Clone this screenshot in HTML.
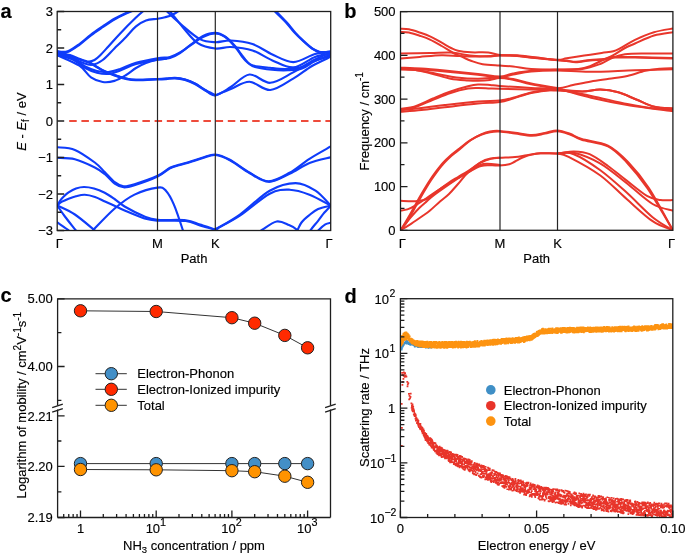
<!DOCTYPE html>
<html><head><meta charset="utf-8"><style>
html,body{margin:0;padding:0;background:#fff;width:685px;height:553px;overflow:hidden}
svg{display:block;font-family:"Liberation Sans",sans-serif;will-change:transform}
</style></head><body>
<svg width="685" height="553" viewBox="0 0 685 553" font-family="Liberation Sans, sans-serif" fill="#000"><style>text{stroke:#000;stroke-width:0.15px}</style><clipPath id="ca"><rect x="57.2" y="11.5" width="273.5" height="219.0"/></clipPath>
<line x1="64.8" y1="121" x2="330.7" y2="121" stroke="#ee4b3b" stroke-width="1.8" stroke-dasharray="7.5 4.7" stroke-dashoffset="7.8"/>
<g clip-path="url(#ca)" fill="none" stroke="#0f3cfa" stroke-width="2.15" stroke-linecap="round">
<path stroke-width="2.6" d="M91.00 63.40 C92.95 64.57 98.80 68.42 102.70 70.40 C106.60 72.38 110.50 73.90 114.40 75.30 C118.30 76.70 122.50 78.02 126.10 78.80 C129.70 79.58 130.75 79.92 136.00 80.00 C141.25 80.08 152.60 79.48 157.60 79.30 C162.60 79.12 163.10 79.08 166.00 78.90 C168.90 78.72 171.83 78.05 175.00 78.20 C178.17 78.35 181.67 78.87 185.00 79.80 C188.33 80.73 191.67 82.07 195.00 83.80 C198.33 85.53 201.62 88.28 205.00 90.20 C208.38 92.12 213.58 94.45 215.30 95.30"/>
<path d="M57.20 51.50 C58.95 51.47 64.00 52.55 67.70 51.30 C71.40 50.05 75.52 46.80 79.40 44.00 C83.28 41.20 87.12 37.43 91.00 34.50 C94.88 31.57 98.80 29.02 102.70 26.40 C106.60 23.78 110.50 21.05 114.40 18.80 C118.30 16.55 122.50 14.53 126.10 12.90 C129.70 11.27 132.68 10.15 136.00 9.00 C139.32 7.85 144.33 6.50 146.00 6.00"/>
<path d="M57.20 52.00 C58.95 52.00 64.00 53.20 67.70 52.00 C71.40 50.80 75.52 47.58 79.40 44.80 C83.28 42.02 87.12 38.23 91.00 35.30 C94.88 32.37 98.80 29.82 102.70 27.20 C106.60 24.58 110.50 21.87 114.40 19.60 C118.30 17.33 122.50 15.27 126.10 13.60 C129.70 11.93 132.68 10.77 136.00 9.60 C139.32 8.43 144.33 7.10 146.00 6.60"/>
<path d="M57.20 52.50 C59.33 52.92 66.20 53.92 70.00 55.00 C73.80 56.08 76.88 57.90 80.00 59.00 C83.12 60.10 86.28 61.43 88.70 61.60 C91.12 61.77 92.62 61.02 94.50 60.00 C96.38 58.98 97.65 57.80 100.00 55.50 C102.35 53.20 105.23 49.88 108.60 46.20 C111.97 42.52 115.63 38.17 120.20 33.40 C124.77 28.63 132.03 21.42 136.00 17.60 C139.97 13.78 141.33 12.77 144.00 10.50 C146.67 8.23 150.67 5.08 152.00 4.00"/>
<path d="M57.20 53.50 C59.67 54.25 67.87 56.50 72.00 58.00 C76.13 59.50 78.67 61.37 82.00 62.50 C85.33 63.63 88.55 65.22 92.00 64.80 C95.45 64.38 98.97 62.72 102.70 60.00 C106.43 57.28 110.50 52.35 114.40 48.50 C118.30 44.65 122.50 40.58 126.10 36.90 C129.70 33.22 132.68 29.13 136.00 26.40 C139.32 23.67 142.40 21.78 146.00 20.50 C149.60 19.22 154.43 19.25 157.60 18.70 C160.77 18.15 162.60 17.82 165.00 17.20 C167.40 16.58 169.50 16.20 172.00 15.00 C174.50 13.80 177.67 11.83 180.00 10.00 C182.33 8.17 185.00 5.00 186.00 4.00"/>
<path d="M57.20 51.10 C59.92 52.17 67.87 55.45 73.50 57.50 C79.13 59.55 86.13 61.25 91.00 63.40 C95.87 65.55 98.80 68.47 102.70 70.40 C106.60 72.33 110.50 73.65 114.40 75.00 C118.30 76.35 122.50 77.72 126.10 78.50 C129.70 79.28 130.75 79.62 136.00 79.70 C141.25 79.78 152.60 79.18 157.60 79.00 C162.60 78.82 163.10 78.78 166.00 78.60 C168.90 78.42 171.83 77.75 175.00 77.90 C178.17 78.05 181.67 78.57 185.00 79.50 C188.33 80.43 191.67 81.75 195.00 83.50 C198.33 85.25 201.62 88.05 205.00 90.00 C208.38 91.95 211.00 95.70 215.30 95.20 C219.60 94.70 225.10 90.45 230.80 87.00 C236.50 83.55 242.92 75.20 249.50 74.50 C256.08 73.80 263.02 83.15 270.30 82.80 C277.58 82.45 286.25 75.87 293.20 72.40 C300.15 68.93 305.75 64.77 312.00 62.00 C318.25 59.23 327.58 56.83 330.70 55.80"/>
<path d="M57.20 55.20 C59.92 55.98 68.83 57.77 73.50 59.90 C78.17 62.03 81.30 65.87 85.20 68.00 C89.10 70.13 93.00 71.72 96.90 72.70 C100.80 73.68 104.72 74.28 108.60 73.90 C112.48 73.52 115.63 72.05 120.20 70.40 C124.77 68.75 129.77 65.82 136.00 64.00 C142.23 62.18 151.93 60.50 157.60 59.50 C163.27 58.50 166.27 59.08 170.00 58.00 C173.73 56.92 176.40 55.33 180.00 53.00 C183.60 50.67 187.77 46.83 191.60 44.00 C195.43 41.17 199.05 37.85 203.00 36.00 C206.95 34.15 211.63 32.82 215.30 32.90 C218.97 32.98 221.72 34.32 225.00 36.50 C228.28 38.68 232.33 43.08 235.00 46.00 C237.67 48.92 239.00 51.42 241.00 54.00 C243.00 56.58 245.00 59.58 247.00 61.50 C249.00 63.42 249.17 64.45 253.00 65.50 C256.83 66.55 264.67 67.22 270.00 67.80 C275.33 68.38 280.00 69.05 285.00 69.00 C290.00 68.95 295.00 69.08 300.00 67.50 C305.00 65.92 309.88 61.98 315.00 59.50 C320.12 57.02 328.08 53.75 330.70 52.60"/>
<path d="M57.20 54.00 C59.92 54.83 68.83 56.92 73.50 59.00 C78.17 61.08 81.30 64.50 85.20 66.50 C89.10 68.50 93.00 70.08 96.90 71.00 C100.80 71.92 104.72 72.33 108.60 72.00 C112.48 71.67 115.63 70.53 120.20 69.00 C124.77 67.47 129.77 64.58 136.00 62.80 C142.23 61.02 151.93 59.27 157.60 58.30 C163.27 57.33 166.27 57.97 170.00 57.00 C173.73 56.03 176.40 54.58 180.00 52.50 C183.60 50.42 187.77 47.08 191.60 44.50 C195.43 41.92 199.05 38.83 203.00 37.00 C206.95 35.17 211.47 33.42 215.30 33.50 C219.13 33.58 222.55 35.08 226.00 37.50 C229.45 39.92 233.33 44.83 236.00 48.00 C238.67 51.17 240.00 54.00 242.00 56.50 C244.00 59.00 245.83 61.25 248.00 63.00 C250.17 64.75 251.00 65.87 255.00 67.00 C259.00 68.13 266.50 69.25 272.00 69.80 C277.50 70.35 283.00 70.52 288.00 70.30 C293.00 70.08 297.50 70.05 302.00 68.50 C306.50 66.95 310.22 63.33 315.00 61.00 C319.78 58.67 328.08 55.58 330.70 54.50"/>
<path d="M57.20 55.20 C60.90 56.95 73.77 62.00 79.40 65.70 C85.03 69.40 87.12 74.68 91.00 77.40 C94.88 80.12 98.80 81.42 102.70 82.00 C106.60 82.58 110.50 82.07 114.40 80.90 C118.30 79.73 122.50 77.15 126.10 75.00 C129.70 72.85 132.68 70.00 136.00 68.00 C139.32 66.00 142.40 64.37 146.00 63.00 C149.60 61.63 154.27 60.50 157.60 59.80 C160.93 59.10 164.60 58.97 166.00 58.80"/>
<path d="M158.00 1.00 C159.43 2.67 162.73 7.08 166.60 11.00 C170.47 14.92 175.65 19.82 181.20 24.50 C186.75 29.18 194.22 36.15 199.90 39.10 C205.58 42.05 210.15 41.97 215.30 42.20 C220.45 42.43 224.60 40.20 230.80 40.50 C237.00 40.80 245.57 41.67 252.50 44.00 C259.43 46.33 265.58 51.48 272.40 54.50 C279.22 57.52 286.30 62.18 293.40 62.10 C300.50 62.02 308.78 55.75 315.00 54.00 C321.22 52.25 328.08 52.00 330.70 51.60"/>
<path d="M161.00 1.00 C162.45 2.67 166.00 6.55 169.70 11.00 C173.40 15.45 178.52 22.33 183.20 27.70 C187.88 33.07 192.45 39.73 197.80 43.20 C203.15 46.67 209.80 47.87 215.30 48.50 C220.80 49.13 224.60 46.68 230.80 47.00 C237.00 47.32 245.57 48.17 252.50 50.40 C259.43 52.63 265.58 57.57 272.40 60.40 C279.22 63.23 286.30 67.98 293.40 67.40 C300.50 66.82 308.78 59.18 315.00 56.90 C321.22 54.62 328.08 54.23 330.70 53.70"/>
<path d="M215.30 95.30 C217.88 94.25 225.10 91.25 230.80 89.00 C236.50 86.75 242.92 81.63 249.50 81.80 C256.08 81.97 263.02 90.53 270.30 90.00 C277.58 89.47 286.25 82.60 293.20 78.60 C300.15 74.60 305.75 69.63 312.00 66.00 C318.25 62.37 327.58 58.33 330.70 56.80"/>
<path d="M265.00 1.00 C266.58 2.67 271.00 7.42 274.50 11.00 C278.00 14.58 282.75 19.00 286.00 22.50 C289.25 26.00 291.15 28.92 294.00 32.00 C296.85 35.08 300.08 38.25 303.10 41.00 C306.12 43.75 309.38 46.70 312.10 48.50 C314.82 50.30 317.25 51.22 319.40 51.80 C321.55 52.38 323.12 52.08 325.00 52.00 C326.88 51.92 329.75 51.42 330.70 51.30"/>
<path d="M266.50 1.00 C268.03 2.67 272.23 7.33 275.70 11.00 C279.17 14.67 284.03 19.40 287.30 23.00 C290.57 26.60 292.47 29.50 295.30 32.60 C298.13 35.70 301.32 38.83 304.30 41.60 C307.28 44.37 310.53 47.38 313.20 49.20 C315.87 51.02 318.25 51.90 320.30 52.50 C322.35 53.10 323.77 52.85 325.50 52.80 C327.23 52.75 329.83 52.30 330.70 52.20"/>
<path d="M57.20 147.30 C60.15 147.73 68.63 147.37 74.90 149.90 C81.17 152.43 89.83 158.82 94.80 162.50 C99.77 166.18 101.38 168.72 104.70 172.00 C108.02 175.28 111.55 179.82 114.70 182.20 C117.85 184.58 120.30 185.97 123.60 186.30 C126.90 186.63 128.83 185.95 134.50 184.20 C140.17 182.45 151.68 178.53 157.60 175.80 C163.52 173.07 166.27 169.68 170.00 167.80 C173.73 165.92 176.70 165.50 180.00 164.50 C183.30 163.50 185.97 162.97 189.80 161.80 C193.63 160.63 198.75 158.72 203.00 157.50 C207.25 156.28 210.82 154.12 215.30 154.50 C219.78 154.88 224.15 156.75 229.90 159.80 C235.65 162.85 243.33 169.22 249.80 172.80 C256.27 176.38 262.07 181.30 268.70 181.30 C275.33 181.30 282.80 176.55 289.60 172.80 C296.40 169.05 302.65 163.18 309.50 158.80 C316.35 154.42 327.17 148.55 330.70 146.50"/>
<path d="M57.20 157.80 C60.15 158.05 68.63 157.68 74.90 159.30 C81.17 160.92 89.83 165.05 94.80 167.50 C99.77 169.95 101.38 171.30 104.70 174.00 C108.02 176.70 111.55 181.48 114.70 183.70 C117.85 185.92 120.30 187.05 123.60 187.30 C126.90 187.55 128.83 187.00 134.50 185.20 C140.17 183.40 151.68 179.32 157.60 176.50 C163.52 173.68 166.27 170.22 170.00 168.30 C173.73 166.38 176.70 166.00 180.00 165.00 C183.30 164.00 185.97 163.47 189.80 162.30 C193.63 161.13 198.75 159.22 203.00 158.00 C207.25 156.78 210.82 154.62 215.30 155.00 C219.78 155.38 224.15 157.25 229.90 160.30 C235.65 163.35 243.33 169.72 249.80 173.30 C256.27 176.88 262.07 181.72 268.70 181.80 C275.33 181.88 282.80 176.93 289.60 173.80 C296.40 170.67 302.65 165.77 309.50 163.00 C316.35 160.23 327.17 158.17 330.70 157.20"/>
<path d="M57.20 205.50 C57.67 204.72 58.87 202.33 60.00 200.80 C61.13 199.27 62.57 197.70 64.00 196.30 C65.43 194.90 66.60 193.70 68.60 192.40 C70.60 191.10 73.43 189.40 76.00 188.50 C78.57 187.60 81.00 187.00 84.00 187.00 C87.00 187.00 90.55 187.53 94.00 188.50 C97.45 189.47 101.28 191.05 104.70 192.80 C108.12 194.55 111.18 196.72 114.50 199.00 C117.82 201.28 119.60 203.58 124.60 206.50 C129.60 209.42 139.00 214.28 144.50 216.50 C150.00 218.72 150.72 219.18 157.60 219.80 C164.48 220.42 178.73 219.42 185.80 220.20 C192.87 220.98 195.08 222.95 200.00 224.50 C204.92 226.05 211.63 228.08 215.30 229.50 C218.97 230.92 220.88 232.42 222.00 233.00"/>
<path d="M57.20 205.50 C58.00 204.87 60.10 202.83 62.00 201.70 C63.90 200.57 66.27 199.62 68.60 198.70 C70.93 197.78 73.30 196.85 76.00 196.20 C78.70 195.55 81.63 194.67 84.80 194.80 C87.97 194.93 91.63 195.88 95.00 197.00 C98.37 198.12 101.75 200.03 105.00 201.50 C108.25 202.97 111.23 204.30 114.50 205.80 C117.77 207.30 119.60 208.38 124.60 210.50 C129.60 212.62 139.00 216.82 144.50 218.50 C150.00 220.18 150.72 220.18 157.60 220.60 C164.48 221.02 178.73 220.18 185.80 221.00 C192.87 221.82 195.08 224.00 200.00 225.50 C204.92 227.00 211.63 228.58 215.30 230.00 C218.97 231.42 220.88 233.33 222.00 234.00"/>
<path d="M57.20 205.50 C58.48 207.33 61.78 212.33 64.90 216.50 C68.02 220.67 73.38 227.25 75.90 230.50 C78.42 233.75 79.32 235.08 80.00 236.00"/>
<path d="M57.20 205.50 C60.15 207.00 68.63 210.33 74.90 214.50 C81.17 218.67 90.62 227.08 94.80 230.50 C98.98 233.92 99.13 234.25 100.00 235.00"/>
<path d="M88.00 236.00 C88.80 235.08 88.35 235.08 92.80 230.50 C97.25 225.92 107.75 214.48 114.70 208.50 C121.65 202.52 127.35 198.08 134.50 194.60 C141.65 191.12 152.37 188.25 157.60 187.60 C162.83 186.95 163.18 187.87 165.90 190.70 C168.62 193.53 171.08 198.05 173.90 204.60 C176.72 211.15 181.12 224.77 182.80 230.00 C184.48 235.23 183.80 235.00 184.00 236.00"/>
<path d="M57.20 222.40 C59.15 223.75 66.43 228.57 68.90 230.50 C71.37 232.43 71.48 233.42 72.00 234.00"/>
<path d="M205.00 236.00 C206.72 234.92 209.48 233.07 215.30 229.50 C221.12 225.93 230.83 221.07 239.90 214.60 C248.97 208.13 260.42 195.95 269.70 190.70 C278.98 185.45 287.97 183.10 295.60 183.10 C303.23 183.10 309.65 186.95 315.50 190.70 C321.35 194.45 328.17 203.12 330.70 205.60"/>
<path d="M205.00 236.00 C206.72 234.92 209.48 232.90 215.30 229.50 C221.12 226.10 230.83 221.57 239.90 215.60 C248.97 209.63 261.42 198.02 269.70 193.70 C277.98 189.38 282.97 189.53 289.60 189.70 C296.23 189.87 302.65 192.05 309.50 194.70 C316.35 197.35 327.17 203.78 330.70 205.60"/>
<path d="M255.00 236.00 C256.28 234.92 259.08 231.92 262.70 229.50 C266.32 227.08 272.32 222.25 276.70 221.50 C281.08 220.75 285.68 223.67 289.00 225.00 C292.32 226.33 294.77 227.67 296.60 229.50 C298.43 231.33 299.43 234.92 300.00 236.00"/>
<path d="M330.70 205.60 C328.60 206.17 321.72 207.37 318.10 209.00 C314.48 210.63 311.77 213.15 309.00 215.40 C306.23 217.65 303.40 220.07 301.50 222.50 C299.60 224.93 298.68 227.75 297.60 230.00 C296.52 232.25 295.43 235.00 295.00 236.00"/>
<path d="M330.70 206.00 C329.50 207.27 325.60 211.13 323.50 213.60 C321.40 216.07 320.22 218.10 318.10 220.80 C315.98 223.50 312.65 227.27 310.80 229.80 C308.95 232.33 307.63 234.97 307.00 236.00"/>
<path d="M330.70 222.80 C329.80 223.07 327.25 223.23 325.30 224.40 C323.35 225.57 320.88 227.87 319.00 229.80 C317.12 231.73 314.83 234.97 314.00 236.00"/>
</g>
<path d="M157.50 11.5V230.5M215.30 11.5V230.5" stroke="#262626" stroke-width="1.2"/>
<rect x="57.2" y="11.5" width="273.5" height="219.0" fill="none" stroke="#1e1e1e" stroke-width="1.3"/>
<path d="M57.2 230.50 h7 M57.2 194.00 h7 M57.2 157.50 h7 M57.2 121.00 h7 M57.2 84.50 h7 M57.2 48.00 h7 M57.2 11.50 h7 M57.2 212.25 h4 M57.2 175.75 h4 M57.2 139.25 h4 M57.2 102.75 h4 M57.2 66.25 h4 M57.2 29.75 h4 " stroke="#1e1e1e" stroke-width="1.3"/>
<text x="53.00" y="16.10" font-size="13" text-anchor="end" font-weight="normal" >3</text>
<text x="53.00" y="52.60" font-size="13" text-anchor="end" font-weight="normal" >2</text>
<text x="53.00" y="89.10" font-size="13" text-anchor="end" font-weight="normal" >1</text>
<text x="53.00" y="125.60" font-size="13" text-anchor="end" font-weight="normal" >0</text>
<text x="53.00" y="162.10" font-size="13" text-anchor="end" font-weight="normal" >−1</text>
<text x="53.00" y="198.60" font-size="13" text-anchor="end" font-weight="normal" >−2</text>
<text x="53.00" y="235.10" font-size="13" text-anchor="end" font-weight="normal" >−3</text>
<text x="59.40" y="247.90" font-size="13" text-anchor="middle" font-weight="normal" >Γ</text>
<text x="157.50" y="247.90" font-size="13" text-anchor="middle" font-weight="normal" >M</text>
<text x="215.30" y="247.90" font-size="13" text-anchor="middle" font-weight="normal" >K</text>
<text x="329.10" y="247.90" font-size="13" text-anchor="middle" font-weight="normal" >Γ</text>
<text x="194.00" y="263.20" font-size="13" text-anchor="middle" font-weight="normal" >Path</text>
<text transform="translate(26.1 121.6) rotate(-90)" font-size="13" text-anchor="middle"><tspan font-style="italic">E</tspan> - <tspan font-style="italic">E</tspan><tspan font-size="10" dy="2.5">f</tspan><tspan dy="-2.5"> / eV</tspan></text>
<text x="0.60" y="17.80" font-size="20" text-anchor="start" font-weight="bold" >a</text>
<clipPath id="cb"><rect x="400.5" y="11.6" width="272.4" height="218.7"/></clipPath>
<g clip-path="url(#cb)" fill="none" stroke="#e8362b" stroke-width="2.0" stroke-linecap="round">
<path d="M400.50 28.70 C401.90 28.80 405.70 28.67 408.90 29.30 C412.10 29.93 416.18 31.33 419.70 32.50 C423.22 33.67 426.33 34.60 430.00 36.30 C433.67 38.00 438.20 40.75 441.70 42.70 C445.20 44.65 448.28 46.65 451.00 48.00 C453.72 49.35 454.68 50.08 458.00 50.80 C461.32 51.52 465.83 52.02 470.90 52.30 C475.97 52.58 483.62 52.05 488.40 52.50 C493.18 52.95 494.82 54.53 499.60 55.00 C504.38 55.47 511.20 54.92 517.10 55.30 C523.00 55.68 528.27 56.55 535.00 57.30 C541.73 58.05 552.22 59.63 557.50 59.80 C562.78 59.97 562.25 59.00 566.70 58.30 C571.15 57.60 578.37 56.48 584.20 55.60 C590.03 54.72 596.83 53.72 601.70 53.00 C606.57 52.28 610.28 52.10 613.40 51.30 C616.52 50.50 616.80 50.12 620.40 48.20 C624.00 46.28 629.40 42.47 635.00 39.80 C640.60 37.13 647.68 34.08 654.00 32.20 C660.32 30.32 669.75 29.12 672.90 28.50"/>
<path d="M400.50 31.90 C401.90 31.98 405.70 31.77 408.90 32.40 C412.10 33.03 416.18 34.50 419.70 35.70 C423.22 36.90 426.33 37.88 430.00 39.60 C433.67 41.32 437.80 43.77 441.70 46.00 C445.60 48.23 449.90 51.13 453.40 53.00 C456.90 54.87 459.78 55.92 462.70 57.20 C465.62 58.48 467.58 59.53 470.90 60.70 C474.22 61.87 477.82 63.38 482.60 64.20 C487.38 65.02 494.52 65.23 499.60 65.60 C504.68 65.97 507.83 65.83 513.10 66.40 C518.37 66.97 523.80 68.43 531.20 69.00 C538.60 69.57 549.63 69.80 557.50 69.80 C565.37 69.80 572.98 69.60 578.40 69.00 C583.82 68.40 586.12 67.62 590.00 66.20 C593.88 64.78 597.80 62.33 601.70 60.50 C605.60 58.67 609.52 57.28 613.40 55.20 C617.28 53.12 621.40 49.95 625.00 48.00 C628.60 46.05 630.17 45.58 635.00 43.50 C639.83 41.42 647.68 37.38 654.00 35.50 C660.32 33.62 669.75 32.75 672.90 32.20"/>
<path d="M400.50 53.60 C405.42 53.52 421.58 53.28 430.00 53.10 C438.42 52.92 444.33 52.10 451.00 52.50 C457.67 52.90 463.83 54.83 470.00 55.50 C476.17 56.17 483.07 56.53 488.00 56.50 C492.93 56.47 494.75 55.42 499.60 55.30 C504.45 55.18 511.20 55.38 517.10 55.80 C523.00 56.22 528.27 57.10 535.00 57.80 C541.73 58.50 552.22 59.53 557.50 60.00 C562.78 60.47 563.62 60.30 566.70 60.60 C569.78 60.90 572.12 61.90 576.00 61.80 C579.88 61.70 585.33 60.48 590.00 60.00 C594.67 59.52 600.10 59.38 604.00 58.90 C607.90 58.42 608.23 57.40 613.40 57.10 C618.57 56.80 625.08 56.95 635.00 57.10 C644.92 57.25 666.58 57.85 672.90 58.00"/>
<path d="M400.50 58.50 C403.70 58.23 412.88 57.43 419.70 56.90 C426.52 56.37 434.68 55.45 441.40 55.30 C448.12 55.15 453.57 55.80 460.00 56.00 C466.43 56.20 473.40 56.58 480.00 56.50 C486.60 56.42 493.42 55.58 499.60 55.50 C505.78 55.42 511.20 55.58 517.10 56.00 C523.00 56.42 528.27 57.28 535.00 58.00 C541.73 58.72 552.22 59.80 557.50 60.30 C562.78 60.80 563.62 60.67 566.70 61.00 C569.78 61.33 572.12 62.38 576.00 62.30 C579.88 62.22 585.33 60.98 590.00 60.50 C594.67 60.02 600.10 59.88 604.00 59.40 C607.90 58.92 608.23 57.90 613.40 57.60 C618.57 57.30 625.08 57.45 635.00 57.60 C644.92 57.75 666.58 58.35 672.90 58.50"/>
<path d="M400.50 67.70 C403.98 67.85 414.03 68.12 421.40 68.60 C428.77 69.08 435.27 69.70 444.70 70.60 C454.13 71.50 468.85 73.02 478.00 74.00 C487.15 74.98 493.75 76.60 499.60 76.50 C505.45 76.40 507.83 74.37 513.10 73.40 C518.37 72.43 523.80 71.35 531.20 70.70 C538.60 70.05 549.02 69.78 557.50 69.50 C565.98 69.22 574.98 69.92 582.10 69.00 C589.22 68.08 595.22 65.83 600.20 64.00 C605.18 62.17 607.87 59.63 612.00 58.00 C616.13 56.37 619.50 54.97 625.00 54.20 C630.50 53.43 637.02 53.50 645.00 53.40 C652.98 53.30 668.25 53.57 672.90 53.60"/>
<path d="M400.50 68.40 C403.98 68.57 414.03 68.90 421.40 69.40 C428.77 69.90 435.27 70.50 444.70 71.40 C454.13 72.30 468.85 73.83 478.00 74.80 C487.15 75.77 493.75 77.25 499.60 77.20 C505.45 77.15 507.83 75.45 513.10 74.50 C518.37 73.55 523.80 72.17 531.20 71.50 C538.60 70.83 547.70 70.45 557.50 70.50 C567.30 70.55 577.08 71.85 590.00 71.80 C602.92 71.75 621.18 70.62 635.00 70.20 C648.82 69.78 666.58 69.45 672.90 69.30"/>
<path d="M400.50 69.40 C403.00 69.48 410.08 69.13 415.50 69.90 C420.92 70.67 427.15 72.53 433.00 74.00 C438.85 75.47 444.77 77.63 450.60 78.70 C456.43 79.77 463.43 80.05 468.00 80.40 C472.57 80.75 474.33 80.87 478.00 80.80 C481.67 80.73 486.40 80.45 490.00 80.00 C493.60 79.55 495.75 78.15 499.60 78.10 C503.45 78.05 507.83 78.67 513.10 79.70 C518.37 80.73 523.80 82.88 531.20 84.30 C538.60 85.72 550.53 88.08 557.50 88.20 C564.47 88.32 567.40 86.13 573.00 85.00 C578.60 83.87 585.10 82.43 591.10 81.40 C597.10 80.37 602.97 79.70 609.00 78.80 C615.03 77.90 621.23 77.33 627.30 76.00 C633.37 74.67 639.95 72.00 645.40 70.80 C650.85 69.60 655.42 69.22 660.00 68.80 C664.58 68.38 670.75 68.38 672.90 68.30"/>
<path d="M400.50 69.00 C403.75 69.25 413.42 69.58 420.00 70.50 C426.58 71.42 433.93 73.33 440.00 74.50 C446.07 75.67 450.07 76.80 456.40 77.50 C462.73 78.20 470.80 78.70 478.00 78.70 C485.20 78.70 493.75 77.45 499.60 77.50 C505.45 77.55 507.83 78.00 513.10 79.00 C518.37 80.00 523.80 82.00 531.20 83.50 C538.60 85.00 553.12 87.25 557.50 88.00"/>
<path d="M400.50 109.00 C403.00 108.52 410.08 107.85 415.50 106.10 C420.92 104.35 427.15 100.93 433.00 98.50 C438.85 96.07 444.77 93.53 450.60 91.50 C456.43 89.47 463.43 87.47 468.00 86.30 C472.57 85.13 474.33 84.72 478.00 84.50 C481.67 84.28 486.40 84.75 490.00 85.00 C493.60 85.25 492.73 85.52 499.60 86.00 C506.47 86.48 521.55 87.32 531.20 87.90 C540.85 88.48 547.52 88.17 557.50 89.50 C567.48 90.83 579.47 93.48 591.10 95.90 C602.73 98.32 616.75 101.88 627.30 104.00 C637.85 106.12 646.80 107.68 654.40 108.60 C662.00 109.52 669.82 109.35 672.90 109.50"/>
<path d="M400.50 109.80 C403.00 109.33 410.08 108.67 415.50 107.00 C420.92 105.33 427.15 102.13 433.00 99.80 C438.85 97.47 444.77 94.87 450.60 93.00 C456.43 91.13 463.43 89.43 468.00 88.60 C472.57 87.77 474.33 88.02 478.00 88.00 C481.67 87.98 486.40 88.37 490.00 88.50 C493.60 88.63 492.73 88.63 499.60 88.80 C506.47 88.97 521.55 89.22 531.20 89.50 C540.85 89.78 549.02 90.18 557.50 90.50 C565.98 90.82 574.98 91.55 582.10 91.40 C589.22 91.25 594.17 89.45 600.20 89.60 C606.23 89.75 612.28 90.65 618.30 92.30 C624.32 93.95 630.28 97.08 636.30 99.50 C642.32 101.92 648.30 105.32 654.40 106.80 C660.50 108.28 669.82 108.13 672.90 108.40"/>
<path d="M400.50 110.20 C403.98 109.82 414.03 108.77 421.40 107.90 C428.77 107.03 435.27 106.07 444.70 105.00 C454.13 103.93 468.85 102.25 478.00 101.50 C487.15 100.75 493.75 101.12 499.60 100.50 C505.45 99.88 507.83 99.15 513.10 97.80 C518.37 96.45 525.17 93.75 531.20 92.40 C537.23 91.05 544.92 90.30 549.30 89.70 C553.68 89.10 550.53 87.47 557.50 88.80 C564.47 90.13 579.47 95.02 591.10 97.70 C602.73 100.38 613.67 102.63 627.30 104.90 C640.93 107.17 665.30 110.23 672.90 111.30"/>
<path d="M400.50 111.80 C403.98 111.50 414.03 110.75 421.40 110.00 C428.77 109.25 435.27 108.37 444.70 107.30 C454.13 106.23 468.85 104.48 478.00 103.60 C487.15 102.72 493.75 102.85 499.60 102.00 C505.45 101.15 507.83 100.00 513.10 98.50 C518.37 97.00 525.17 94.37 531.20 93.00 C537.23 91.63 544.92 90.88 549.30 90.30 C553.68 89.72 552.03 89.32 557.50 89.50 C562.97 89.68 574.98 91.38 582.10 91.40 C589.22 91.42 594.17 89.45 600.20 89.60 C606.23 89.75 612.28 90.65 618.30 92.30 C624.32 93.95 630.28 97.08 636.30 99.50 C642.32 101.92 648.30 105.32 654.40 106.80 C660.50 108.28 669.82 108.13 672.90 108.40"/>
<path d="M400.50 230.30 C401.25 229.08 403.42 225.63 405.00 223.00 C406.58 220.37 408.33 217.42 410.00 214.50 C411.67 211.58 413.33 208.50 415.00 205.50 C416.67 202.50 418.33 199.42 420.00 196.50 C421.67 193.58 423.33 190.75 425.00 188.00 C426.67 185.25 428.33 182.53 430.00 180.00 C431.67 177.47 433.33 175.08 435.00 172.80 C436.67 170.52 438.33 168.30 440.00 166.30 C441.67 164.30 443.33 162.52 445.00 160.80 C446.67 159.08 447.50 158.13 450.00 156.00 C452.50 153.87 456.67 150.62 460.00 148.00 C463.33 145.38 466.48 142.50 470.00 140.30 C473.52 138.10 477.77 136.15 481.10 134.80 C484.43 133.45 486.92 132.73 490.00 132.20 C493.08 131.67 495.43 131.38 499.60 131.60 C503.77 131.82 509.63 132.80 515.00 133.50 C520.37 134.20 526.80 135.78 531.80 135.80 C536.80 135.82 540.72 134.37 545.00 133.60 C549.28 132.83 553.33 131.05 557.50 131.20 C561.67 131.35 565.97 133.08 570.00 134.50 C574.03 135.92 575.37 137.73 581.70 139.70 C588.03 141.67 600.55 142.58 608.00 146.30 C615.45 150.02 619.83 155.00 626.40 162.00 C632.97 169.00 639.65 176.92 647.40 188.30 C655.15 199.68 668.65 223.30 672.90 230.30"/>
<path d="M400.50 230.30 C401.45 229.08 404.42 225.63 406.20 223.00 C407.98 220.37 409.53 217.42 411.20 214.50 C412.87 211.58 414.53 208.50 416.20 205.50 C417.87 202.50 419.53 199.42 421.20 196.50 C422.87 193.58 424.53 190.75 426.20 188.00 C427.87 185.25 429.53 182.53 431.20 180.00 C432.87 177.47 434.53 175.08 436.20 172.80 C437.87 170.52 439.53 168.30 441.20 166.30 C442.87 164.30 444.53 162.52 446.20 160.80 C447.87 159.08 448.70 158.13 451.20 156.00 C453.70 153.87 457.90 150.67 461.20 148.00 C464.50 145.33 467.60 142.32 471.00 140.00 C474.40 137.68 478.43 135.53 481.60 134.10 C484.77 132.67 487.00 131.93 490.00 131.40 C493.00 130.87 495.43 130.68 499.60 130.90 C503.77 131.12 509.63 132.02 515.00 132.70 C520.37 133.38 526.80 134.97 531.80 135.00 C536.80 135.03 540.72 133.65 545.00 132.90 C549.28 132.15 553.33 130.35 557.50 130.50 C561.67 130.65 565.97 132.38 570.00 133.80 C574.03 135.22 575.37 137.03 581.70 139.00 C588.03 140.97 600.28 141.77 608.00 145.60 C615.72 149.43 621.17 154.88 628.00 162.00 C634.83 169.12 641.52 176.92 649.00 188.30 C656.48 199.68 668.92 223.30 672.90 230.30"/>
<path d="M400.50 200.80 C403.02 200.87 411.02 201.58 415.60 201.20 C420.18 200.82 424.27 200.28 428.00 198.50 C431.73 196.72 434.50 193.17 438.00 190.50 C441.50 187.83 445.67 184.75 449.00 182.50 C452.33 180.25 454.83 178.92 458.00 177.00 C461.17 175.08 464.17 173.42 468.00 171.00 C471.83 168.58 477.08 164.57 481.00 162.50 C484.92 160.43 488.40 159.38 491.50 158.60 C494.60 157.82 495.68 158.05 499.60 157.80 C503.52 157.55 510.48 157.52 515.00 157.10 C519.52 156.68 522.42 155.95 526.70 155.30 C530.98 154.65 535.57 153.52 540.70 153.20 C545.83 152.88 551.98 153.68 557.50 153.40 C563.02 153.12 568.45 151.37 573.80 151.50 C579.15 151.63 583.90 151.78 589.60 154.20 C595.30 156.62 601.87 161.63 608.00 166.00 C614.13 170.37 619.83 175.37 626.40 180.40 C632.97 185.43 641.72 192.93 647.40 196.20 C653.08 199.47 656.25 199.35 660.50 200.00 C664.75 200.65 670.83 200.08 672.90 200.10"/>
<path d="M400.50 210.60 C401.65 210.40 404.88 210.28 407.40 209.40 C409.92 208.52 412.27 207.28 415.60 205.30 C418.93 203.32 423.47 200.13 427.40 197.50 C431.33 194.87 435.60 191.83 439.20 189.50 C442.80 187.17 445.87 185.42 449.00 183.50 C452.13 181.58 454.83 179.87 458.00 178.00 C461.17 176.13 464.17 174.30 468.00 172.30 C471.83 170.30 477.08 167.17 481.00 166.00 C484.92 164.83 488.40 165.38 491.50 165.30 C494.60 165.22 496.65 165.67 499.60 165.50 C502.55 165.33 506.63 164.97 509.20 164.30 C511.77 163.63 512.67 162.67 515.00 161.50 C517.33 160.33 520.27 158.48 523.20 157.30 C526.13 156.12 529.68 155.07 532.60 154.40 C535.52 153.73 536.55 153.47 540.70 153.30 C544.85 153.13 551.98 153.48 557.50 153.40 C563.02 153.32 566.72 151.13 573.80 152.80 C580.88 154.47 591.23 158.37 600.00 163.40 C608.77 168.43 617.63 176.23 626.40 183.00 C635.17 189.77 644.85 199.40 652.60 204.00 C660.35 208.60 669.52 209.50 672.90 210.60"/>
<path d="M400.50 230.30 C401.25 229.33 403.18 226.78 405.00 224.50 C406.82 222.22 409.07 219.32 411.40 216.60 C413.73 213.88 416.47 210.73 419.00 208.20 C421.53 205.67 424.07 203.60 426.60 201.40 C429.13 199.20 430.47 197.82 434.20 195.00 C437.93 192.18 445.03 187.25 449.00 184.50 C452.97 181.75 454.83 180.58 458.00 178.50 C461.17 176.42 464.17 174.75 468.00 172.00 C471.83 169.25 477.08 164.27 481.00 162.00 C484.92 159.73 488.40 159.10 491.50 158.40 C494.60 157.70 498.25 157.90 499.60 157.80"/>
<path d="M400.50 230.30 C402.32 229.18 407.68 226.02 411.40 223.60 C415.12 221.18 419.70 217.98 422.80 215.80 C425.90 213.62 427.13 212.88 430.00 210.50 C432.87 208.12 436.83 204.25 440.00 201.50 C443.17 198.75 446.00 196.92 449.00 194.00 C452.00 191.08 454.83 187.53 458.00 184.00 C461.17 180.47 463.80 176.13 468.00 172.80 C472.20 169.47 477.93 165.30 483.20 164.00 C488.47 162.70 496.87 164.83 499.60 165.00"/>
<path d="M557.50 153.40 C560.22 153.53 566.72 151.43 573.80 154.20 C580.88 156.97 591.23 163.65 600.00 170.00 C608.77 176.35 617.63 184.43 626.40 192.30 C635.17 200.17 644.85 210.87 652.60 217.20 C660.35 223.53 669.52 228.12 672.90 230.30"/>
<path d="M557.50 153.40 C559.35 153.97 561.52 153.17 568.60 156.80 C575.68 160.43 590.37 168.20 600.00 175.20 C609.63 182.20 617.63 191.13 626.40 198.80 C635.17 206.47 644.85 215.95 652.60 221.20 C660.35 226.45 669.52 228.78 672.90 230.30"/>
</g>
<path d="M500.00 11.6V230.3M557.50 11.6V230.3" stroke="#262626" stroke-width="1.2"/>
<rect x="400.5" y="11.6" width="272.4" height="218.7" fill="none" stroke="#1e1e1e" stroke-width="1.3"/>
<path d="M400.5 230.30 h7 M400.5 186.56 h7 M400.5 142.82 h7 M400.5 99.08 h7 M400.5 55.34 h7 M400.5 11.60 h7 M400.5 208.43 h4 M400.5 164.69 h4 M400.5 120.95 h4 M400.5 77.21 h4 M400.5 33.47 h4 " stroke="#1e1e1e" stroke-width="1.3"/>
<text x="395.60" y="234.90" font-size="13" text-anchor="end" font-weight="normal" >0</text>
<text x="395.60" y="191.16" font-size="13" text-anchor="end" font-weight="normal" >100</text>
<text x="395.60" y="147.42" font-size="13" text-anchor="end" font-weight="normal" >200</text>
<text x="395.60" y="103.68" font-size="13" text-anchor="end" font-weight="normal" >300</text>
<text x="395.60" y="59.94" font-size="13" text-anchor="end" font-weight="normal" >400</text>
<text x="395.60" y="16.20" font-size="13" text-anchor="end" font-weight="normal" >500</text>
<text x="402.30" y="247.80" font-size="13" text-anchor="middle" font-weight="normal" >Γ</text>
<text x="500.00" y="247.80" font-size="13" text-anchor="middle" font-weight="normal" >M</text>
<text x="557.50" y="247.80" font-size="13" text-anchor="middle" font-weight="normal" >K</text>
<text x="671.50" y="247.80" font-size="13" text-anchor="middle" font-weight="normal" >Γ</text>
<text x="536.70" y="263.20" font-size="13" text-anchor="middle" font-weight="normal" >Path</text>
<text transform="translate(368.8 121.3) rotate(-90)" font-size="13" text-anchor="middle">Frequency / cm<tspan font-size="10" dy="-5.5">-1</tspan></text>
<text x="344.30" y="17.80" font-size="20" text-anchor="start" font-weight="bold" >b</text>
<path d="M57.6 405.6 V298.8 H330.5 V405.6 M57.6 409.6 V517.5 M330.5 409.6 V517.5" fill="none" stroke="#1e1e1e" stroke-width="1.3"/>
<path d="M57.6 517.5 H330.5" stroke="#1e1e1e" stroke-width="1.3"/>
<path d="M52.20 407.70 L62.80 404.20 M52.20 412.20 L62.80 408.70" stroke="#1e1e1e" stroke-width="1.3"/>
<path d="M325.10 407.70 L335.70 404.20 M325.10 412.20 L335.70 408.70" stroke="#1e1e1e" stroke-width="1.3"/>
<path d="M57.6 298.80 h7 M57.6 366.50 h7 M57.6 415.80 h7 M57.6 466.30 h7 M57.6 517.50 h7 M57.6 332.60 h3.8 M57.6 400.30 h3.8 M57.6 441.00 h3.8 M57.6 491.90 h3.8 M80.50 517.5 v-7 M156.20 517.5 v-7 M231.90 517.5 v-7 M307.60 517.5 v-7 M63.71 517.5 v-3.6 M68.77 517.5 v-3.6 M73.16 517.5 v-3.6 M77.04 517.5 v-3.6 M103.29 517.5 v-3.6 M116.62 517.5 v-3.6 M126.08 517.5 v-3.6 M133.41 517.5 v-3.6 M139.41 517.5 v-3.6 M144.47 517.5 v-3.6 M148.86 517.5 v-3.6 M152.74 517.5 v-3.6 M178.99 517.5 v-3.6 M192.32 517.5 v-3.6 M201.78 517.5 v-3.6 M209.11 517.5 v-3.6 M215.11 517.5 v-3.6 M220.17 517.5 v-3.6 M224.56 517.5 v-3.6 M228.44 517.5 v-3.6 M254.69 517.5 v-3.6 M268.02 517.5 v-3.6 M277.48 517.5 v-3.6 M284.81 517.5 v-3.6 M290.81 517.5 v-3.6 M295.87 517.5 v-3.6 M300.26 517.5 v-3.6 M304.14 517.5 v-3.6 " stroke="#1e1e1e" stroke-width="1.3"/>
<text x="52.80" y="303.40" font-size="13" text-anchor="end" font-weight="normal" >5.00</text>
<text x="52.80" y="371.10" font-size="13" text-anchor="end" font-weight="normal" >4.00</text>
<text x="52.80" y="421.00" font-size="13" text-anchor="end" font-weight="normal" >2.21</text>
<text x="52.80" y="470.90" font-size="13" text-anchor="end" font-weight="normal" >2.20</text>
<text x="52.80" y="522.10" font-size="13" text-anchor="end" font-weight="normal" >2.19</text>
<text x="80.50" y="533.30" font-size="13" text-anchor="middle" font-weight="normal" >1</text>
<text x="160.10" y="533.30" font-size="13" text-anchor="end" font-weight="normal" >10</text>
<text x="160.10" y="526.30" font-size="10.8" text-anchor="start" font-weight="normal" >1</text>
<text x="235.80" y="533.30" font-size="13" text-anchor="end" font-weight="normal" >10</text>
<text x="235.80" y="526.30" font-size="10.8" text-anchor="start" font-weight="normal" >2</text>
<text x="311.50" y="533.30" font-size="13" text-anchor="end" font-weight="normal" >10</text>
<text x="311.50" y="526.30" font-size="10.8" text-anchor="start" font-weight="normal" >3</text>
<text x="194" y="549.9" font-size="13" text-anchor="middle">NH<tspan font-size="9.5" dy="3">3</tspan><tspan dy="-3"> concentration / ppm</tspan></text>
<text transform="translate(26.1 405.2) rotate(-90)" font-size="13" text-anchor="middle">Logarithm of mobility / cm<tspan font-size="10" dy="-5.5">2</tspan><tspan dy="5.5">V</tspan><tspan font-size="10" dy="-5.5">-1</tspan><tspan dy="5.5">s</tspan><tspan font-size="10" dy="-5.5">-1</tspan></text>
<text x="0.60" y="302.40" font-size="20" text-anchor="start" font-weight="bold" >c</text>
<polyline points="80.50,310.80 156.20,311.50 231.90,317.70 254.69,323.20 284.81,335.40 307.60,347.80" fill="none" stroke="#333" stroke-width="1"/>
<polyline points="80.50,463.60 156.20,463.60 231.90,463.60 254.69,463.60 284.81,463.60 307.60,463.60" fill="none" stroke="#333" stroke-width="1"/>
<polyline points="80.50,469.50 156.20,469.80 231.90,470.70 254.69,471.70 284.81,476.20 307.60,482.30" fill="none" stroke="#333" stroke-width="1"/>
<circle cx="80.50" cy="310.80" r="6.2" fill="#ff2a00" stroke="#222" stroke-width="1"/>
<circle cx="156.20" cy="311.50" r="6.2" fill="#ff2a00" stroke="#222" stroke-width="1"/>
<circle cx="231.90" cy="317.70" r="6.2" fill="#ff2a00" stroke="#222" stroke-width="1"/>
<circle cx="254.69" cy="323.20" r="6.2" fill="#ff2a00" stroke="#222" stroke-width="1"/>
<circle cx="284.81" cy="335.40" r="6.2" fill="#ff2a00" stroke="#222" stroke-width="1"/>
<circle cx="307.60" cy="347.80" r="6.2" fill="#ff2a00" stroke="#222" stroke-width="1"/>
<circle cx="80.50" cy="463.60" r="6.2" fill="#438fc7" stroke="#222" stroke-width="1"/>
<circle cx="156.20" cy="463.60" r="6.2" fill="#438fc7" stroke="#222" stroke-width="1"/>
<circle cx="231.90" cy="463.60" r="6.2" fill="#438fc7" stroke="#222" stroke-width="1"/>
<circle cx="254.69" cy="463.60" r="6.2" fill="#438fc7" stroke="#222" stroke-width="1"/>
<circle cx="284.81" cy="463.60" r="6.2" fill="#438fc7" stroke="#222" stroke-width="1"/>
<circle cx="307.60" cy="463.60" r="6.2" fill="#438fc7" stroke="#222" stroke-width="1"/>
<circle cx="80.50" cy="469.50" r="6.2" fill="#ff9300" stroke="#222" stroke-width="1"/>
<circle cx="156.20" cy="469.80" r="6.2" fill="#ff9300" stroke="#222" stroke-width="1"/>
<circle cx="231.90" cy="470.70" r="6.2" fill="#ff9300" stroke="#222" stroke-width="1"/>
<circle cx="254.69" cy="471.70" r="6.2" fill="#ff9300" stroke="#222" stroke-width="1"/>
<circle cx="284.81" cy="476.20" r="6.2" fill="#ff9300" stroke="#222" stroke-width="1"/>
<circle cx="307.60" cy="482.30" r="6.2" fill="#ff9300" stroke="#222" stroke-width="1"/>
<line x1="95.5" y1="373.7" x2="126.8" y2="373.7" stroke="#333" stroke-width="1"/>
<circle cx="111.3" cy="373.7" r="6.2" fill="#438fc7" stroke="#222" stroke-width="1"/>
<text x="137.30" y="378.40" font-size="13" text-anchor="start" font-weight="normal" >Electron-Phonon</text>
<line x1="95.5" y1="389.3" x2="126.8" y2="389.3" stroke="#333" stroke-width="1"/>
<circle cx="111.3" cy="389.3" r="6.2" fill="#ff2a00" stroke="#222" stroke-width="1"/>
<text x="137.30" y="394.00" font-size="13" text-anchor="start" font-weight="normal" >Electron-Ionized impurity</text>
<line x1="95.5" y1="405.3" x2="126.8" y2="405.3" stroke="#333" stroke-width="1"/>
<circle cx="111.3" cy="405.3" r="6.2" fill="#ff9300" stroke="#222" stroke-width="1"/>
<text x="137.30" y="410.00" font-size="13" text-anchor="start" font-weight="normal" >Total</text>
<clipPath id="cd"><rect x="400.4" y="298.7" width="272.4" height="219.8"/></clipPath>
<g clip-path="url(#cd)">
<path d="M399.8 346.9h1.7v1.7h-1.7zM399.8 346.6h1.7v1.7h-1.7zM399.5 347.7h1.7v1.7h-1.7zM400.2 346.5h1.7v1.7h-1.7zM400.0 346.6h1.7v1.7h-1.7zM400.4 347.9h1.7v1.7h-1.7zM400.8 346.4h1.7v1.7h-1.7zM400.8 348.9h1.7v1.7h-1.7zM401.0 347.0h1.7v1.7h-1.7zM401.1 347.6h1.7v1.7h-1.7zM401.1 345.2h1.7v1.7h-1.7zM401.4 345.7h1.7v1.7h-1.7zM401.8 345.7h1.7v1.7h-1.7zM401.8 345.0h1.7v1.7h-1.7zM401.5 344.0h1.7v1.7h-1.7zM402.2 345.0h1.7v1.7h-1.7zM402.3 343.9h1.7v1.7h-1.7zM402.1 344.3h1.7v1.7h-1.7zM402.6 344.1h1.7v1.7h-1.7zM402.8 343.7h1.7v1.7h-1.7zM403.1 343.2h1.7v1.7h-1.7zM403.1 343.9h1.7v1.7h-1.7zM403.6 342.4h1.7v1.7h-1.7zM403.5 341.6h1.7v1.7h-1.7zM404.3 342.2h1.7v1.7h-1.7zM404.2 342.5h1.7v1.7h-1.7zM404.8 341.4h1.7v1.7h-1.7zM404.9 341.0h1.7v1.7h-1.7zM405.3 340.9h1.7v1.7h-1.7zM405.4 339.7h1.7v1.7h-1.7zM405.9 342.7h1.7v1.7h-1.7zM405.7 340.6h1.7v1.7h-1.7zM406.2 340.0h1.7v1.7h-1.7zM406.1 340.4h1.7v1.7h-1.7zM406.6 342.5h1.7v1.7h-1.7zM406.7 340.9h1.7v1.7h-1.7zM406.5 342.8h1.7v1.7h-1.7zM407.4 342.0h1.7v1.7h-1.7zM407.4 342.9h1.7v1.7h-1.7zM407.7 341.9h1.7v1.7h-1.7zM408.0 343.3h1.7v1.7h-1.7zM408.1 341.4h1.7v1.7h-1.7zM408.2 341.5h1.7v1.7h-1.7zM408.1 342.6h1.7v1.7h-1.7zM408.7 342.3h1.7v1.7h-1.7zM409.0 342.8h1.7v1.7h-1.7zM408.8 343.1h1.7v1.7h-1.7zM409.0 343.3h1.7v1.7h-1.7zM409.4 344.0h1.7v1.7h-1.7zM409.7 343.9h1.7v1.7h-1.7zM409.6 342.7h1.7v1.7h-1.7zM410.0 342.0h1.7v1.7h-1.7zM410.1 342.4h1.7v1.7h-1.7zM410.5 342.2h1.7v1.7h-1.7zM410.6 342.5h1.7v1.7h-1.7zM411.4 342.4h1.7v1.7h-1.7zM411.1 343.9h1.7v1.7h-1.7zM411.7 343.5h1.7v1.7h-1.7zM411.9 342.9h1.7v1.7h-1.7zM412.2 344.0h1.7v1.7h-1.7zM412.7 343.3h1.7v1.7h-1.7zM412.9 343.7h1.7v1.7h-1.7zM413.5 343.3h1.7v1.7h-1.7zM413.1 344.5h1.7v1.7h-1.7zM413.8 343.5h1.7v1.7h-1.7zM413.9 345.7h1.7v1.7h-1.7zM414.2 344.1h1.7v1.7h-1.7zM414.4 343.9h1.7v1.7h-1.7zM414.7 345.4h1.7v1.7h-1.7zM414.9 344.1h1.7v1.7h-1.7zM415.4 345.6h1.7v1.7h-1.7zM415.6 345.5h1.7v1.7h-1.7zM416.0 344.8h1.7v1.7h-1.7zM416.1 344.1h1.7v1.7h-1.7zM417.0 345.6h1.7v1.7h-1.7zM417.0 345.1h1.7v1.7h-1.7zM417.2 346.2h1.7v1.7h-1.7zM417.6 344.8h1.7v1.7h-1.7zM417.8 344.8h1.7v1.7h-1.7zM418.2 346.1h1.7v1.7h-1.7zM418.5 346.1h1.7v1.7h-1.7zM419.4 346.4h1.7v1.7h-1.7zM419.6 345.7h1.7v1.7h-1.7zM420.4 345.5h1.7v1.7h-1.7zM420.7 345.7h1.7v1.7h-1.7zM421.1 346.3h1.7v1.7h-1.7zM422.0 345.5h1.7v1.7h-1.7zM422.4 345.5h1.7v1.7h-1.7zM422.7 346.3h1.7v1.7h-1.7zM423.0 345.7h1.7v1.7h-1.7zM424.5 346.3h1.7v1.7h-1.7zM424.9 346.8h1.7v1.7h-1.7zM425.1 346.2h1.7v1.7h-1.7zM425.6 346.6h1.7v1.7h-1.7zM426.5 346.2h1.7v1.7h-1.7zM426.8 346.6h1.7v1.7h-1.7zM427.8 347.0h1.7v1.7h-1.7zM428.0 346.7h1.7v1.7h-1.7zM428.5 346.4h1.7v1.7h-1.7zM429.9 346.6h1.7v1.7h-1.7zM430.3 346.5h1.7v1.7h-1.7zM430.6 346.9h1.7v1.7h-1.7z" fill="#3f8fc6"/>
<path d="M399.6 338.8h1.8v1.8h-1.8zM399.7 343.6h1.8v1.8h-1.8zM399.8 341.7h1.8v1.8h-1.8zM399.7 344.8h1.8v1.8h-1.8zM399.7 342.1h1.8v1.8h-1.8zM400.0 342.6h1.8v1.8h-1.8zM400.0 341.2h1.8v1.8h-1.8zM400.1 344.8h1.8v1.8h-1.8zM400.2 344.2h1.8v1.8h-1.8zM400.1 338.7h1.8v1.8h-1.8zM400.3 343.3h1.8v1.8h-1.8zM400.4 337.1h1.8v1.8h-1.8zM400.3 336.6h1.8v1.8h-1.8zM400.5 336.6h1.8v1.8h-1.8zM400.5 342.8h1.8v1.8h-1.8zM400.8 341.7h1.8v1.8h-1.8zM400.9 336.8h1.8v1.8h-1.8zM400.7 343.8h1.8v1.8h-1.8zM400.7 343.7h1.8v1.8h-1.8zM400.9 339.7h1.8v1.8h-1.8zM400.6 342.7h1.8v1.8h-1.8zM401.0 339.5h1.8v1.8h-1.8zM401.0 336.8h1.8v1.8h-1.8zM400.9 341.2h1.8v1.8h-1.8zM401.1 339.8h1.8v1.8h-1.8zM401.0 335.3h1.8v1.8h-1.8zM401.3 338.9h1.8v1.8h-1.8zM401.6 342.7h1.8v1.8h-1.8zM401.3 342.6h1.8v1.8h-1.8zM401.3 336.9h1.8v1.8h-1.8zM401.4 341.1h1.8v1.8h-1.8zM401.9 337.6h1.8v1.8h-1.8zM401.7 340.7h1.8v1.8h-1.8zM401.9 335.4h1.8v1.8h-1.8zM401.9 338.8h1.8v1.8h-1.8zM401.6 334.9h1.8v1.8h-1.8zM402.0 336.9h1.8v1.8h-1.8zM402.2 340.9h1.8v1.8h-1.8zM402.0 339.9h1.8v1.8h-1.8zM402.0 340.3h1.8v1.8h-1.8zM402.1 340.3h1.8v1.8h-1.8zM402.6 337.2h1.8v1.8h-1.8zM402.4 335.0h1.8v1.8h-1.8zM402.4 337.0h1.8v1.8h-1.8zM402.4 333.8h1.8v1.8h-1.8zM402.4 333.3h1.8v1.8h-1.8zM402.9 334.6h1.8v1.8h-1.8zM402.9 334.5h1.8v1.8h-1.8zM402.8 333.6h1.8v1.8h-1.8zM402.8 332.4h1.8v1.8h-1.8zM402.9 332.4h1.8v1.8h-1.8zM403.2 333.2h1.8v1.8h-1.8zM403.1 338.9h1.8v1.8h-1.8zM403.2 338.0h1.8v1.8h-1.8zM403.3 335.5h1.8v1.8h-1.8zM403.2 334.8h1.8v1.8h-1.8zM403.5 339.1h1.8v1.8h-1.8zM403.6 338.0h1.8v1.8h-1.8zM403.5 336.5h1.8v1.8h-1.8zM403.4 334.3h1.8v1.8h-1.8zM404.0 332.1h1.8v1.8h-1.8zM403.8 333.5h1.8v1.8h-1.8zM404.0 332.2h1.8v1.8h-1.8zM404.0 338.1h1.8v1.8h-1.8zM403.8 333.7h1.8v1.8h-1.8zM404.1 334.9h1.8v1.8h-1.8zM404.2 334.8h1.8v1.8h-1.8zM404.4 338.7h1.8v1.8h-1.8zM404.2 335.6h1.8v1.8h-1.8zM404.2 338.7h1.8v1.8h-1.8zM404.6 331.4h1.8v1.8h-1.8zM404.6 334.9h1.8v1.8h-1.8zM404.6 332.9h1.8v1.8h-1.8zM404.5 331.4h1.8v1.8h-1.8zM404.6 332.1h1.8v1.8h-1.8zM404.9 331.5h1.8v1.8h-1.8zM405.0 333.0h1.8v1.8h-1.8zM405.0 335.2h1.8v1.8h-1.8zM405.0 336.2h1.8v1.8h-1.8zM404.9 337.8h1.8v1.8h-1.8zM405.2 338.5h1.8v1.8h-1.8zM405.4 336.6h1.8v1.8h-1.8zM405.4 331.5h1.8v1.8h-1.8zM405.3 337.8h1.8v1.8h-1.8zM405.4 336.6h1.8v1.8h-1.8zM405.7 335.3h1.8v1.8h-1.8zM405.8 337.5h1.8v1.8h-1.8zM405.7 337.5h1.8v1.8h-1.8zM405.7 337.9h1.8v1.8h-1.8zM405.6 336.5h1.8v1.8h-1.8zM406.0 332.8h1.8v1.8h-1.8zM406.1 332.6h1.8v1.8h-1.8zM406.0 335.7h1.8v1.8h-1.8zM406.1 336.2h1.8v1.8h-1.8zM405.8 335.3h1.8v1.8h-1.8zM406.4 337.2h1.8v1.8h-1.8zM406.4 335.8h1.8v1.8h-1.8zM406.4 332.6h1.8v1.8h-1.8zM406.2 333.9h1.8v1.8h-1.8zM406.6 337.3h1.8v1.8h-1.8zM406.9 337.3h1.8v1.8h-1.8zM406.7 335.7h1.8v1.8h-1.8zM406.8 335.6h1.8v1.8h-1.8zM407.1 336.7h1.8v1.8h-1.8zM406.9 333.3h1.8v1.8h-1.8zM407.1 334.4h1.8v1.8h-1.8zM407.1 334.7h1.8v1.8h-1.8zM407.3 333.5h1.8v1.8h-1.8zM407.5 337.2h1.8v1.8h-1.8zM407.3 337.3h1.8v1.8h-1.8zM407.4 336.3h1.8v1.8h-1.8zM407.9 334.3h1.8v1.8h-1.8zM407.9 334.7h1.8v1.8h-1.8zM407.6 339.1h1.8v1.8h-1.8zM407.9 336.3h1.8v1.8h-1.8zM408.0 336.7h1.8v1.8h-1.8zM408.3 335.4h1.8v1.8h-1.8zM408.1 335.4h1.8v1.8h-1.8zM408.6 337.6h1.8v1.8h-1.8zM408.6 335.5h1.8v1.8h-1.8zM408.6 337.5h1.8v1.8h-1.8zM408.4 338.6h1.8v1.8h-1.8zM408.6 337.9h1.8v1.8h-1.8zM408.8 335.4h1.8v1.8h-1.8zM408.7 337.7h1.8v1.8h-1.8zM409.1 337.7h1.8v1.8h-1.8zM409.0 340.2h1.8v1.8h-1.8zM409.3 339.7h1.8v1.8h-1.8zM409.6 341.0h1.8v1.8h-1.8zM409.4 340.9h1.8v1.8h-1.8zM409.5 338.4h1.8v1.8h-1.8zM409.8 339.8h1.8v1.8h-1.8zM409.8 339.1h1.8v1.8h-1.8zM410.3 337.8h1.8v1.8h-1.8zM410.4 338.7h1.8v1.8h-1.8zM410.1 338.5h1.8v1.8h-1.8zM410.5 338.5h1.8v1.8h-1.8zM410.7 342.0h1.8v1.8h-1.8zM410.6 341.3h1.8v1.8h-1.8zM410.9 342.2h1.8v1.8h-1.8zM410.7 341.1h1.8v1.8h-1.8zM411.3 340.1h1.8v1.8h-1.8zM411.2 341.0h1.8v1.8h-1.8zM411.4 338.3h1.8v1.8h-1.8zM411.5 340.5h1.8v1.8h-1.8zM411.7 339.6h1.8v1.8h-1.8zM411.5 342.8h1.8v1.8h-1.8zM412.0 339.9h1.8v1.8h-1.8zM411.8 340.3h1.8v1.8h-1.8zM411.8 339.2h1.8v1.8h-1.8zM412.2 341.0h1.8v1.8h-1.8zM412.5 343.0h1.8v1.8h-1.8zM412.5 339.6h1.8v1.8h-1.8zM412.6 339.3h1.8v1.8h-1.8zM412.6 339.3h1.8v1.8h-1.8zM413.1 341.8h1.8v1.8h-1.8zM413.0 342.7h1.8v1.8h-1.8zM413.0 341.1h1.8v1.8h-1.8zM413.2 341.0h1.8v1.8h-1.8zM413.5 340.7h1.8v1.8h-1.8zM413.4 340.0h1.8v1.8h-1.8zM413.6 343.7h1.8v1.8h-1.8zM413.6 340.9h1.8v1.8h-1.8zM413.7 341.5h1.8v1.8h-1.8zM414.2 343.9h1.8v1.8h-1.8zM413.9 339.9h1.8v1.8h-1.8zM414.4 344.2h1.8v1.8h-1.8zM414.2 342.7h1.8v1.8h-1.8zM414.5 341.8h1.8v1.8h-1.8zM414.9 344.1h1.8v1.8h-1.8zM414.6 341.2h1.8v1.8h-1.8zM414.8 340.7h1.8v1.8h-1.8zM415.2 344.6h1.8v1.8h-1.8zM415.2 343.2h1.8v1.8h-1.8zM415.1 342.2h1.8v1.8h-1.8zM415.4 343.9h1.8v1.8h-1.8zM415.5 344.6h1.8v1.8h-1.8zM415.3 341.5h1.8v1.8h-1.8zM415.9 343.2h1.8v1.8h-1.8zM415.6 340.6h1.8v1.8h-1.8zM415.8 342.7h1.8v1.8h-1.8zM416.2 341.2h1.8v1.8h-1.8zM416.1 340.1h1.8v1.8h-1.8zM416.3 342.4h1.8v1.8h-1.8zM416.5 344.6h1.8v1.8h-1.8zM416.4 341.3h1.8v1.8h-1.8zM416.6 345.0h1.8v1.8h-1.8zM416.8 340.2h1.8v1.8h-1.8zM416.8 343.6h1.8v1.8h-1.8zM416.9 341.4h1.8v1.8h-1.8zM417.0 341.3h1.8v1.8h-1.8zM417.2 341.9h1.8v1.8h-1.8zM417.1 343.7h1.8v1.8h-1.8zM417.6 344.0h1.8v1.8h-1.8zM417.7 341.3h1.8v1.8h-1.8zM417.7 341.8h1.8v1.8h-1.8zM418.0 341.4h1.8v1.8h-1.8zM418.1 341.8h1.8v1.8h-1.8zM417.8 342.8h1.8v1.8h-1.8zM418.3 342.5h1.8v1.8h-1.8zM418.1 345.3h1.8v1.8h-1.8zM418.1 342.3h1.8v1.8h-1.8zM418.1 345.4h1.8v1.8h-1.8zM418.6 340.6h1.8v1.8h-1.8zM418.7 345.1h1.8v1.8h-1.8zM418.8 344.2h1.8v1.8h-1.8zM418.5 345.2h1.8v1.8h-1.8zM419.0 345.3h1.8v1.8h-1.8zM419.0 340.5h1.8v1.8h-1.8zM418.9 342.3h1.8v1.8h-1.8zM418.8 342.1h1.8v1.8h-1.8zM419.2 341.9h1.8v1.8h-1.8zM419.2 345.5h1.8v1.8h-1.8zM419.2 345.6h1.8v1.8h-1.8zM419.4 342.3h1.8v1.8h-1.8zM419.5 342.7h1.8v1.8h-1.8zM419.6 343.0h1.8v1.8h-1.8zM419.5 345.4h1.8v1.8h-1.8zM419.8 345.3h1.8v1.8h-1.8zM420.1 342.7h1.8v1.8h-1.8zM419.8 344.6h1.8v1.8h-1.8zM419.8 340.6h1.8v1.8h-1.8zM420.4 341.9h1.8v1.8h-1.8zM420.3 345.4h1.8v1.8h-1.8zM420.5 341.9h1.8v1.8h-1.8zM420.8 341.9h1.8v1.8h-1.8zM420.6 342.2h1.8v1.8h-1.8zM420.8 340.5h1.8v1.8h-1.8zM421.2 344.1h1.8v1.8h-1.8zM421.0 340.6h1.8v1.8h-1.8zM421.2 343.2h1.8v1.8h-1.8zM421.3 342.7h1.8v1.8h-1.8zM421.4 343.0h1.8v1.8h-1.8zM421.3 345.8h1.8v1.8h-1.8zM421.9 344.8h1.8v1.8h-1.8zM421.8 345.0h1.8v1.8h-1.8zM421.7 342.4h1.8v1.8h-1.8zM422.0 345.1h1.8v1.8h-1.8zM422.2 341.7h1.8v1.8h-1.8zM421.9 342.0h1.8v1.8h-1.8zM422.1 340.8h1.8v1.8h-1.8zM422.6 346.3h1.8v1.8h-1.8zM422.4 346.3h1.8v1.8h-1.8zM422.3 341.1h1.8v1.8h-1.8zM422.5 343.5h1.8v1.8h-1.8zM422.8 342.0h1.8v1.8h-1.8zM422.9 344.2h1.8v1.8h-1.8zM422.9 345.0h1.8v1.8h-1.8zM422.7 344.5h1.8v1.8h-1.8zM423.2 342.3h1.8v1.8h-1.8zM423.2 342.8h1.8v1.8h-1.8zM423.1 341.8h1.8v1.8h-1.8zM423.6 341.5h1.8v1.8h-1.8zM423.4 344.0h1.8v1.8h-1.8zM423.7 342.9h1.8v1.8h-1.8zM423.4 343.6h1.8v1.8h-1.8zM424.0 344.5h1.8v1.8h-1.8zM423.8 341.2h1.8v1.8h-1.8zM424.0 345.4h1.8v1.8h-1.8zM424.1 340.9h1.8v1.8h-1.8zM424.1 341.3h1.8v1.8h-1.8zM424.2 346.3h1.8v1.8h-1.8zM424.7 342.8h1.8v1.8h-1.8zM424.5 343.3h1.8v1.8h-1.8zM424.7 345.2h1.8v1.8h-1.8zM424.9 344.2h1.8v1.8h-1.8zM424.9 341.9h1.8v1.8h-1.8zM424.8 341.5h1.8v1.8h-1.8zM424.9 342.2h1.8v1.8h-1.8zM425.1 341.9h1.8v1.8h-1.8zM425.3 342.6h1.8v1.8h-1.8zM425.2 341.8h1.8v1.8h-1.8zM425.6 345.4h1.8v1.8h-1.8zM425.5 341.1h1.8v1.8h-1.8zM425.6 343.0h1.8v1.8h-1.8zM425.5 344.4h1.8v1.8h-1.8zM425.9 344.8h1.8v1.8h-1.8zM425.9 342.4h1.8v1.8h-1.8zM425.9 346.3h1.8v1.8h-1.8zM425.9 344.0h1.8v1.8h-1.8zM426.5 345.8h1.8v1.8h-1.8zM426.2 342.9h1.8v1.8h-1.8zM426.2 345.0h1.8v1.8h-1.8zM426.4 340.7h1.8v1.8h-1.8zM426.6 345.6h1.8v1.8h-1.8zM426.6 345.9h1.8v1.8h-1.8zM426.5 341.7h1.8v1.8h-1.8zM426.7 344.0h1.8v1.8h-1.8zM427.0 341.3h1.8v1.8h-1.8zM427.0 342.9h1.8v1.8h-1.8zM426.9 341.6h1.8v1.8h-1.8zM427.2 346.2h1.8v1.8h-1.8zM427.5 343.6h1.8v1.8h-1.8zM427.2 346.5h1.8v1.8h-1.8zM427.5 341.5h1.8v1.8h-1.8zM427.5 343.6h1.8v1.8h-1.8zM427.7 346.2h1.8v1.8h-1.8zM427.7 346.1h1.8v1.8h-1.8zM428.2 341.7h1.8v1.8h-1.8zM428.0 342.1h1.8v1.8h-1.8zM428.2 345.8h1.8v1.8h-1.8zM428.4 342.1h1.8v1.8h-1.8zM428.4 343.9h1.8v1.8h-1.8zM428.3 341.5h1.8v1.8h-1.8zM428.5 345.1h1.8v1.8h-1.8zM428.8 344.1h1.8v1.8h-1.8zM428.9 341.0h1.8v1.8h-1.8zM428.8 341.5h1.8v1.8h-1.8zM428.8 344.1h1.8v1.8h-1.8zM429.1 343.3h1.8v1.8h-1.8zM429.2 343.3h1.8v1.8h-1.8zM429.1 343.5h1.8v1.8h-1.8zM429.1 340.9h1.8v1.8h-1.8zM429.5 342.2h1.8v1.8h-1.8zM429.4 345.5h1.8v1.8h-1.8zM429.4 341.9h1.8v1.8h-1.8zM429.3 341.4h1.8v1.8h-1.8zM429.8 341.4h1.8v1.8h-1.8zM429.6 343.9h1.8v1.8h-1.8zM429.7 344.6h1.8v1.8h-1.8zM429.9 345.2h1.8v1.8h-1.8zM430.2 341.1h1.8v1.8h-1.8zM430.3 343.1h1.8v1.8h-1.8zM430.3 341.6h1.8v1.8h-1.8zM430.2 346.8h1.8v1.8h-1.8zM430.7 342.0h1.8v1.8h-1.8zM430.7 343.8h1.8v1.8h-1.8zM430.4 346.3h1.8v1.8h-1.8zM430.7 346.4h1.8v1.8h-1.8zM430.9 342.9h1.8v1.8h-1.8zM431.0 341.8h1.8v1.8h-1.8zM431.1 345.8h1.8v1.8h-1.8zM431.3 343.9h1.8v1.8h-1.8zM431.1 342.1h1.8v1.8h-1.8zM431.1 343.9h1.8v1.8h-1.8zM431.4 342.0h1.8v1.8h-1.8zM431.6 346.5h1.8v1.8h-1.8zM431.4 346.3h1.8v1.8h-1.8zM431.4 345.6h1.8v1.8h-1.8zM431.9 344.7h1.8v1.8h-1.8zM431.9 346.1h1.8v1.8h-1.8zM432.0 344.4h1.8v1.8h-1.8zM432.1 341.5h1.8v1.8h-1.8zM432.4 343.3h1.8v1.8h-1.8zM432.4 342.5h1.8v1.8h-1.8zM432.2 344.4h1.8v1.8h-1.8zM432.2 345.5h1.8v1.8h-1.8zM432.4 345.4h1.8v1.8h-1.8zM432.5 345.9h1.8v1.8h-1.8zM432.8 344.8h1.8v1.8h-1.8zM432.7 344.4h1.8v1.8h-1.8zM432.8 340.9h1.8v1.8h-1.8zM433.0 341.8h1.8v1.8h-1.8zM433.0 343.5h1.8v1.8h-1.8zM432.8 346.3h1.8v1.8h-1.8zM433.1 344.9h1.8v1.8h-1.8zM433.2 340.9h1.8v1.8h-1.8zM433.3 341.5h1.8v1.8h-1.8zM433.3 342.3h1.8v1.8h-1.8zM433.7 342.2h1.8v1.8h-1.8zM433.5 343.8h1.8v1.8h-1.8zM433.6 346.6h1.8v1.8h-1.8zM433.5 341.8h1.8v1.8h-1.8zM434.1 346.2h1.8v1.8h-1.8zM433.9 343.4h1.8v1.8h-1.8zM434.1 341.0h1.8v1.8h-1.8zM433.9 344.4h1.8v1.8h-1.8zM434.5 343.6h1.8v1.8h-1.8zM434.3 345.4h1.8v1.8h-1.8zM434.2 346.5h1.8v1.8h-1.8zM434.3 344.2h1.8v1.8h-1.8zM434.8 341.3h1.8v1.8h-1.8zM434.7 341.0h1.8v1.8h-1.8zM434.6 346.7h1.8v1.8h-1.8zM434.7 342.2h1.8v1.8h-1.8zM435.2 344.9h1.8v1.8h-1.8zM435.0 342.0h1.8v1.8h-1.8zM434.9 342.8h1.8v1.8h-1.8zM435.1 346.4h1.8v1.8h-1.8zM435.5 341.0h1.8v1.8h-1.8zM435.4 345.5h1.8v1.8h-1.8zM435.4 345.5h1.8v1.8h-1.8zM435.3 342.3h1.8v1.8h-1.8zM435.7 341.2h1.8v1.8h-1.8zM435.8 345.6h1.8v1.8h-1.8zM435.8 346.2h1.8v1.8h-1.8zM435.8 342.6h1.8v1.8h-1.8zM436.1 345.8h1.8v1.8h-1.8zM436.1 342.6h1.8v1.8h-1.8zM436.0 346.9h1.8v1.8h-1.8zM435.9 346.4h1.8v1.8h-1.8zM436.5 342.4h1.8v1.8h-1.8zM436.5 346.8h1.8v1.8h-1.8zM436.6 343.0h1.8v1.8h-1.8zM436.4 343.0h1.8v1.8h-1.8zM436.9 344.9h1.8v1.8h-1.8zM437.0 345.1h1.8v1.8h-1.8zM436.9 343.9h1.8v1.8h-1.8zM437.1 346.3h1.8v1.8h-1.8zM437.2 345.5h1.8v1.8h-1.8zM437.0 342.9h1.8v1.8h-1.8zM437.0 344.9h1.8v1.8h-1.8zM437.3 341.9h1.8v1.8h-1.8zM437.7 341.7h1.8v1.8h-1.8zM437.4 343.1h1.8v1.8h-1.8zM437.9 341.2h1.8v1.8h-1.8zM437.9 344.9h1.8v1.8h-1.8zM437.7 345.6h1.8v1.8h-1.8zM437.8 344.6h1.8v1.8h-1.8zM438.3 346.1h1.8v1.8h-1.8zM438.3 341.4h1.8v1.8h-1.8zM438.4 346.6h1.8v1.8h-1.8zM438.4 342.3h1.8v1.8h-1.8zM438.7 341.2h1.8v1.8h-1.8zM438.6 346.0h1.8v1.8h-1.8zM438.6 346.1h1.8v1.8h-1.8zM438.8 341.6h1.8v1.8h-1.8zM438.8 345.7h1.8v1.8h-1.8zM438.9 343.0h1.8v1.8h-1.8zM438.8 341.1h1.8v1.8h-1.8zM439.2 345.4h1.8v1.8h-1.8zM439.4 343.0h1.8v1.8h-1.8zM439.4 344.1h1.8v1.8h-1.8zM439.1 344.8h1.8v1.8h-1.8zM439.7 343.7h1.8v1.8h-1.8zM439.7 343.1h1.8v1.8h-1.8zM439.5 344.3h1.8v1.8h-1.8zM439.5 346.3h1.8v1.8h-1.8zM439.8 342.0h1.8v1.8h-1.8zM440.0 342.2h1.8v1.8h-1.8zM439.8 347.0h1.8v1.8h-1.8zM440.4 344.0h1.8v1.8h-1.8zM440.3 342.1h1.8v1.8h-1.8zM440.4 343.1h1.8v1.8h-1.8zM440.5 342.6h1.8v1.8h-1.8zM440.7 342.3h1.8v1.8h-1.8zM440.5 344.0h1.8v1.8h-1.8zM440.5 344.9h1.8v1.8h-1.8zM440.7 345.8h1.8v1.8h-1.8zM440.9 344.8h1.8v1.8h-1.8zM441.0 343.4h1.8v1.8h-1.8zM440.9 346.5h1.8v1.8h-1.8zM441.2 341.1h1.8v1.8h-1.8zM441.5 342.6h1.8v1.8h-1.8zM441.3 344.0h1.8v1.8h-1.8zM441.7 342.4h1.8v1.8h-1.8zM441.8 344.2h1.8v1.8h-1.8zM441.8 345.6h1.8v1.8h-1.8zM441.9 343.0h1.8v1.8h-1.8zM442.1 346.1h1.8v1.8h-1.8zM441.9 345.5h1.8v1.8h-1.8zM442.1 343.6h1.8v1.8h-1.8zM442.4 341.7h1.8v1.8h-1.8zM442.3 346.4h1.8v1.8h-1.8zM442.3 342.1h1.8v1.8h-1.8zM442.5 345.3h1.8v1.8h-1.8zM442.7 341.9h1.8v1.8h-1.8zM442.8 342.9h1.8v1.8h-1.8zM442.7 341.9h1.8v1.8h-1.8zM442.9 342.1h1.8v1.8h-1.8zM443.3 341.6h1.8v1.8h-1.8zM443.1 341.6h1.8v1.8h-1.8zM443.2 347.0h1.8v1.8h-1.8zM443.1 345.4h1.8v1.8h-1.8zM443.3 344.9h1.8v1.8h-1.8zM443.4 342.2h1.8v1.8h-1.8zM443.4 341.1h1.8v1.8h-1.8zM443.5 345.8h1.8v1.8h-1.8zM443.8 344.8h1.8v1.8h-1.8zM443.8 341.8h1.8v1.8h-1.8zM443.9 343.4h1.8v1.8h-1.8zM443.8 346.5h1.8v1.8h-1.8zM444.1 345.5h1.8v1.8h-1.8zM444.2 342.3h1.8v1.8h-1.8zM444.2 346.3h1.8v1.8h-1.8zM444.3 345.2h1.8v1.8h-1.8zM444.5 344.9h1.8v1.8h-1.8zM444.5 342.8h1.8v1.8h-1.8zM444.5 341.5h1.8v1.8h-1.8zM444.6 345.7h1.8v1.8h-1.8zM444.8 342.4h1.8v1.8h-1.8zM444.9 343.7h1.8v1.8h-1.8zM444.9 343.4h1.8v1.8h-1.8zM444.7 346.6h1.8v1.8h-1.8zM445.2 345.7h1.8v1.8h-1.8zM445.4 343.9h1.8v1.8h-1.8zM445.2 341.1h1.8v1.8h-1.8zM445.3 341.9h1.8v1.8h-1.8zM445.4 344.1h1.8v1.8h-1.8zM445.6 344.4h1.8v1.8h-1.8zM445.6 345.3h1.8v1.8h-1.8zM445.9 346.0h1.8v1.8h-1.8zM446.1 343.4h1.8v1.8h-1.8zM446.0 342.2h1.8v1.8h-1.8zM446.0 343.3h1.8v1.8h-1.8zM446.2 346.9h1.8v1.8h-1.8zM446.2 341.2h1.8v1.8h-1.8zM446.1 343.3h1.8v1.8h-1.8zM446.2 343.5h1.8v1.8h-1.8zM446.5 343.0h1.8v1.8h-1.8zM446.7 342.3h1.8v1.8h-1.8zM446.6 346.7h1.8v1.8h-1.8zM446.7 342.2h1.8v1.8h-1.8zM446.8 342.2h1.8v1.8h-1.8zM447.1 345.6h1.8v1.8h-1.8zM446.9 344.8h1.8v1.8h-1.8zM446.9 344.3h1.8v1.8h-1.8zM447.3 343.0h1.8v1.8h-1.8zM447.4 345.9h1.8v1.8h-1.8zM447.2 343.7h1.8v1.8h-1.8zM447.8 341.6h1.8v1.8h-1.8zM447.8 343.0h1.8v1.8h-1.8zM447.6 342.5h1.8v1.8h-1.8zM447.6 342.4h1.8v1.8h-1.8zM448.1 340.9h1.8v1.8h-1.8zM447.9 342.6h1.8v1.8h-1.8zM448.0 342.7h1.8v1.8h-1.8zM448.0 343.5h1.8v1.8h-1.8zM448.5 343.1h1.8v1.8h-1.8zM448.2 346.1h1.8v1.8h-1.8zM448.5 345.9h1.8v1.8h-1.8zM448.2 345.7h1.8v1.8h-1.8zM448.5 344.7h1.8v1.8h-1.8zM448.9 340.9h1.8v1.8h-1.8zM448.6 344.9h1.8v1.8h-1.8zM449.0 341.7h1.8v1.8h-1.8zM449.0 345.6h1.8v1.8h-1.8zM449.2 341.8h1.8v1.8h-1.8zM448.9 345.7h1.8v1.8h-1.8zM449.5 344.6h1.8v1.8h-1.8zM449.5 344.9h1.8v1.8h-1.8zM449.5 345.7h1.8v1.8h-1.8zM449.8 345.1h1.8v1.8h-1.8zM449.7 345.4h1.8v1.8h-1.8zM449.8 346.2h1.8v1.8h-1.8zM449.7 342.5h1.8v1.8h-1.8zM449.9 343.9h1.8v1.8h-1.8zM450.0 343.7h1.8v1.8h-1.8zM450.1 343.8h1.8v1.8h-1.8zM450.2 344.1h1.8v1.8h-1.8zM450.4 346.0h1.8v1.8h-1.8zM450.5 344.3h1.8v1.8h-1.8zM450.4 346.0h1.8v1.8h-1.8zM450.6 343.4h1.8v1.8h-1.8zM450.8 344.7h1.8v1.8h-1.8zM450.8 341.0h1.8v1.8h-1.8zM451.0 345.0h1.8v1.8h-1.8zM451.0 342.8h1.8v1.8h-1.8zM451.3 343.8h1.8v1.8h-1.8zM451.2 341.0h1.8v1.8h-1.8zM451.1 344.6h1.8v1.8h-1.8zM451.1 346.1h1.8v1.8h-1.8zM451.6 344.0h1.8v1.8h-1.8zM451.5 342.1h1.8v1.8h-1.8zM451.5 343.4h1.8v1.8h-1.8zM451.4 345.9h1.8v1.8h-1.8zM451.9 343.3h1.8v1.8h-1.8zM451.9 342.5h1.8v1.8h-1.8zM451.9 346.8h1.8v1.8h-1.8zM452.1 342.8h1.8v1.8h-1.8zM452.2 342.6h1.8v1.8h-1.8zM452.3 344.7h1.8v1.8h-1.8zM452.7 345.2h1.8v1.8h-1.8zM452.4 344.1h1.8v1.8h-1.8zM452.4 342.6h1.8v1.8h-1.8zM452.7 342.0h1.8v1.8h-1.8zM453.0 344.8h1.8v1.8h-1.8zM452.9 346.4h1.8v1.8h-1.8zM452.9 344.6h1.8v1.8h-1.8zM452.9 345.1h1.8v1.8h-1.8zM453.3 342.1h1.8v1.8h-1.8zM453.3 343.6h1.8v1.8h-1.8zM453.1 341.4h1.8v1.8h-1.8zM453.3 341.0h1.8v1.8h-1.8zM453.6 344.8h1.8v1.8h-1.8zM453.7 345.8h1.8v1.8h-1.8zM453.5 344.2h1.8v1.8h-1.8zM453.9 343.4h1.8v1.8h-1.8zM454.0 343.4h1.8v1.8h-1.8zM453.8 346.5h1.8v1.8h-1.8zM453.8 344.2h1.8v1.8h-1.8zM454.3 345.7h1.8v1.8h-1.8zM454.3 346.4h1.8v1.8h-1.8zM454.3 340.9h1.8v1.8h-1.8zM454.5 344.4h1.8v1.8h-1.8zM454.6 343.7h1.8v1.8h-1.8zM454.7 341.4h1.8v1.8h-1.8zM454.5 342.1h1.8v1.8h-1.8zM455.1 340.8h1.8v1.8h-1.8zM455.2 341.5h1.8v1.8h-1.8zM455.1 341.3h1.8v1.8h-1.8zM454.8 341.6h1.8v1.8h-1.8zM455.4 342.2h1.8v1.8h-1.8zM455.2 341.9h1.8v1.8h-1.8zM455.4 345.5h1.8v1.8h-1.8zM455.4 346.0h1.8v1.8h-1.8zM455.8 344.6h1.8v1.8h-1.8zM455.9 343.6h1.8v1.8h-1.8zM455.9 342.3h1.8v1.8h-1.8zM455.5 345.1h1.8v1.8h-1.8zM456.2 344.7h1.8v1.8h-1.8zM456.0 341.2h1.8v1.8h-1.8zM455.9 345.2h1.8v1.8h-1.8zM456.0 346.0h1.8v1.8h-1.8zM456.4 343.0h1.8v1.8h-1.8zM456.5 343.4h1.8v1.8h-1.8zM456.5 341.6h1.8v1.8h-1.8zM456.5 343.0h1.8v1.8h-1.8zM456.7 343.3h1.8v1.8h-1.8zM456.9 345.5h1.8v1.8h-1.8zM456.8 345.5h1.8v1.8h-1.8zM456.6 342.5h1.8v1.8h-1.8zM457.2 345.0h1.8v1.8h-1.8zM457.1 342.8h1.8v1.8h-1.8zM457.2 346.7h1.8v1.8h-1.8zM457.4 342.6h1.8v1.8h-1.8zM457.4 346.1h1.8v1.8h-1.8zM457.5 344.9h1.8v1.8h-1.8zM457.6 346.2h1.8v1.8h-1.8zM457.7 340.8h1.8v1.8h-1.8zM457.8 343.3h1.8v1.8h-1.8zM457.9 345.7h1.8v1.8h-1.8zM457.9 341.0h1.8v1.8h-1.8zM458.2 346.0h1.8v1.8h-1.8zM458.3 342.4h1.8v1.8h-1.8zM458.2 345.6h1.8v1.8h-1.8zM458.4 342.8h1.8v1.8h-1.8zM458.6 344.1h1.8v1.8h-1.8zM458.6 341.9h1.8v1.8h-1.8zM458.9 342.1h1.8v1.8h-1.8zM458.8 344.8h1.8v1.8h-1.8zM458.8 342.0h1.8v1.8h-1.8zM459.2 345.5h1.8v1.8h-1.8zM459.3 341.3h1.8v1.8h-1.8zM459.1 345.4h1.8v1.8h-1.8zM459.7 346.2h1.8v1.8h-1.8zM459.5 343.9h1.8v1.8h-1.8zM459.4 344.3h1.8v1.8h-1.8zM459.4 341.9h1.8v1.8h-1.8zM459.9 342.9h1.8v1.8h-1.8zM459.9 343.2h1.8v1.8h-1.8zM459.7 341.6h1.8v1.8h-1.8zM459.9 346.8h1.8v1.8h-1.8zM460.4 344.5h1.8v1.8h-1.8zM460.3 341.7h1.8v1.8h-1.8zM460.3 342.8h1.8v1.8h-1.8zM460.1 340.8h1.8v1.8h-1.8zM460.6 345.9h1.8v1.8h-1.8zM460.5 344.1h1.8v1.8h-1.8zM460.6 345.4h1.8v1.8h-1.8zM461.1 345.3h1.8v1.8h-1.8zM460.9 346.5h1.8v1.8h-1.8zM460.8 340.9h1.8v1.8h-1.8zM461.1 341.2h1.8v1.8h-1.8zM461.4 344.1h1.8v1.8h-1.8zM461.5 343.5h1.8v1.8h-1.8zM461.1 346.2h1.8v1.8h-1.8zM461.5 343.1h1.8v1.8h-1.8zM461.6 346.5h1.8v1.8h-1.8zM461.7 344.1h1.8v1.8h-1.8zM461.7 346.5h1.8v1.8h-1.8zM461.9 343.4h1.8v1.8h-1.8zM462.2 346.5h1.8v1.8h-1.8zM461.8 342.0h1.8v1.8h-1.8zM461.9 342.2h1.8v1.8h-1.8zM462.5 346.1h1.8v1.8h-1.8zM462.5 341.0h1.8v1.8h-1.8zM462.4 345.0h1.8v1.8h-1.8zM462.6 341.0h1.8v1.8h-1.8zM462.9 345.2h1.8v1.8h-1.8zM462.6 344.8h1.8v1.8h-1.8zM462.9 345.3h1.8v1.8h-1.8zM463.0 342.6h1.8v1.8h-1.8zM463.0 341.4h1.8v1.8h-1.8zM463.0 341.7h1.8v1.8h-1.8zM463.2 344.8h1.8v1.8h-1.8zM463.3 345.0h1.8v1.8h-1.8zM463.5 340.9h1.8v1.8h-1.8zM463.6 342.0h1.8v1.8h-1.8zM463.6 346.0h1.8v1.8h-1.8zM463.6 343.4h1.8v1.8h-1.8zM463.9 346.3h1.8v1.8h-1.8zM464.0 343.4h1.8v1.8h-1.8zM464.1 345.6h1.8v1.8h-1.8zM464.0 344.5h1.8v1.8h-1.8zM463.9 342.0h1.8v1.8h-1.8zM464.3 344.0h1.8v1.8h-1.8zM464.4 345.9h1.8v1.8h-1.8zM464.3 343.1h1.8v1.8h-1.8zM464.7 345.7h1.8v1.8h-1.8zM464.8 341.7h1.8v1.8h-1.8zM464.9 342.6h1.8v1.8h-1.8zM465.0 341.3h1.8v1.8h-1.8zM465.2 346.0h1.8v1.8h-1.8zM465.1 341.9h1.8v1.8h-1.8zM465.1 342.4h1.8v1.8h-1.8zM465.1 341.9h1.8v1.8h-1.8zM465.6 346.7h1.8v1.8h-1.8zM465.4 341.2h1.8v1.8h-1.8zM465.3 346.0h1.8v1.8h-1.8zM466.0 342.4h1.8v1.8h-1.8zM466.0 340.7h1.8v1.8h-1.8zM465.7 342.7h1.8v1.8h-1.8zM466.2 345.6h1.8v1.8h-1.8zM466.2 341.8h1.8v1.8h-1.8zM466.1 346.1h1.8v1.8h-1.8zM466.1 344.1h1.8v1.8h-1.8zM466.6 345.3h1.8v1.8h-1.8zM466.4 341.8h1.8v1.8h-1.8zM466.6 341.2h1.8v1.8h-1.8zM466.5 343.6h1.8v1.8h-1.8zM467.0 344.3h1.8v1.8h-1.8zM466.9 345.5h1.8v1.8h-1.8zM466.7 341.8h1.8v1.8h-1.8zM466.9 345.0h1.8v1.8h-1.8zM467.4 341.0h1.8v1.8h-1.8zM467.4 342.6h1.8v1.8h-1.8zM467.2 345.8h1.8v1.8h-1.8zM467.6 346.1h1.8v1.8h-1.8zM467.5 345.9h1.8v1.8h-1.8zM467.7 341.7h1.8v1.8h-1.8zM467.5 342.8h1.8v1.8h-1.8zM467.8 344.2h1.8v1.8h-1.8zM467.9 343.7h1.8v1.8h-1.8zM467.8 343.7h1.8v1.8h-1.8zM468.1 344.9h1.8v1.8h-1.8zM468.4 342.5h1.8v1.8h-1.8zM468.4 342.9h1.8v1.8h-1.8zM468.4 341.0h1.8v1.8h-1.8zM468.7 343.6h1.8v1.8h-1.8zM468.7 343.8h1.8v1.8h-1.8zM468.8 340.7h1.8v1.8h-1.8zM468.9 341.7h1.8v1.8h-1.8zM469.1 342.1h1.8v1.8h-1.8zM468.9 340.8h1.8v1.8h-1.8zM468.9 344.8h1.8v1.8h-1.8zM469.4 344.2h1.8v1.8h-1.8zM469.4 343.7h1.8v1.8h-1.8zM469.5 341.2h1.8v1.8h-1.8zM469.2 344.9h1.8v1.8h-1.8zM469.7 343.5h1.8v1.8h-1.8zM469.6 342.2h1.8v1.8h-1.8zM469.6 343.0h1.8v1.8h-1.8zM469.8 344.1h1.8v1.8h-1.8zM470.1 343.9h1.8v1.8h-1.8zM470.2 341.5h1.8v1.8h-1.8zM470.0 346.1h1.8v1.8h-1.8zM470.2 343.0h1.8v1.8h-1.8zM470.6 342.9h1.8v1.8h-1.8zM470.3 345.1h1.8v1.8h-1.8zM470.3 341.9h1.8v1.8h-1.8zM470.6 343.1h1.8v1.8h-1.8zM470.9 345.9h1.8v1.8h-1.8zM470.6 345.5h1.8v1.8h-1.8zM470.9 343.5h1.8v1.8h-1.8zM471.1 341.9h1.8v1.8h-1.8zM471.1 344.2h1.8v1.8h-1.8zM470.9 343.6h1.8v1.8h-1.8zM471.3 343.4h1.8v1.8h-1.8zM471.6 341.2h1.8v1.8h-1.8zM471.6 345.0h1.8v1.8h-1.8zM471.6 344.2h1.8v1.8h-1.8zM471.6 345.6h1.8v1.8h-1.8zM471.7 344.2h1.8v1.8h-1.8zM471.7 344.4h1.8v1.8h-1.8zM472.2 345.8h1.8v1.8h-1.8zM472.2 341.8h1.8v1.8h-1.8zM472.3 342.9h1.8v1.8h-1.8zM472.1 342.1h1.8v1.8h-1.8zM472.5 341.0h1.8v1.8h-1.8zM472.5 346.0h1.8v1.8h-1.8zM472.5 341.9h1.8v1.8h-1.8zM472.7 341.2h1.8v1.8h-1.8zM472.8 341.1h1.8v1.8h-1.8zM472.8 342.7h1.8v1.8h-1.8zM472.7 341.7h1.8v1.8h-1.8zM473.2 345.2h1.8v1.8h-1.8zM473.3 343.6h1.8v1.8h-1.8zM473.3 341.5h1.8v1.8h-1.8zM473.2 343.0h1.8v1.8h-1.8zM473.5 343.0h1.8v1.8h-1.8zM473.5 341.7h1.8v1.8h-1.8zM473.5 343.2h1.8v1.8h-1.8zM473.8 340.3h1.8v1.8h-1.8zM473.8 345.3h1.8v1.8h-1.8zM473.9 343.5h1.8v1.8h-1.8zM474.2 346.0h1.8v1.8h-1.8zM474.1 344.7h1.8v1.8h-1.8zM474.4 340.6h1.8v1.8h-1.8zM474.1 342.8h1.8v1.8h-1.8zM474.7 342.7h1.8v1.8h-1.8zM474.5 340.8h1.8v1.8h-1.8zM474.7 345.7h1.8v1.8h-1.8zM474.5 341.1h1.8v1.8h-1.8zM475.0 344.1h1.8v1.8h-1.8zM475.1 345.1h1.8v1.8h-1.8zM475.0 343.1h1.8v1.8h-1.8zM475.0 344.5h1.8v1.8h-1.8zM475.4 344.7h1.8v1.8h-1.8zM475.2 345.4h1.8v1.8h-1.8zM475.1 345.2h1.8v1.8h-1.8zM475.3 344.5h1.8v1.8h-1.8zM475.7 345.7h1.8v1.8h-1.8zM475.7 342.5h1.8v1.8h-1.8zM475.7 345.1h1.8v1.8h-1.8zM475.6 342.3h1.8v1.8h-1.8zM475.9 344.2h1.8v1.8h-1.8zM476.0 342.3h1.8v1.8h-1.8zM475.9 342.3h1.8v1.8h-1.8zM476.1 344.6h1.8v1.8h-1.8zM476.2 342.6h1.8v1.8h-1.8zM476.2 341.8h1.8v1.8h-1.8zM476.4 343.3h1.8v1.8h-1.8zM476.5 340.5h1.8v1.8h-1.8zM476.8 344.8h1.8v1.8h-1.8zM476.6 345.5h1.8v1.8h-1.8zM476.8 342.4h1.8v1.8h-1.8zM476.5 340.1h1.8v1.8h-1.8zM477.2 342.8h1.8v1.8h-1.8zM477.1 344.4h1.8v1.8h-1.8zM477.1 345.7h1.8v1.8h-1.8zM477.4 343.9h1.8v1.8h-1.8zM477.4 342.0h1.8v1.8h-1.8zM477.6 341.9h1.8v1.8h-1.8zM477.6 342.9h1.8v1.8h-1.8zM477.7 342.1h1.8v1.8h-1.8zM477.8 343.1h1.8v1.8h-1.8zM478.1 345.4h1.8v1.8h-1.8zM478.1 342.4h1.8v1.8h-1.8zM478.0 345.6h1.8v1.8h-1.8zM478.3 344.5h1.8v1.8h-1.8zM478.6 341.7h1.8v1.8h-1.8zM478.5 344.6h1.8v1.8h-1.8zM478.9 344.9h1.8v1.8h-1.8zM479.0 344.5h1.8v1.8h-1.8zM478.8 344.9h1.8v1.8h-1.8zM478.7 340.7h1.8v1.8h-1.8zM479.0 342.7h1.8v1.8h-1.8zM479.2 340.8h1.8v1.8h-1.8zM479.1 343.2h1.8v1.8h-1.8zM479.3 343.4h1.8v1.8h-1.8zM479.6 342.1h1.8v1.8h-1.8zM479.6 341.5h1.8v1.8h-1.8zM480.0 341.5h1.8v1.8h-1.8zM479.9 343.1h1.8v1.8h-1.8zM479.8 340.9h1.8v1.8h-1.8zM479.8 342.9h1.8v1.8h-1.8zM480.4 342.7h1.8v1.8h-1.8zM480.2 343.0h1.8v1.8h-1.8zM480.1 340.4h1.8v1.8h-1.8zM480.4 340.3h1.8v1.8h-1.8zM480.6 340.6h1.8v1.8h-1.8zM480.6 344.3h1.8v1.8h-1.8zM480.7 340.0h1.8v1.8h-1.8zM480.8 344.0h1.8v1.8h-1.8zM480.8 343.7h1.8v1.8h-1.8zM481.1 341.1h1.8v1.8h-1.8zM481.3 344.7h1.8v1.8h-1.8zM481.2 341.6h1.8v1.8h-1.8zM481.1 341.8h1.8v1.8h-1.8zM481.8 342.9h1.8v1.8h-1.8zM481.6 342.1h1.8v1.8h-1.8zM481.4 341.0h1.8v1.8h-1.8zM481.9 344.3h1.8v1.8h-1.8zM482.1 344.6h1.8v1.8h-1.8zM482.0 341.3h1.8v1.8h-1.8zM482.5 342.3h1.8v1.8h-1.8zM482.3 340.9h1.8v1.8h-1.8zM482.2 343.6h1.8v1.8h-1.8zM482.6 344.4h1.8v1.8h-1.8zM482.6 343.9h1.8v1.8h-1.8zM482.6 340.5h1.8v1.8h-1.8zM482.8 340.6h1.8v1.8h-1.8zM482.9 342.6h1.8v1.8h-1.8zM483.0 342.5h1.8v1.8h-1.8zM482.8 341.7h1.8v1.8h-1.8zM483.1 340.2h1.8v1.8h-1.8zM483.2 340.8h1.8v1.8h-1.8zM483.3 341.0h1.8v1.8h-1.8zM483.4 339.7h1.8v1.8h-1.8zM483.2 341.4h1.8v1.8h-1.8zM483.6 339.9h1.8v1.8h-1.8zM483.6 344.1h1.8v1.8h-1.8zM483.8 341.9h1.8v1.8h-1.8zM484.0 340.3h1.8v1.8h-1.8zM484.0 343.4h1.8v1.8h-1.8zM483.9 344.7h1.8v1.8h-1.8zM484.3 342.2h1.8v1.8h-1.8zM484.3 341.9h1.8v1.8h-1.8zM484.3 343.3h1.8v1.8h-1.8zM484.7 342.6h1.8v1.8h-1.8zM484.8 340.7h1.8v1.8h-1.8zM484.9 340.5h1.8v1.8h-1.8zM485.1 342.1h1.8v1.8h-1.8zM485.2 340.8h1.8v1.8h-1.8zM485.2 341.4h1.8v1.8h-1.8zM485.0 342.4h1.8v1.8h-1.8zM485.3 339.8h1.8v1.8h-1.8zM485.4 344.0h1.8v1.8h-1.8zM485.3 342.9h1.8v1.8h-1.8zM485.8 341.2h1.8v1.8h-1.8zM485.6 340.9h1.8v1.8h-1.8zM485.7 341.0h1.8v1.8h-1.8zM486.1 343.1h1.8v1.8h-1.8zM486.3 341.4h1.8v1.8h-1.8zM486.3 343.5h1.8v1.8h-1.8zM486.0 343.9h1.8v1.8h-1.8zM486.6 339.4h1.8v1.8h-1.8zM486.4 342.8h1.8v1.8h-1.8zM486.6 341.5h1.8v1.8h-1.8zM486.4 343.0h1.8v1.8h-1.8zM486.9 341.1h1.8v1.8h-1.8zM486.7 340.2h1.8v1.8h-1.8zM486.9 344.1h1.8v1.8h-1.8zM487.0 339.4h1.8v1.8h-1.8zM487.1 340.0h1.8v1.8h-1.8zM487.2 340.8h1.8v1.8h-1.8zM487.6 340.8h1.8v1.8h-1.8zM487.7 340.1h1.8v1.8h-1.8zM487.6 342.2h1.8v1.8h-1.8zM487.5 340.5h1.8v1.8h-1.8zM487.7 341.0h1.8v1.8h-1.8zM488.0 343.6h1.8v1.8h-1.8zM487.7 340.6h1.8v1.8h-1.8zM488.1 342.3h1.8v1.8h-1.8zM488.1 340.4h1.8v1.8h-1.8zM488.1 343.3h1.8v1.8h-1.8zM488.5 343.1h1.8v1.8h-1.8zM488.6 342.8h1.8v1.8h-1.8zM488.7 343.1h1.8v1.8h-1.8zM489.1 339.5h1.8v1.8h-1.8zM489.1 341.3h1.8v1.8h-1.8zM489.0 342.7h1.8v1.8h-1.8zM489.0 343.5h1.8v1.8h-1.8zM489.4 339.3h1.8v1.8h-1.8zM489.3 341.3h1.8v1.8h-1.8zM489.2 344.0h1.8v1.8h-1.8zM489.7 339.2h1.8v1.8h-1.8zM489.6 343.3h1.8v1.8h-1.8zM489.8 341.9h1.8v1.8h-1.8zM489.9 341.8h1.8v1.8h-1.8zM490.0 339.2h1.8v1.8h-1.8zM489.9 341.1h1.8v1.8h-1.8zM490.4 339.6h1.8v1.8h-1.8zM490.3 342.5h1.8v1.8h-1.8zM490.4 340.2h1.8v1.8h-1.8zM490.6 343.8h1.8v1.8h-1.8zM490.8 340.5h1.8v1.8h-1.8zM490.7 339.6h1.8v1.8h-1.8zM491.1 343.2h1.8v1.8h-1.8zM490.9 342.9h1.8v1.8h-1.8zM491.1 342.4h1.8v1.8h-1.8zM491.5 342.9h1.8v1.8h-1.8zM491.3 339.4h1.8v1.8h-1.8zM491.3 340.7h1.8v1.8h-1.8zM491.6 340.3h1.8v1.8h-1.8zM491.7 342.5h1.8v1.8h-1.8zM491.7 339.4h1.8v1.8h-1.8zM491.7 341.3h1.8v1.8h-1.8zM491.9 339.1h1.8v1.8h-1.8zM492.2 344.0h1.8v1.8h-1.8zM492.2 339.2h1.8v1.8h-1.8zM492.1 343.9h1.8v1.8h-1.8zM492.4 341.3h1.8v1.8h-1.8zM492.5 339.7h1.8v1.8h-1.8zM492.6 338.8h1.8v1.8h-1.8zM492.5 342.1h1.8v1.8h-1.8zM492.7 342.1h1.8v1.8h-1.8zM492.7 340.0h1.8v1.8h-1.8zM492.9 338.8h1.8v1.8h-1.8zM493.0 340.2h1.8v1.8h-1.8zM493.3 342.0h1.8v1.8h-1.8zM493.0 343.5h1.8v1.8h-1.8zM493.6 343.0h1.8v1.8h-1.8zM493.4 340.4h1.8v1.8h-1.8zM493.4 343.0h1.8v1.8h-1.8zM493.8 341.5h1.8v1.8h-1.8zM493.8 342.9h1.8v1.8h-1.8zM493.9 338.8h1.8v1.8h-1.8zM494.3 342.9h1.8v1.8h-1.8zM494.4 343.3h1.8v1.8h-1.8zM494.2 341.2h1.8v1.8h-1.8zM494.6 340.1h1.8v1.8h-1.8zM494.6 339.0h1.8v1.8h-1.8zM494.5 339.4h1.8v1.8h-1.8zM494.4 343.6h1.8v1.8h-1.8zM494.8 340.8h1.8v1.8h-1.8zM494.7 342.3h1.8v1.8h-1.8zM495.0 342.9h1.8v1.8h-1.8zM494.9 342.6h1.8v1.8h-1.8zM495.3 341.9h1.8v1.8h-1.8zM495.2 340.7h1.8v1.8h-1.8zM495.3 340.8h1.8v1.8h-1.8zM495.5 343.2h1.8v1.8h-1.8zM495.6 340.0h1.8v1.8h-1.8zM495.5 341.4h1.8v1.8h-1.8zM495.9 338.9h1.8v1.8h-1.8zM496.1 340.8h1.8v1.8h-1.8zM496.1 343.2h1.8v1.8h-1.8zM496.3 343.4h1.8v1.8h-1.8zM496.1 342.6h1.8v1.8h-1.8zM496.3 341.9h1.8v1.8h-1.8zM496.8 341.3h1.8v1.8h-1.8zM496.7 340.9h1.8v1.8h-1.8zM496.6 339.9h1.8v1.8h-1.8zM496.9 338.5h1.8v1.8h-1.8zM497.0 341.9h1.8v1.8h-1.8zM497.1 338.8h1.8v1.8h-1.8zM497.3 341.3h1.8v1.8h-1.8zM497.4 341.1h1.8v1.8h-1.8zM497.2 340.4h1.8v1.8h-1.8zM497.7 342.9h1.8v1.8h-1.8zM497.8 338.9h1.8v1.8h-1.8zM497.6 339.6h1.8v1.8h-1.8zM497.6 341.0h1.8v1.8h-1.8zM498.0 341.1h1.8v1.8h-1.8zM497.9 341.2h1.8v1.8h-1.8zM498.1 340.9h1.8v1.8h-1.8zM498.3 340.3h1.8v1.8h-1.8zM498.5 340.5h1.8v1.8h-1.8zM498.5 341.1h1.8v1.8h-1.8zM498.3 342.1h1.8v1.8h-1.8zM498.6 341.9h1.8v1.8h-1.8zM498.7 342.5h1.8v1.8h-1.8zM498.9 339.1h1.8v1.8h-1.8zM499.0 342.2h1.8v1.8h-1.8zM498.9 342.2h1.8v1.8h-1.8zM499.1 339.4h1.8v1.8h-1.8zM499.3 341.2h1.8v1.8h-1.8zM499.5 339.7h1.8v1.8h-1.8zM499.6 340.3h1.8v1.8h-1.8zM499.6 341.3h1.8v1.8h-1.8zM499.9 342.9h1.8v1.8h-1.8zM499.9 339.0h1.8v1.8h-1.8zM499.9 339.9h1.8v1.8h-1.8zM500.0 342.3h1.8v1.8h-1.8zM500.2 340.0h1.8v1.8h-1.8zM500.2 343.0h1.8v1.8h-1.8zM500.4 341.2h1.8v1.8h-1.8zM500.6 340.9h1.8v1.8h-1.8zM500.6 338.6h1.8v1.8h-1.8zM500.4 341.5h1.8v1.8h-1.8zM501.0 340.3h1.8v1.8h-1.8zM500.7 341.0h1.8v1.8h-1.8zM500.7 338.1h1.8v1.8h-1.8zM501.2 338.9h1.8v1.8h-1.8zM501.3 339.5h1.8v1.8h-1.8zM501.1 339.9h1.8v1.8h-1.8zM501.6 340.7h1.8v1.8h-1.8zM501.7 342.1h1.8v1.8h-1.8zM501.5 338.0h1.8v1.8h-1.8zM502.0 340.5h1.8v1.8h-1.8zM501.7 342.1h1.8v1.8h-1.8zM502.0 338.8h1.8v1.8h-1.8zM501.9 341.4h1.8v1.8h-1.8zM502.4 338.7h1.8v1.8h-1.8zM502.4 339.9h1.8v1.8h-1.8zM502.1 341.0h1.8v1.8h-1.8zM502.7 339.0h1.8v1.8h-1.8zM502.4 340.9h1.8v1.8h-1.8zM502.6 338.7h1.8v1.8h-1.8zM502.9 340.8h1.8v1.8h-1.8zM502.8 339.6h1.8v1.8h-1.8zM502.9 340.8h1.8v1.8h-1.8zM503.5 340.2h1.8v1.8h-1.8zM503.2 338.0h1.8v1.8h-1.8zM503.2 341.3h1.8v1.8h-1.8zM503.3 339.2h1.8v1.8h-1.8zM503.7 340.7h1.8v1.8h-1.8zM503.8 342.7h1.8v1.8h-1.8zM503.7 337.9h1.8v1.8h-1.8zM504.1 342.2h1.8v1.8h-1.8zM504.0 341.0h1.8v1.8h-1.8zM503.9 339.6h1.8v1.8h-1.8zM504.5 342.2h1.8v1.8h-1.8zM504.3 341.2h1.8v1.8h-1.8zM504.4 341.6h1.8v1.8h-1.8zM504.6 340.9h1.8v1.8h-1.8zM504.7 340.5h1.8v1.8h-1.8zM504.6 338.0h1.8v1.8h-1.8zM505.0 342.8h1.8v1.8h-1.8zM505.0 339.5h1.8v1.8h-1.8zM505.0 338.8h1.8v1.8h-1.8zM505.5 337.6h1.8v1.8h-1.8zM505.4 339.9h1.8v1.8h-1.8zM505.3 340.5h1.8v1.8h-1.8zM505.2 338.5h1.8v1.8h-1.8zM505.8 339.2h1.8v1.8h-1.8zM505.9 340.4h1.8v1.8h-1.8zM505.9 339.3h1.8v1.8h-1.8zM506.0 337.9h1.8v1.8h-1.8zM506.3 340.5h1.8v1.8h-1.8zM506.2 339.4h1.8v1.8h-1.8zM506.3 342.0h1.8v1.8h-1.8zM506.6 340.0h1.8v1.8h-1.8zM506.4 338.9h1.8v1.8h-1.8zM506.7 338.3h1.8v1.8h-1.8zM506.7 341.1h1.8v1.8h-1.8zM506.7 339.5h1.8v1.8h-1.8zM506.9 340.6h1.8v1.8h-1.8zM507.2 338.4h1.8v1.8h-1.8zM507.2 342.4h1.8v1.8h-1.8zM507.3 337.8h1.8v1.8h-1.8zM507.4 339.2h1.8v1.8h-1.8zM507.5 338.4h1.8v1.8h-1.8zM507.5 341.9h1.8v1.8h-1.8zM507.8 338.5h1.8v1.8h-1.8zM507.9 341.3h1.8v1.8h-1.8zM507.9 339.5h1.8v1.8h-1.8zM508.2 337.6h1.8v1.8h-1.8zM508.2 337.6h1.8v1.8h-1.8zM508.2 339.1h1.8v1.8h-1.8zM508.5 338.6h1.8v1.8h-1.8zM508.7 337.4h1.8v1.8h-1.8zM508.7 340.2h1.8v1.8h-1.8zM509.0 340.5h1.8v1.8h-1.8zM508.8 339.0h1.8v1.8h-1.8zM508.8 338.1h1.8v1.8h-1.8zM508.8 341.3h1.8v1.8h-1.8zM509.3 339.4h1.8v1.8h-1.8zM509.3 340.3h1.8v1.8h-1.8zM509.3 340.7h1.8v1.8h-1.8zM509.5 341.1h1.8v1.8h-1.8zM509.7 340.9h1.8v1.8h-1.8zM509.5 341.2h1.8v1.8h-1.8zM509.9 342.3h1.8v1.8h-1.8zM510.0 338.6h1.8v1.8h-1.8zM509.8 342.1h1.8v1.8h-1.8zM510.4 339.6h1.8v1.8h-1.8zM510.3 341.2h1.8v1.8h-1.8zM510.2 342.3h1.8v1.8h-1.8zM510.2 341.1h1.8v1.8h-1.8zM510.5 337.8h1.8v1.8h-1.8zM510.7 339.7h1.8v1.8h-1.8zM510.8 338.1h1.8v1.8h-1.8zM510.5 339.0h1.8v1.8h-1.8zM511.1 340.9h1.8v1.8h-1.8zM510.8 337.9h1.8v1.8h-1.8zM510.9 341.1h1.8v1.8h-1.8zM511.0 342.2h1.8v1.8h-1.8zM511.5 338.8h1.8v1.8h-1.8zM511.3 339.4h1.8v1.8h-1.8zM511.2 341.7h1.8v1.8h-1.8zM511.8 337.4h1.8v1.8h-1.8zM511.8 339.1h1.8v1.8h-1.8zM511.7 337.3h1.8v1.8h-1.8zM512.2 341.8h1.8v1.8h-1.8zM512.0 340.2h1.8v1.8h-1.8zM512.0 338.3h1.8v1.8h-1.8zM512.3 338.2h1.8v1.8h-1.8zM512.4 340.9h1.8v1.8h-1.8zM512.6 338.5h1.8v1.8h-1.8zM512.6 339.9h1.8v1.8h-1.8zM512.9 341.4h1.8v1.8h-1.8zM512.8 338.3h1.8v1.8h-1.8zM513.0 338.4h1.8v1.8h-1.8zM513.2 339.4h1.8v1.8h-1.8zM513.2 337.7h1.8v1.8h-1.8zM513.5 339.2h1.8v1.8h-1.8zM513.3 341.4h1.8v1.8h-1.8zM513.4 341.5h1.8v1.8h-1.8zM513.7 341.3h1.8v1.8h-1.8zM514.0 341.3h1.8v1.8h-1.8zM513.6 338.4h1.8v1.8h-1.8zM514.0 341.9h1.8v1.8h-1.8zM514.0 341.5h1.8v1.8h-1.8zM514.0 340.6h1.8v1.8h-1.8zM514.2 337.7h1.8v1.8h-1.8zM514.6 338.5h1.8v1.8h-1.8zM514.6 340.5h1.8v1.8h-1.8zM514.3 341.9h1.8v1.8h-1.8zM514.6 338.0h1.8v1.8h-1.8zM514.9 336.9h1.8v1.8h-1.8zM514.8 337.9h1.8v1.8h-1.8zM514.7 337.3h1.8v1.8h-1.8zM515.3 338.3h1.8v1.8h-1.8zM515.2 337.3h1.8v1.8h-1.8zM515.2 337.4h1.8v1.8h-1.8zM515.4 340.2h1.8v1.8h-1.8zM515.6 340.5h1.8v1.8h-1.8zM515.5 337.3h1.8v1.8h-1.8zM515.7 339.3h1.8v1.8h-1.8zM516.1 337.8h1.8v1.8h-1.8zM516.0 341.2h1.8v1.8h-1.8zM515.8 338.1h1.8v1.8h-1.8zM516.1 337.0h1.8v1.8h-1.8zM516.2 339.3h1.8v1.8h-1.8zM516.2 339.5h1.8v1.8h-1.8zM516.7 340.2h1.8v1.8h-1.8zM516.6 339.4h1.8v1.8h-1.8zM516.8 340.2h1.8v1.8h-1.8zM516.7 341.1h1.8v1.8h-1.8zM516.9 338.2h1.8v1.8h-1.8zM516.9 341.6h1.8v1.8h-1.8zM516.9 338.5h1.8v1.8h-1.8zM517.1 341.7h1.8v1.8h-1.8zM517.4 339.7h1.8v1.8h-1.8zM517.3 337.8h1.8v1.8h-1.8zM517.2 338.5h1.8v1.8h-1.8zM517.8 337.1h1.8v1.8h-1.8zM517.8 340.6h1.8v1.8h-1.8zM517.7 336.7h1.8v1.8h-1.8zM518.0 339.8h1.8v1.8h-1.8zM518.2 338.1h1.8v1.8h-1.8zM518.1 336.5h1.8v1.8h-1.8zM518.4 339.1h1.8v1.8h-1.8zM518.3 341.6h1.8v1.8h-1.8zM518.4 339.7h1.8v1.8h-1.8zM518.7 340.1h1.8v1.8h-1.8zM518.7 339.1h1.8v1.8h-1.8zM518.6 339.9h1.8v1.8h-1.8zM519.0 339.2h1.8v1.8h-1.8zM519.0 339.5h1.8v1.8h-1.8zM519.0 341.1h1.8v1.8h-1.8zM519.4 339.0h1.8v1.8h-1.8zM519.3 337.5h1.8v1.8h-1.8zM519.4 341.1h1.8v1.8h-1.8zM519.9 339.0h1.8v1.8h-1.8zM519.6 337.5h1.8v1.8h-1.8zM519.7 340.6h1.8v1.8h-1.8zM520.2 340.6h1.8v1.8h-1.8zM519.9 340.8h1.8v1.8h-1.8zM520.2 338.2h1.8v1.8h-1.8zM520.3 336.9h1.8v1.8h-1.8zM520.3 337.5h1.8v1.8h-1.8zM520.6 338.1h1.8v1.8h-1.8zM520.7 338.6h1.8v1.8h-1.8zM521.0 338.3h1.8v1.8h-1.8zM520.8 339.8h1.8v1.8h-1.8zM521.2 340.3h1.8v1.8h-1.8zM521.2 336.9h1.8v1.8h-1.8zM521.2 338.1h1.8v1.8h-1.8zM521.4 338.1h1.8v1.8h-1.8zM521.3 338.1h1.8v1.8h-1.8zM521.5 337.2h1.8v1.8h-1.8zM521.9 337.0h1.8v1.8h-1.8zM521.8 337.5h1.8v1.8h-1.8zM522.0 337.4h1.8v1.8h-1.8zM521.9 336.6h1.8v1.8h-1.8zM522.2 337.1h1.8v1.8h-1.8zM522.2 340.2h1.8v1.8h-1.8zM522.0 338.0h1.8v1.8h-1.8zM522.6 337.9h1.8v1.8h-1.8zM522.5 337.6h1.8v1.8h-1.8zM522.7 339.4h1.8v1.8h-1.8zM522.9 338.0h1.8v1.8h-1.8zM522.8 340.8h1.8v1.8h-1.8zM523.0 341.1h1.8v1.8h-1.8zM523.2 339.4h1.8v1.8h-1.8zM523.3 336.3h1.8v1.8h-1.8zM523.3 337.9h1.8v1.8h-1.8zM523.7 340.6h1.8v1.8h-1.8zM523.6 336.1h1.8v1.8h-1.8zM523.6 338.4h1.8v1.8h-1.8zM523.9 338.1h1.8v1.8h-1.8zM523.9 340.5h1.8v1.8h-1.8zM524.0 338.5h1.8v1.8h-1.8zM524.4 339.3h1.8v1.8h-1.8zM524.1 337.9h1.8v1.8h-1.8zM524.3 339.4h1.8v1.8h-1.8zM524.5 339.7h1.8v1.8h-1.8zM524.5 336.9h1.8v1.8h-1.8zM524.5 340.0h1.8v1.8h-1.8zM525.0 339.6h1.8v1.8h-1.8zM525.1 336.0h1.8v1.8h-1.8zM525.0 339.3h1.8v1.8h-1.8zM525.1 336.0h1.8v1.8h-1.8zM525.5 338.6h1.8v1.8h-1.8zM525.5 339.8h1.8v1.8h-1.8zM525.3 336.3h1.8v1.8h-1.8zM525.9 335.5h1.8v1.8h-1.8zM525.6 336.9h1.8v1.8h-1.8zM525.6 337.1h1.8v1.8h-1.8zM526.1 338.3h1.8v1.8h-1.8zM525.9 337.6h1.8v1.8h-1.8zM526.2 337.0h1.8v1.8h-1.8zM526.3 339.7h1.8v1.8h-1.8zM526.2 336.3h1.8v1.8h-1.8zM526.4 338.1h1.8v1.8h-1.8zM526.8 337.7h1.8v1.8h-1.8zM526.9 337.1h1.8v1.8h-1.8zM526.9 336.2h1.8v1.8h-1.8zM527.0 335.4h1.8v1.8h-1.8zM527.1 337.9h1.8v1.8h-1.8zM527.0 338.0h1.8v1.8h-1.8zM527.4 339.1h1.8v1.8h-1.8zM527.6 338.7h1.8v1.8h-1.8zM527.4 338.1h1.8v1.8h-1.8zM527.9 337.2h1.8v1.8h-1.8zM527.8 335.2h1.8v1.8h-1.8zM527.6 338.2h1.8v1.8h-1.8zM528.2 335.2h1.8v1.8h-1.8zM528.3 335.8h1.8v1.8h-1.8zM528.3 337.7h1.8v1.8h-1.8zM528.6 338.2h1.8v1.8h-1.8zM528.4 336.3h1.8v1.8h-1.8zM528.4 339.0h1.8v1.8h-1.8zM528.7 335.7h1.8v1.8h-1.8zM528.9 335.2h1.8v1.8h-1.8zM528.8 339.5h1.8v1.8h-1.8zM529.3 335.9h1.8v1.8h-1.8zM529.1 338.1h1.8v1.8h-1.8zM529.3 334.9h1.8v1.8h-1.8zM529.5 338.7h1.8v1.8h-1.8zM529.6 335.7h1.8v1.8h-1.8zM529.6 336.1h1.8v1.8h-1.8zM529.7 335.3h1.8v1.8h-1.8zM529.8 338.6h1.8v1.8h-1.8zM530.1 338.4h1.8v1.8h-1.8zM529.7 336.4h1.8v1.8h-1.8zM530.2 337.5h1.8v1.8h-1.8zM530.1 337.1h1.8v1.8h-1.8zM530.3 336.7h1.8v1.8h-1.8zM530.5 337.6h1.8v1.8h-1.8zM530.5 338.4h1.8v1.8h-1.8zM530.8 338.9h1.8v1.8h-1.8zM530.9 336.8h1.8v1.8h-1.8zM531.0 335.9h1.8v1.8h-1.8zM531.1 336.6h1.8v1.8h-1.8zM531.4 336.4h1.8v1.8h-1.8zM531.3 336.9h1.8v1.8h-1.8zM531.2 334.4h1.8v1.8h-1.8zM531.8 338.2h1.8v1.8h-1.8zM531.8 334.9h1.8v1.8h-1.8zM531.7 333.9h1.8v1.8h-1.8zM532.2 335.2h1.8v1.8h-1.8zM531.8 336.8h1.8v1.8h-1.8zM532.0 335.1h1.8v1.8h-1.8zM532.2 336.9h1.8v1.8h-1.8zM532.3 337.2h1.8v1.8h-1.8zM532.4 333.6h1.8v1.8h-1.8zM532.8 335.7h1.8v1.8h-1.8zM532.7 336.0h1.8v1.8h-1.8zM532.7 333.1h1.8v1.8h-1.8zM532.9 336.0h1.8v1.8h-1.8zM533.0 335.6h1.8v1.8h-1.8zM533.1 334.6h1.8v1.8h-1.8zM533.6 333.3h1.8v1.8h-1.8zM533.5 334.1h1.8v1.8h-1.8zM533.4 336.9h1.8v1.8h-1.8zM533.9 332.7h1.8v1.8h-1.8zM533.7 332.8h1.8v1.8h-1.8zM533.6 334.9h1.8v1.8h-1.8zM534.1 332.8h1.8v1.8h-1.8zM534.1 334.5h1.8v1.8h-1.8zM534.1 333.0h1.8v1.8h-1.8zM534.4 332.4h1.8v1.8h-1.8zM534.5 336.1h1.8v1.8h-1.8zM534.3 336.2h1.8v1.8h-1.8zM534.9 334.0h1.8v1.8h-1.8zM534.9 334.4h1.8v1.8h-1.8zM534.9 332.7h1.8v1.8h-1.8zM535.0 332.6h1.8v1.8h-1.8zM535.2 333.2h1.8v1.8h-1.8zM535.3 332.7h1.8v1.8h-1.8zM535.4 333.9h1.8v1.8h-1.8zM535.6 334.0h1.8v1.8h-1.8zM535.3 334.6h1.8v1.8h-1.8zM536.0 333.8h1.8v1.8h-1.8zM535.9 331.0h1.8v1.8h-1.8zM536.0 334.2h1.8v1.8h-1.8zM536.2 334.6h1.8v1.8h-1.8zM536.0 335.1h1.8v1.8h-1.8zM536.2 335.2h1.8v1.8h-1.8zM536.5 330.7h1.8v1.8h-1.8zM536.6 334.0h1.8v1.8h-1.8zM536.5 331.0h1.8v1.8h-1.8zM536.8 331.0h1.8v1.8h-1.8zM537.1 331.7h1.8v1.8h-1.8zM537.0 335.0h1.8v1.8h-1.8zM537.3 332.3h1.8v1.8h-1.8zM537.3 334.3h1.8v1.8h-1.8zM537.1 333.0h1.8v1.8h-1.8zM537.7 333.8h1.8v1.8h-1.8zM537.7 330.0h1.8v1.8h-1.8zM537.5 331.3h1.8v1.8h-1.8zM538.0 332.7h1.8v1.8h-1.8zM538.1 330.0h1.8v1.8h-1.8zM538.1 334.0h1.8v1.8h-1.8zM538.4 333.2h1.8v1.8h-1.8zM538.3 332.0h1.8v1.8h-1.8zM538.4 333.2h1.8v1.8h-1.8zM538.8 330.3h1.8v1.8h-1.8zM538.8 331.5h1.8v1.8h-1.8zM538.8 329.4h1.8v1.8h-1.8zM539.1 329.8h1.8v1.8h-1.8zM538.9 329.7h1.8v1.8h-1.8zM538.9 330.9h1.8v1.8h-1.8zM539.4 332.9h1.8v1.8h-1.8zM539.3 331.9h1.8v1.8h-1.8zM539.5 332.2h1.8v1.8h-1.8zM539.8 332.8h1.8v1.8h-1.8zM539.6 330.1h1.8v1.8h-1.8zM539.8 331.3h1.8v1.8h-1.8zM540.2 330.8h1.8v1.8h-1.8zM539.9 331.8h1.8v1.8h-1.8zM539.9 330.3h1.8v1.8h-1.8zM540.4 331.9h1.8v1.8h-1.8zM540.4 330.8h1.8v1.8h-1.8zM540.3 329.5h1.8v1.8h-1.8zM540.8 332.0h1.8v1.8h-1.8zM540.6 329.2h1.8v1.8h-1.8zM540.8 329.1h1.8v1.8h-1.8zM541.2 331.1h1.8v1.8h-1.8zM541.2 328.4h1.8v1.8h-1.8zM541.2 328.0h1.8v1.8h-1.8zM541.6 329.1h1.8v1.8h-1.8zM541.4 329.6h1.8v1.8h-1.8zM541.5 332.2h1.8v1.8h-1.8zM541.8 329.7h1.8v1.8h-1.8zM541.8 332.5h1.8v1.8h-1.8zM541.7 332.7h1.8v1.8h-1.8zM542.2 328.5h1.8v1.8h-1.8zM542.0 327.7h1.8v1.8h-1.8zM542.1 332.5h1.8v1.8h-1.8zM542.4 329.0h1.8v1.8h-1.8zM542.5 328.2h1.8v1.8h-1.8zM542.5 332.0h1.8v1.8h-1.8zM543.0 332.3h1.8v1.8h-1.8zM542.7 331.0h1.8v1.8h-1.8zM542.8 330.8h1.8v1.8h-1.8zM543.3 329.5h1.8v1.8h-1.8zM543.2 330.9h1.8v1.8h-1.8zM543.3 330.3h1.8v1.8h-1.8zM543.5 330.2h1.8v1.8h-1.8zM543.4 332.6h1.8v1.8h-1.8zM543.6 331.9h1.8v1.8h-1.8zM544.0 329.9h1.8v1.8h-1.8zM544.0 332.1h1.8v1.8h-1.8zM543.7 331.4h1.8v1.8h-1.8zM544.4 328.3h1.8v1.8h-1.8zM544.1 332.1h1.8v1.8h-1.8zM544.3 330.6h1.8v1.8h-1.8zM544.7 329.6h1.8v1.8h-1.8zM544.5 330.9h1.8v1.8h-1.8zM544.5 331.5h1.8v1.8h-1.8zM544.6 330.4h1.8v1.8h-1.8zM545.1 330.9h1.8v1.8h-1.8zM544.9 331.0h1.8v1.8h-1.8zM545.0 332.4h1.8v1.8h-1.8zM545.2 329.0h1.8v1.8h-1.8zM545.4 330.5h1.8v1.8h-1.8zM545.2 331.6h1.8v1.8h-1.8zM545.8 330.2h1.8v1.8h-1.8zM545.7 328.4h1.8v1.8h-1.8zM545.6 328.5h1.8v1.8h-1.8zM546.0 329.1h1.8v1.8h-1.8zM546.2 332.4h1.8v1.8h-1.8zM545.9 328.5h1.8v1.8h-1.8zM545.9 332.3h1.8v1.8h-1.8zM546.2 329.8h1.8v1.8h-1.8zM546.3 328.9h1.8v1.8h-1.8zM546.5 329.5h1.8v1.8h-1.8zM546.8 328.6h1.8v1.8h-1.8zM546.8 329.8h1.8v1.8h-1.8zM546.8 330.8h1.8v1.8h-1.8zM547.1 328.3h1.8v1.8h-1.8zM547.1 329.9h1.8v1.8h-1.8zM547.1 330.9h1.8v1.8h-1.8zM547.5 329.4h1.8v1.8h-1.8zM547.3 330.2h1.8v1.8h-1.8zM547.3 330.7h1.8v1.8h-1.8zM547.9 327.7h1.8v1.8h-1.8zM547.7 330.4h1.8v1.8h-1.8zM547.7 332.2h1.8v1.8h-1.8zM548.1 327.9h1.8v1.8h-1.8zM548.2 331.3h1.8v1.8h-1.8zM548.2 329.6h1.8v1.8h-1.8zM548.5 329.0h1.8v1.8h-1.8zM548.5 332.3h1.8v1.8h-1.8zM548.5 331.0h1.8v1.8h-1.8zM548.9 332.2h1.8v1.8h-1.8zM548.8 329.2h1.8v1.8h-1.8zM548.7 331.5h1.8v1.8h-1.8zM549.2 331.8h1.8v1.8h-1.8zM549.2 330.1h1.8v1.8h-1.8zM549.0 332.0h1.8v1.8h-1.8zM549.5 327.8h1.8v1.8h-1.8zM549.6 330.0h1.8v1.8h-1.8zM549.5 330.8h1.8v1.8h-1.8zM549.8 330.3h1.8v1.8h-1.8zM550.0 331.7h1.8v1.8h-1.8zM549.7 331.7h1.8v1.8h-1.8zM550.2 331.2h1.8v1.8h-1.8zM550.3 331.9h1.8v1.8h-1.8zM550.3 331.2h1.8v1.8h-1.8zM550.4 331.8h1.8v1.8h-1.8zM550.6 331.0h1.8v1.8h-1.8zM550.5 330.5h1.8v1.8h-1.8zM551.0 330.4h1.8v1.8h-1.8zM550.8 328.8h1.8v1.8h-1.8zM550.8 328.5h1.8v1.8h-1.8zM551.4 332.3h1.8v1.8h-1.8zM551.3 329.2h1.8v1.8h-1.8zM551.4 327.8h1.8v1.8h-1.8zM551.6 327.4h1.8v1.8h-1.8zM551.5 328.1h1.8v1.8h-1.8zM551.6 327.7h1.8v1.8h-1.8zM551.8 331.4h1.8v1.8h-1.8zM551.8 331.5h1.8v1.8h-1.8zM552.0 328.5h1.8v1.8h-1.8zM552.3 329.0h1.8v1.8h-1.8zM552.4 328.5h1.8v1.8h-1.8zM552.4 328.4h1.8v1.8h-1.8zM552.5 330.1h1.8v1.8h-1.8zM552.5 331.3h1.8v1.8h-1.8zM552.6 329.9h1.8v1.8h-1.8zM553.1 330.5h1.8v1.8h-1.8zM553.0 330.3h1.8v1.8h-1.8zM553.0 329.9h1.8v1.8h-1.8zM553.5 331.7h1.8v1.8h-1.8zM553.5 331.4h1.8v1.8h-1.8zM553.5 329.0h1.8v1.8h-1.8zM553.6 329.7h1.8v1.8h-1.8zM553.8 329.6h1.8v1.8h-1.8zM553.7 330.9h1.8v1.8h-1.8zM554.0 328.3h1.8v1.8h-1.8zM553.9 328.7h1.8v1.8h-1.8zM554.1 331.0h1.8v1.8h-1.8zM554.5 328.3h1.8v1.8h-1.8zM554.3 328.3h1.8v1.8h-1.8zM554.5 330.1h1.8v1.8h-1.8zM554.9 331.0h1.8v1.8h-1.8zM554.8 331.9h1.8v1.8h-1.8zM554.6 330.9h1.8v1.8h-1.8zM555.2 327.3h1.8v1.8h-1.8zM555.1 330.9h1.8v1.8h-1.8zM555.0 328.6h1.8v1.8h-1.8zM555.6 330.4h1.8v1.8h-1.8zM555.3 328.8h1.8v1.8h-1.8zM555.4 328.1h1.8v1.8h-1.8zM555.8 331.3h1.8v1.8h-1.8zM555.7 327.8h1.8v1.8h-1.8zM555.9 328.0h1.8v1.8h-1.8zM556.3 332.2h1.8v1.8h-1.8zM556.1 331.2h1.8v1.8h-1.8zM556.0 331.4h1.8v1.8h-1.8zM556.5 330.1h1.8v1.8h-1.8zM556.4 328.3h1.8v1.8h-1.8zM556.6 327.3h1.8v1.8h-1.8zM557.0 331.9h1.8v1.8h-1.8zM556.9 329.4h1.8v1.8h-1.8zM557.0 329.1h1.8v1.8h-1.8zM557.0 327.9h1.8v1.8h-1.8zM557.2 328.3h1.8v1.8h-1.8zM557.0 329.1h1.8v1.8h-1.8zM557.5 331.1h1.8v1.8h-1.8zM557.7 327.4h1.8v1.8h-1.8zM557.4 329.9h1.8v1.8h-1.8zM558.0 330.3h1.8v1.8h-1.8zM557.9 329.6h1.8v1.8h-1.8zM557.8 328.2h1.8v1.8h-1.8zM558.1 329.1h1.8v1.8h-1.8zM558.1 330.1h1.8v1.8h-1.8zM558.2 328.2h1.8v1.8h-1.8zM558.7 330.3h1.8v1.8h-1.8zM558.4 329.4h1.8v1.8h-1.8zM558.4 330.8h1.8v1.8h-1.8zM559.0 329.2h1.8v1.8h-1.8zM558.9 330.7h1.8v1.8h-1.8zM559.0 330.4h1.8v1.8h-1.8zM559.4 327.8h1.8v1.8h-1.8zM559.1 330.1h1.8v1.8h-1.8zM559.5 328.3h1.8v1.8h-1.8zM559.8 329.1h1.8v1.8h-1.8zM559.7 331.2h1.8v1.8h-1.8zM559.5 330.8h1.8v1.8h-1.8zM560.1 332.0h1.8v1.8h-1.8zM559.8 327.3h1.8v1.8h-1.8zM560.2 328.3h1.8v1.8h-1.8zM560.5 330.5h1.8v1.8h-1.8zM560.5 330.3h1.8v1.8h-1.8zM560.2 328.4h1.8v1.8h-1.8zM560.6 330.9h1.8v1.8h-1.8zM560.8 332.0h1.8v1.8h-1.8zM560.8 328.0h1.8v1.8h-1.8zM560.7 327.9h1.8v1.8h-1.8zM561.2 331.0h1.8v1.8h-1.8zM560.9 331.7h1.8v1.8h-1.8zM561.1 331.3h1.8v1.8h-1.8zM561.4 329.6h1.8v1.8h-1.8zM561.5 330.0h1.8v1.8h-1.8zM561.2 327.5h1.8v1.8h-1.8zM561.7 328.5h1.8v1.8h-1.8zM561.8 327.1h1.8v1.8h-1.8zM561.9 327.2h1.8v1.8h-1.8zM562.0 329.3h1.8v1.8h-1.8zM562.0 330.3h1.8v1.8h-1.8zM562.0 329.2h1.8v1.8h-1.8zM562.4 329.8h1.8v1.8h-1.8zM562.5 327.5h1.8v1.8h-1.8zM562.6 331.3h1.8v1.8h-1.8zM562.7 328.9h1.8v1.8h-1.8zM562.7 330.8h1.8v1.8h-1.8zM563.0 330.0h1.8v1.8h-1.8zM563.0 327.0h1.8v1.8h-1.8zM563.2 327.6h1.8v1.8h-1.8zM563.2 330.0h1.8v1.8h-1.8zM563.5 329.0h1.8v1.8h-1.8zM563.6 330.2h1.8v1.8h-1.8zM563.6 330.7h1.8v1.8h-1.8zM563.9 331.2h1.8v1.8h-1.8zM563.9 327.1h1.8v1.8h-1.8zM563.8 331.2h1.8v1.8h-1.8zM564.4 327.9h1.8v1.8h-1.8zM564.3 329.2h1.8v1.8h-1.8zM564.1 328.2h1.8v1.8h-1.8zM564.4 328.6h1.8v1.8h-1.8zM564.7 329.2h1.8v1.8h-1.8zM564.7 330.2h1.8v1.8h-1.8zM565.1 331.1h1.8v1.8h-1.8zM564.8 330.7h1.8v1.8h-1.8zM564.9 328.2h1.8v1.8h-1.8zM565.4 328.1h1.8v1.8h-1.8zM565.2 331.5h1.8v1.8h-1.8zM565.3 330.8h1.8v1.8h-1.8zM565.4 331.4h1.8v1.8h-1.8zM565.7 327.4h1.8v1.8h-1.8zM565.6 328.5h1.8v1.8h-1.8zM565.6 328.8h1.8v1.8h-1.8zM566.0 327.7h1.8v1.8h-1.8zM566.0 330.2h1.8v1.8h-1.8zM565.9 331.6h1.8v1.8h-1.8zM566.5 330.3h1.8v1.8h-1.8zM566.2 327.3h1.8v1.8h-1.8zM566.4 328.3h1.8v1.8h-1.8zM566.7 328.2h1.8v1.8h-1.8zM566.5 331.8h1.8v1.8h-1.8zM566.7 329.1h1.8v1.8h-1.8zM566.7 330.3h1.8v1.8h-1.8zM566.9 328.1h1.8v1.8h-1.8zM567.1 327.0h1.8v1.8h-1.8zM566.9 327.9h1.8v1.8h-1.8zM567.4 330.1h1.8v1.8h-1.8zM567.4 330.1h1.8v1.8h-1.8zM567.3 330.3h1.8v1.8h-1.8zM567.5 327.2h1.8v1.8h-1.8zM567.6 328.7h1.8v1.8h-1.8zM567.7 327.4h1.8v1.8h-1.8zM568.0 330.3h1.8v1.8h-1.8zM567.9 330.7h1.8v1.8h-1.8zM568.0 327.3h1.8v1.8h-1.8zM568.4 330.3h1.8v1.8h-1.8zM568.3 330.5h1.8v1.8h-1.8zM568.3 331.5h1.8v1.8h-1.8zM568.9 327.0h1.8v1.8h-1.8zM568.9 327.9h1.8v1.8h-1.8zM568.8 330.8h1.8v1.8h-1.8zM569.0 326.8h1.8v1.8h-1.8zM569.0 331.3h1.8v1.8h-1.8zM569.1 330.1h1.8v1.8h-1.8zM569.3 327.7h1.8v1.8h-1.8zM569.6 327.3h1.8v1.8h-1.8zM569.5 328.7h1.8v1.8h-1.8zM569.6 327.9h1.8v1.8h-1.8zM569.9 326.9h1.8v1.8h-1.8zM570.0 327.4h1.8v1.8h-1.8zM570.0 330.4h1.8v1.8h-1.8zM570.1 330.7h1.8v1.8h-1.8zM570.2 328.6h1.8v1.8h-1.8zM570.6 328.0h1.8v1.8h-1.8zM570.5 328.2h1.8v1.8h-1.8zM570.4 330.6h1.8v1.8h-1.8zM570.8 327.9h1.8v1.8h-1.8zM570.9 328.6h1.8v1.8h-1.8zM571.0 329.1h1.8v1.8h-1.8zM571.3 330.1h1.8v1.8h-1.8zM571.0 327.9h1.8v1.8h-1.8zM571.1 328.9h1.8v1.8h-1.8zM571.3 329.0h1.8v1.8h-1.8zM571.5 327.3h1.8v1.8h-1.8zM571.5 327.6h1.8v1.8h-1.8zM571.4 328.9h1.8v1.8h-1.8zM571.9 328.5h1.8v1.8h-1.8zM571.9 331.4h1.8v1.8h-1.8zM571.8 327.1h1.8v1.8h-1.8zM572.4 329.5h1.8v1.8h-1.8zM572.4 331.5h1.8v1.8h-1.8zM572.4 327.3h1.8v1.8h-1.8zM572.5 327.9h1.8v1.8h-1.8zM572.5 331.0h1.8v1.8h-1.8zM572.5 327.1h1.8v1.8h-1.8zM573.0 329.0h1.8v1.8h-1.8zM572.9 327.1h1.8v1.8h-1.8zM572.8 328.3h1.8v1.8h-1.8zM573.2 328.5h1.8v1.8h-1.8zM573.3 331.6h1.8v1.8h-1.8zM573.1 327.6h1.8v1.8h-1.8zM573.5 329.3h1.8v1.8h-1.8zM573.7 329.0h1.8v1.8h-1.8zM573.6 329.4h1.8v1.8h-1.8zM574.1 329.7h1.8v1.8h-1.8zM574.1 327.4h1.8v1.8h-1.8zM574.1 331.4h1.8v1.8h-1.8zM574.5 328.5h1.8v1.8h-1.8zM574.3 327.6h1.8v1.8h-1.8zM574.5 329.7h1.8v1.8h-1.8zM574.5 327.8h1.8v1.8h-1.8zM574.6 328.9h1.8v1.8h-1.8zM574.8 327.6h1.8v1.8h-1.8zM575.0 331.3h1.8v1.8h-1.8zM574.9 330.0h1.8v1.8h-1.8zM575.0 331.4h1.8v1.8h-1.8zM575.6 329.2h1.8v1.8h-1.8zM575.6 329.1h1.8v1.8h-1.8zM575.3 329.7h1.8v1.8h-1.8zM575.9 327.7h1.8v1.8h-1.8zM575.7 328.9h1.8v1.8h-1.8zM575.7 331.4h1.8v1.8h-1.8zM576.2 328.3h1.8v1.8h-1.8zM576.1 326.8h1.8v1.8h-1.8zM576.2 327.4h1.8v1.8h-1.8zM576.4 329.6h1.8v1.8h-1.8zM576.5 328.9h1.8v1.8h-1.8zM576.3 330.2h1.8v1.8h-1.8zM576.3 327.8h1.8v1.8h-1.8zM576.7 327.4h1.8v1.8h-1.8zM576.8 329.2h1.8v1.8h-1.8zM576.6 331.0h1.8v1.8h-1.8zM577.2 327.4h1.8v1.8h-1.8zM577.1 328.9h1.8v1.8h-1.8zM577.2 331.0h1.8v1.8h-1.8zM577.4 331.4h1.8v1.8h-1.8zM577.5 331.3h1.8v1.8h-1.8zM577.6 326.9h1.8v1.8h-1.8zM577.8 326.7h1.8v1.8h-1.8zM578.0 328.0h1.8v1.8h-1.8zM577.8 330.9h1.8v1.8h-1.8zM578.3 330.8h1.8v1.8h-1.8zM578.2 329.8h1.8v1.8h-1.8zM578.1 327.2h1.8v1.8h-1.8zM578.7 329.5h1.8v1.8h-1.8zM578.7 331.0h1.8v1.8h-1.8zM578.4 327.5h1.8v1.8h-1.8zM578.8 329.4h1.8v1.8h-1.8zM578.8 330.0h1.8v1.8h-1.8zM578.9 327.8h1.8v1.8h-1.8zM579.1 329.9h1.8v1.8h-1.8zM579.3 330.2h1.8v1.8h-1.8zM579.3 328.9h1.8v1.8h-1.8zM579.6 326.6h1.8v1.8h-1.8zM579.7 329.9h1.8v1.8h-1.8zM579.5 329.8h1.8v1.8h-1.8zM579.9 330.4h1.8v1.8h-1.8zM580.1 328.7h1.8v1.8h-1.8zM579.9 327.6h1.8v1.8h-1.8zM580.2 331.0h1.8v1.8h-1.8zM580.3 330.2h1.8v1.8h-1.8zM580.4 329.8h1.8v1.8h-1.8zM580.6 327.6h1.8v1.8h-1.8zM580.5 327.9h1.8v1.8h-1.8zM580.6 327.2h1.8v1.8h-1.8zM581.0 326.9h1.8v1.8h-1.8zM581.0 331.2h1.8v1.8h-1.8zM581.1 328.3h1.8v1.8h-1.8zM581.3 327.4h1.8v1.8h-1.8zM581.4 326.6h1.8v1.8h-1.8zM581.3 327.3h1.8v1.8h-1.8zM581.8 330.3h1.8v1.8h-1.8zM581.7 329.7h1.8v1.8h-1.8zM581.9 330.0h1.8v1.8h-1.8zM582.0 330.3h1.8v1.8h-1.8zM582.2 327.8h1.8v1.8h-1.8zM582.2 329.5h1.8v1.8h-1.8zM582.3 329.4h1.8v1.8h-1.8zM582.4 326.6h1.8v1.8h-1.8zM582.3 330.1h1.8v1.8h-1.8zM582.6 326.5h1.8v1.8h-1.8zM582.6 329.9h1.8v1.8h-1.8zM582.7 327.6h1.8v1.8h-1.8zM582.9 331.4h1.8v1.8h-1.8zM583.3 327.0h1.8v1.8h-1.8zM583.0 331.3h1.8v1.8h-1.8zM583.4 329.1h1.8v1.8h-1.8zM583.4 328.5h1.8v1.8h-1.8zM583.3 327.8h1.8v1.8h-1.8zM583.7 327.3h1.8v1.8h-1.8zM583.9 329.5h1.8v1.8h-1.8zM583.9 327.8h1.8v1.8h-1.8zM584.1 328.1h1.8v1.8h-1.8zM584.3 327.4h1.8v1.8h-1.8zM584.0 329.2h1.8v1.8h-1.8zM584.5 329.9h1.8v1.8h-1.8zM584.4 330.0h1.8v1.8h-1.8zM584.6 330.4h1.8v1.8h-1.8zM584.7 329.3h1.8v1.8h-1.8zM585.0 329.9h1.8v1.8h-1.8zM584.8 330.3h1.8v1.8h-1.8zM585.2 329.7h1.8v1.8h-1.8zM585.1 327.1h1.8v1.8h-1.8zM585.1 329.3h1.8v1.8h-1.8zM585.5 327.6h1.8v1.8h-1.8zM585.6 328.5h1.8v1.8h-1.8zM585.4 330.0h1.8v1.8h-1.8zM585.8 327.5h1.8v1.8h-1.8zM586.0 329.6h1.8v1.8h-1.8zM586.0 329.4h1.8v1.8h-1.8zM586.3 327.9h1.8v1.8h-1.8zM586.1 327.7h1.8v1.8h-1.8zM586.3 327.5h1.8v1.8h-1.8zM586.8 329.9h1.8v1.8h-1.8zM586.5 330.3h1.8v1.8h-1.8zM586.7 328.0h1.8v1.8h-1.8zM586.8 329.4h1.8v1.8h-1.8zM587.0 326.6h1.8v1.8h-1.8zM587.1 327.1h1.8v1.8h-1.8zM587.2 328.7h1.8v1.8h-1.8zM587.3 327.0h1.8v1.8h-1.8zM587.3 328.9h1.8v1.8h-1.8zM587.7 329.0h1.8v1.8h-1.8zM587.5 326.9h1.8v1.8h-1.8zM587.6 328.3h1.8v1.8h-1.8zM587.9 329.7h1.8v1.8h-1.8zM588.0 327.9h1.8v1.8h-1.8zM588.1 329.9h1.8v1.8h-1.8zM588.5 328.6h1.8v1.8h-1.8zM588.4 330.9h1.8v1.8h-1.8zM588.3 326.9h1.8v1.8h-1.8zM588.5 327.7h1.8v1.8h-1.8zM588.8 331.2h1.8v1.8h-1.8zM588.7 327.0h1.8v1.8h-1.8zM588.9 327.8h1.8v1.8h-1.8zM589.1 330.0h1.8v1.8h-1.8zM588.9 328.5h1.8v1.8h-1.8zM589.6 326.8h1.8v1.8h-1.8zM589.3 326.6h1.8v1.8h-1.8zM589.3 330.1h1.8v1.8h-1.8zM589.6 326.7h1.8v1.8h-1.8zM589.9 328.9h1.8v1.8h-1.8zM589.6 327.2h1.8v1.8h-1.8zM590.0 328.4h1.8v1.8h-1.8zM590.0 326.9h1.8v1.8h-1.8zM590.0 331.1h1.8v1.8h-1.8zM590.6 329.9h1.8v1.8h-1.8zM590.4 330.7h1.8v1.8h-1.8zM590.5 331.0h1.8v1.8h-1.8zM590.9 328.6h1.8v1.8h-1.8zM590.7 329.9h1.8v1.8h-1.8zM591.0 327.3h1.8v1.8h-1.8zM591.1 330.3h1.8v1.8h-1.8zM591.1 327.5h1.8v1.8h-1.8zM591.3 328.6h1.8v1.8h-1.8zM591.4 330.5h1.8v1.8h-1.8zM591.6 327.1h1.8v1.8h-1.8zM591.4 328.0h1.8v1.8h-1.8zM592.0 330.3h1.8v1.8h-1.8zM591.7 329.1h1.8v1.8h-1.8zM591.9 330.0h1.8v1.8h-1.8zM592.1 330.9h1.8v1.8h-1.8zM592.3 330.4h1.8v1.8h-1.8zM592.2 327.6h1.8v1.8h-1.8zM592.5 328.0h1.8v1.8h-1.8zM592.5 326.8h1.8v1.8h-1.8zM592.5 330.7h1.8v1.8h-1.8zM593.0 330.6h1.8v1.8h-1.8zM593.0 327.5h1.8v1.8h-1.8zM593.1 330.2h1.8v1.8h-1.8zM593.4 329.9h1.8v1.8h-1.8zM593.3 327.5h1.8v1.8h-1.8zM593.4 328.1h1.8v1.8h-1.8zM593.5 328.9h1.8v1.8h-1.8zM593.5 330.3h1.8v1.8h-1.8zM593.7 330.4h1.8v1.8h-1.8zM594.1 326.9h1.8v1.8h-1.8zM594.0 329.9h1.8v1.8h-1.8zM593.8 329.4h1.8v1.8h-1.8zM594.3 328.9h1.8v1.8h-1.8zM594.4 327.9h1.8v1.8h-1.8zM594.4 330.0h1.8v1.8h-1.8zM594.6 327.9h1.8v1.8h-1.8zM594.6 326.7h1.8v1.8h-1.8zM594.8 326.4h1.8v1.8h-1.8zM594.8 326.6h1.8v1.8h-1.8zM594.9 329.8h1.8v1.8h-1.8zM595.0 328.5h1.8v1.8h-1.8zM595.3 330.9h1.8v1.8h-1.8zM595.5 329.3h1.8v1.8h-1.8zM595.5 328.5h1.8v1.8h-1.8zM595.8 327.7h1.8v1.8h-1.8zM595.6 329.0h1.8v1.8h-1.8zM595.8 329.1h1.8v1.8h-1.8zM596.0 328.5h1.8v1.8h-1.8zM596.1 330.5h1.8v1.8h-1.8zM596.0 327.2h1.8v1.8h-1.8zM596.5 330.8h1.8v1.8h-1.8zM596.5 326.8h1.8v1.8h-1.8zM596.4 326.4h1.8v1.8h-1.8zM596.7 329.7h1.8v1.8h-1.8zM596.8 326.6h1.8v1.8h-1.8zM596.9 330.2h1.8v1.8h-1.8zM597.2 327.3h1.8v1.8h-1.8zM597.0 330.1h1.8v1.8h-1.8zM597.3 330.5h1.8v1.8h-1.8zM597.5 328.0h1.8v1.8h-1.8zM597.3 330.7h1.8v1.8h-1.8zM597.4 327.6h1.8v1.8h-1.8zM597.8 327.1h1.8v1.8h-1.8zM597.9 328.6h1.8v1.8h-1.8zM598.0 326.8h1.8v1.8h-1.8zM598.3 328.9h1.8v1.8h-1.8zM598.3 327.0h1.8v1.8h-1.8zM598.6 329.8h1.8v1.8h-1.8zM598.6 327.9h1.8v1.8h-1.8zM598.3 327.1h1.8v1.8h-1.8zM599.0 330.5h1.8v1.8h-1.8zM598.9 330.8h1.8v1.8h-1.8zM598.9 330.7h1.8v1.8h-1.8zM599.3 329.2h1.8v1.8h-1.8zM599.2 328.2h1.8v1.8h-1.8zM599.1 327.4h1.8v1.8h-1.8zM599.5 328.6h1.8v1.8h-1.8zM599.4 326.6h1.8v1.8h-1.8zM599.6 327.8h1.8v1.8h-1.8zM599.8 327.3h1.8v1.8h-1.8zM599.8 328.6h1.8v1.8h-1.8zM600.0 329.0h1.8v1.8h-1.8zM600.3 328.9h1.8v1.8h-1.8zM600.3 329.7h1.8v1.8h-1.8zM600.2 329.5h1.8v1.8h-1.8zM600.4 330.6h1.8v1.8h-1.8zM600.6 330.7h1.8v1.8h-1.8zM600.4 326.5h1.8v1.8h-1.8zM600.8 329.4h1.8v1.8h-1.8zM601.0 328.3h1.8v1.8h-1.8zM600.9 330.9h1.8v1.8h-1.8zM601.2 327.3h1.8v1.8h-1.8zM601.3 326.9h1.8v1.8h-1.8zM601.2 329.1h1.8v1.8h-1.8zM601.5 327.1h1.8v1.8h-1.8zM601.6 327.0h1.8v1.8h-1.8zM601.5 328.5h1.8v1.8h-1.8zM602.2 328.2h1.8v1.8h-1.8zM602.2 328.4h1.8v1.8h-1.8zM601.9 328.3h1.8v1.8h-1.8zM602.2 326.8h1.8v1.8h-1.8zM602.4 326.4h1.8v1.8h-1.8zM602.3 330.7h1.8v1.8h-1.8zM602.6 328.1h1.8v1.8h-1.8zM602.7 329.4h1.8v1.8h-1.8zM602.8 326.8h1.8v1.8h-1.8zM603.2 326.1h1.8v1.8h-1.8zM603.0 329.6h1.8v1.8h-1.8zM603.2 329.1h1.8v1.8h-1.8zM603.3 328.1h1.8v1.8h-1.8zM603.5 328.7h1.8v1.8h-1.8zM603.6 329.6h1.8v1.8h-1.8zM603.9 327.8h1.8v1.8h-1.8zM603.8 329.8h1.8v1.8h-1.8zM603.7 329.3h1.8v1.8h-1.8zM604.1 328.7h1.8v1.8h-1.8zM604.0 326.9h1.8v1.8h-1.8zM604.2 330.3h1.8v1.8h-1.8zM604.4 327.6h1.8v1.8h-1.8zM604.4 328.4h1.8v1.8h-1.8zM604.4 330.3h1.8v1.8h-1.8zM604.8 330.5h1.8v1.8h-1.8zM604.7 328.3h1.8v1.8h-1.8zM604.8 327.9h1.8v1.8h-1.8zM605.1 327.2h1.8v1.8h-1.8zM605.1 327.9h1.8v1.8h-1.8zM605.2 330.4h1.8v1.8h-1.8zM605.6 327.6h1.8v1.8h-1.8zM605.6 326.8h1.8v1.8h-1.8zM605.4 326.1h1.8v1.8h-1.8zM605.7 329.9h1.8v1.8h-1.8zM605.7 327.1h1.8v1.8h-1.8zM605.9 327.2h1.8v1.8h-1.8zM606.4 330.3h1.8v1.8h-1.8zM606.3 328.6h1.8v1.8h-1.8zM606.3 326.4h1.8v1.8h-1.8zM606.6 326.9h1.8v1.8h-1.8zM606.5 330.1h1.8v1.8h-1.8zM606.7 326.4h1.8v1.8h-1.8zM607.1 328.8h1.8v1.8h-1.8zM606.7 326.1h1.8v1.8h-1.8zM606.7 326.5h1.8v1.8h-1.8zM607.1 329.0h1.8v1.8h-1.8zM607.1 326.7h1.8v1.8h-1.8zM607.3 328.9h1.8v1.8h-1.8zM607.8 327.7h1.8v1.8h-1.8zM607.6 328.0h1.8v1.8h-1.8zM608.1 327.0h1.8v1.8h-1.8zM608.0 330.7h1.8v1.8h-1.8zM607.8 326.8h1.8v1.8h-1.8zM608.4 327.6h1.8v1.8h-1.8zM608.3 326.2h1.8v1.8h-1.8zM608.1 329.2h1.8v1.8h-1.8zM608.7 329.7h1.8v1.8h-1.8zM608.8 328.1h1.8v1.8h-1.8zM608.6 328.8h1.8v1.8h-1.8zM609.1 330.4h1.8v1.8h-1.8zM609.0 330.3h1.8v1.8h-1.8zM608.9 326.6h1.8v1.8h-1.8zM609.2 329.2h1.8v1.8h-1.8zM609.5 329.7h1.8v1.8h-1.8zM609.2 328.4h1.8v1.8h-1.8zM609.8 327.9h1.8v1.8h-1.8zM609.8 328.6h1.8v1.8h-1.8zM609.9 327.9h1.8v1.8h-1.8zM610.1 330.3h1.8v1.8h-1.8zM610.0 327.4h1.8v1.8h-1.8zM610.5 330.2h1.8v1.8h-1.8zM610.5 329.7h1.8v1.8h-1.8zM610.5 330.6h1.8v1.8h-1.8zM610.7 329.5h1.8v1.8h-1.8zM610.6 328.8h1.8v1.8h-1.8zM610.7 330.0h1.8v1.8h-1.8zM611.0 330.3h1.8v1.8h-1.8zM611.2 330.3h1.8v1.8h-1.8zM611.2 326.6h1.8v1.8h-1.8zM611.5 330.2h1.8v1.8h-1.8zM611.6 327.9h1.8v1.8h-1.8zM611.5 326.3h1.8v1.8h-1.8zM611.7 327.2h1.8v1.8h-1.8zM611.8 330.0h1.8v1.8h-1.8zM611.7 329.3h1.8v1.8h-1.8zM612.0 329.0h1.8v1.8h-1.8zM612.2 328.2h1.8v1.8h-1.8zM612.2 326.9h1.8v1.8h-1.8zM612.6 327.6h1.8v1.8h-1.8zM612.7 330.4h1.8v1.8h-1.8zM612.5 327.9h1.8v1.8h-1.8zM612.8 329.5h1.8v1.8h-1.8zM612.8 330.0h1.8v1.8h-1.8zM612.8 330.4h1.8v1.8h-1.8zM613.1 329.4h1.8v1.8h-1.8zM613.0 329.1h1.8v1.8h-1.8zM613.2 330.6h1.8v1.8h-1.8zM613.6 326.4h1.8v1.8h-1.8zM613.5 327.6h1.8v1.8h-1.8zM613.4 329.7h1.8v1.8h-1.8zM614.0 326.2h1.8v1.8h-1.8zM613.7 330.1h1.8v1.8h-1.8zM613.9 328.0h1.8v1.8h-1.8zM614.2 329.3h1.8v1.8h-1.8zM614.1 330.3h1.8v1.8h-1.8zM614.4 326.5h1.8v1.8h-1.8zM614.6 326.7h1.8v1.8h-1.8zM614.5 327.4h1.8v1.8h-1.8zM614.6 330.3h1.8v1.8h-1.8zM615.1 327.0h1.8v1.8h-1.8zM615.1 326.8h1.8v1.8h-1.8zM615.1 328.7h1.8v1.8h-1.8zM615.3 328.8h1.8v1.8h-1.8zM615.3 329.9h1.8v1.8h-1.8zM615.4 326.2h1.8v1.8h-1.8zM615.7 329.0h1.8v1.8h-1.8zM615.6 326.9h1.8v1.8h-1.8zM615.8 329.7h1.8v1.8h-1.8zM616.1 326.5h1.8v1.8h-1.8zM616.0 328.4h1.8v1.8h-1.8zM615.9 326.6h1.8v1.8h-1.8zM616.3 328.1h1.8v1.8h-1.8zM616.4 327.5h1.8v1.8h-1.8zM616.4 329.4h1.8v1.8h-1.8zM616.7 330.0h1.8v1.8h-1.8zM616.9 330.4h1.8v1.8h-1.8zM616.7 326.4h1.8v1.8h-1.8zM617.1 327.6h1.8v1.8h-1.8zM616.9 327.2h1.8v1.8h-1.8zM617.3 326.3h1.8v1.8h-1.8zM617.4 328.8h1.8v1.8h-1.8zM617.5 330.3h1.8v1.8h-1.8zM617.8 330.3h1.8v1.8h-1.8zM617.9 328.3h1.8v1.8h-1.8zM617.7 328.9h1.8v1.8h-1.8zM618.3 327.2h1.8v1.8h-1.8zM618.3 326.9h1.8v1.8h-1.8zM617.9 326.0h1.8v1.8h-1.8zM618.5 326.7h1.8v1.8h-1.8zM618.6 326.3h1.8v1.8h-1.8zM618.5 328.9h1.8v1.8h-1.8zM618.9 330.5h1.8v1.8h-1.8zM618.6 329.1h1.8v1.8h-1.8zM618.8 325.9h1.8v1.8h-1.8zM619.2 327.2h1.8v1.8h-1.8zM619.1 325.7h1.8v1.8h-1.8zM619.6 328.5h1.8v1.8h-1.8zM619.4 325.8h1.8v1.8h-1.8zM619.6 326.6h1.8v1.8h-1.8zM619.8 330.2h1.8v1.8h-1.8zM619.9 329.9h1.8v1.8h-1.8zM620.0 327.2h1.8v1.8h-1.8zM620.0 329.0h1.8v1.8h-1.8zM620.4 329.7h1.8v1.8h-1.8zM620.3 326.2h1.8v1.8h-1.8zM620.5 326.4h1.8v1.8h-1.8zM620.7 328.8h1.8v1.8h-1.8zM620.7 330.4h1.8v1.8h-1.8zM620.8 328.8h1.8v1.8h-1.8zM620.9 329.1h1.8v1.8h-1.8zM621.0 327.4h1.8v1.8h-1.8zM621.1 326.3h1.8v1.8h-1.8zM621.3 326.4h1.8v1.8h-1.8zM621.1 329.5h1.8v1.8h-1.8zM621.6 328.4h1.8v1.8h-1.8zM621.6 327.6h1.8v1.8h-1.8zM621.4 325.7h1.8v1.8h-1.8zM622.0 326.8h1.8v1.8h-1.8zM622.1 326.8h1.8v1.8h-1.8zM621.8 326.8h1.8v1.8h-1.8zM622.2 327.5h1.8v1.8h-1.8zM622.2 329.3h1.8v1.8h-1.8zM622.4 328.9h1.8v1.8h-1.8zM622.8 328.0h1.8v1.8h-1.8zM622.5 328.5h1.8v1.8h-1.8zM622.5 326.0h1.8v1.8h-1.8zM623.1 326.0h1.8v1.8h-1.8zM622.9 327.7h1.8v1.8h-1.8zM623.2 328.1h1.8v1.8h-1.8zM623.3 326.4h1.8v1.8h-1.8zM623.5 327.2h1.8v1.8h-1.8zM623.3 329.0h1.8v1.8h-1.8zM623.6 325.8h1.8v1.8h-1.8zM623.8 329.7h1.8v1.8h-1.8zM623.7 326.4h1.8v1.8h-1.8zM624.0 328.0h1.8v1.8h-1.8zM624.1 326.1h1.8v1.8h-1.8zM624.1 329.0h1.8v1.8h-1.8zM624.4 328.8h1.8v1.8h-1.8zM624.3 328.8h1.8v1.8h-1.8zM624.2 329.9h1.8v1.8h-1.8zM624.6 327.5h1.8v1.8h-1.8zM624.8 326.0h1.8v1.8h-1.8zM624.7 330.4h1.8v1.8h-1.8zM625.0 328.8h1.8v1.8h-1.8zM625.2 327.5h1.8v1.8h-1.8zM625.0 327.6h1.8v1.8h-1.8zM625.6 328.2h1.8v1.8h-1.8zM625.3 330.0h1.8v1.8h-1.8zM625.4 328.0h1.8v1.8h-1.8zM625.8 328.8h1.8v1.8h-1.8zM625.7 329.4h1.8v1.8h-1.8zM625.9 330.0h1.8v1.8h-1.8zM626.1 326.2h1.8v1.8h-1.8zM626.2 326.2h1.8v1.8h-1.8zM626.2 328.9h1.8v1.8h-1.8zM626.6 325.8h1.8v1.8h-1.8zM626.4 329.4h1.8v1.8h-1.8zM626.9 325.8h1.8v1.8h-1.8zM626.8 329.0h1.8v1.8h-1.8zM626.8 328.9h1.8v1.8h-1.8zM627.4 326.9h1.8v1.8h-1.8zM627.0 327.6h1.8v1.8h-1.8zM627.3 326.0h1.8v1.8h-1.8zM627.4 328.6h1.8v1.8h-1.8zM627.6 329.7h1.8v1.8h-1.8zM627.5 326.1h1.8v1.8h-1.8zM627.7 325.5h1.8v1.8h-1.8zM628.0 327.2h1.8v1.8h-1.8zM627.8 330.3h1.8v1.8h-1.8zM628.4 329.3h1.8v1.8h-1.8zM628.4 328.3h1.8v1.8h-1.8zM628.4 328.6h1.8v1.8h-1.8zM628.6 326.5h1.8v1.8h-1.8zM628.5 327.8h1.8v1.8h-1.8zM628.6 327.3h1.8v1.8h-1.8zM628.9 326.6h1.8v1.8h-1.8zM629.0 327.9h1.8v1.8h-1.8zM629.0 327.5h1.8v1.8h-1.8zM629.2 328.0h1.8v1.8h-1.8zM629.4 329.2h1.8v1.8h-1.8zM629.3 329.2h1.8v1.8h-1.8zM629.7 329.9h1.8v1.8h-1.8zM629.6 327.3h1.8v1.8h-1.8zM629.7 327.4h1.8v1.8h-1.8zM630.1 327.8h1.8v1.8h-1.8zM630.0 326.5h1.8v1.8h-1.8zM629.9 327.2h1.8v1.8h-1.8zM630.4 329.1h1.8v1.8h-1.8zM630.3 326.5h1.8v1.8h-1.8zM630.4 329.2h1.8v1.8h-1.8zM630.8 328.5h1.8v1.8h-1.8zM630.5 326.8h1.8v1.8h-1.8zM630.5 327.2h1.8v1.8h-1.8zM631.1 328.0h1.8v1.8h-1.8zM631.2 330.1h1.8v1.8h-1.8zM631.3 327.1h1.8v1.8h-1.8zM631.5 329.3h1.8v1.8h-1.8zM631.4 327.8h1.8v1.8h-1.8zM631.8 327.8h1.8v1.8h-1.8zM631.9 329.7h1.8v1.8h-1.8zM631.7 329.6h1.8v1.8h-1.8zM632.3 326.9h1.8v1.8h-1.8zM632.0 326.3h1.8v1.8h-1.8zM632.2 326.8h1.8v1.8h-1.8zM632.6 327.0h1.8v1.8h-1.8zM632.4 329.7h1.8v1.8h-1.8zM632.5 326.4h1.8v1.8h-1.8zM632.9 326.0h1.8v1.8h-1.8zM632.8 327.5h1.8v1.8h-1.8zM632.7 328.3h1.8v1.8h-1.8zM633.1 327.3h1.8v1.8h-1.8zM633.1 325.5h1.8v1.8h-1.8zM633.1 329.1h1.8v1.8h-1.8zM633.4 328.4h1.8v1.8h-1.8zM633.6 325.5h1.8v1.8h-1.8zM633.4 328.3h1.8v1.8h-1.8zM634.0 329.5h1.8v1.8h-1.8zM633.9 326.5h1.8v1.8h-1.8zM633.8 328.2h1.8v1.8h-1.8zM634.3 327.0h1.8v1.8h-1.8zM634.2 328.3h1.8v1.8h-1.8zM634.1 326.0h1.8v1.8h-1.8zM634.5 327.4h1.8v1.8h-1.8zM634.4 329.7h1.8v1.8h-1.8zM634.5 330.1h1.8v1.8h-1.8zM634.9 326.6h1.8v1.8h-1.8zM634.7 327.2h1.8v1.8h-1.8zM635.0 329.2h1.8v1.8h-1.8zM635.2 329.1h1.8v1.8h-1.8zM635.1 330.1h1.8v1.8h-1.8zM635.2 327.2h1.8v1.8h-1.8zM635.7 329.1h1.8v1.8h-1.8zM635.6 328.0h1.8v1.8h-1.8zM635.5 329.2h1.8v1.8h-1.8zM635.9 329.0h1.8v1.8h-1.8zM635.8 330.1h1.8v1.8h-1.8zM635.8 327.6h1.8v1.8h-1.8zM636.2 325.8h1.8v1.8h-1.8zM636.3 327.1h1.8v1.8h-1.8zM636.2 327.8h1.8v1.8h-1.8zM636.8 327.8h1.8v1.8h-1.8zM636.7 326.2h1.8v1.8h-1.8zM636.6 327.7h1.8v1.8h-1.8zM637.1 326.3h1.8v1.8h-1.8zM636.9 327.1h1.8v1.8h-1.8zM637.0 328.3h1.8v1.8h-1.8zM637.5 325.7h1.8v1.8h-1.8zM637.2 327.1h1.8v1.8h-1.8zM637.4 328.5h1.8v1.8h-1.8zM637.8 326.9h1.8v1.8h-1.8zM637.7 327.0h1.8v1.8h-1.8zM637.7 329.9h1.8v1.8h-1.8zM638.1 326.1h1.8v1.8h-1.8zM638.0 328.5h1.8v1.8h-1.8zM638.0 327.3h1.8v1.8h-1.8zM638.5 327.5h1.8v1.8h-1.8zM638.5 327.1h1.8v1.8h-1.8zM638.3 325.5h1.8v1.8h-1.8zM638.8 328.6h1.8v1.8h-1.8zM638.7 327.7h1.8v1.8h-1.8zM639.2 326.1h1.8v1.8h-1.8zM639.0 328.6h1.8v1.8h-1.8zM639.0 328.4h1.8v1.8h-1.8zM639.5 326.1h1.8v1.8h-1.8zM639.5 326.8h1.8v1.8h-1.8zM639.4 325.9h1.8v1.8h-1.8zM639.7 325.9h1.8v1.8h-1.8zM639.8 328.5h1.8v1.8h-1.8zM639.9 328.2h1.8v1.8h-1.8zM640.1 326.3h1.8v1.8h-1.8zM640.2 329.3h1.8v1.8h-1.8zM640.1 328.9h1.8v1.8h-1.8zM640.6 329.9h1.8v1.8h-1.8zM640.4 328.4h1.8v1.8h-1.8zM640.3 328.2h1.8v1.8h-1.8zM640.9 329.9h1.8v1.8h-1.8zM641.0 326.5h1.8v1.8h-1.8zM641.0 326.1h1.8v1.8h-1.8zM641.3 325.3h1.8v1.8h-1.8zM641.3 327.4h1.8v1.8h-1.8zM641.2 328.6h1.8v1.8h-1.8zM641.7 326.2h1.8v1.8h-1.8zM641.4 326.9h1.8v1.8h-1.8zM641.4 326.9h1.8v1.8h-1.8zM641.8 328.2h1.8v1.8h-1.8zM641.8 326.0h1.8v1.8h-1.8zM642.0 326.6h1.8v1.8h-1.8zM642.4 329.4h1.8v1.8h-1.8zM642.4 327.3h1.8v1.8h-1.8zM642.4 326.6h1.8v1.8h-1.8zM642.5 328.7h1.8v1.8h-1.8zM642.7 325.7h1.8v1.8h-1.8zM642.6 327.9h1.8v1.8h-1.8zM643.0 325.9h1.8v1.8h-1.8zM643.1 327.5h1.8v1.8h-1.8zM642.8 327.4h1.8v1.8h-1.8zM643.4 326.6h1.8v1.8h-1.8zM643.2 329.2h1.8v1.8h-1.8zM643.6 327.1h1.8v1.8h-1.8zM643.8 326.3h1.8v1.8h-1.8zM643.7 327.0h1.8v1.8h-1.8zM644.1 325.3h1.8v1.8h-1.8zM644.1 328.8h1.8v1.8h-1.8zM643.9 326.9h1.8v1.8h-1.8zM644.4 328.7h1.8v1.8h-1.8zM644.4 327.1h1.8v1.8h-1.8zM644.5 325.9h1.8v1.8h-1.8zM644.8 327.6h1.8v1.8h-1.8zM644.8 326.1h1.8v1.8h-1.8zM644.8 326.9h1.8v1.8h-1.8zM645.1 326.5h1.8v1.8h-1.8zM645.0 327.5h1.8v1.8h-1.8zM645.0 328.0h1.8v1.8h-1.8zM645.5 325.2h1.8v1.8h-1.8zM645.5 326.4h1.8v1.8h-1.8zM645.4 327.8h1.8v1.8h-1.8zM645.8 325.8h1.8v1.8h-1.8zM645.9 326.6h1.8v1.8h-1.8zM645.8 328.9h1.8v1.8h-1.8zM646.2 327.3h1.8v1.8h-1.8zM646.0 329.7h1.8v1.8h-1.8zM646.1 325.6h1.8v1.8h-1.8zM646.4 325.9h1.8v1.8h-1.8zM646.4 329.3h1.8v1.8h-1.8zM646.3 325.9h1.8v1.8h-1.8zM646.8 326.1h1.8v1.8h-1.8zM646.8 327.7h1.8v1.8h-1.8zM646.9 327.6h1.8v1.8h-1.8zM647.0 329.6h1.8v1.8h-1.8zM647.2 325.3h1.8v1.8h-1.8zM647.2 327.9h1.8v1.8h-1.8zM647.4 328.9h1.8v1.8h-1.8zM647.4 328.6h1.8v1.8h-1.8zM647.6 327.9h1.8v1.8h-1.8zM647.7 327.4h1.8v1.8h-1.8zM647.9 328.2h1.8v1.8h-1.8zM647.9 325.9h1.8v1.8h-1.8zM648.3 325.6h1.8v1.8h-1.8zM648.0 329.3h1.8v1.8h-1.8zM648.1 326.3h1.8v1.8h-1.8zM648.5 325.5h1.8v1.8h-1.8zM648.5 326.3h1.8v1.8h-1.8zM648.5 327.3h1.8v1.8h-1.8zM648.8 328.6h1.8v1.8h-1.8zM648.7 326.2h1.8v1.8h-1.8zM648.8 326.7h1.8v1.8h-1.8zM649.4 328.8h1.8v1.8h-1.8zM649.1 326.1h1.8v1.8h-1.8zM649.2 328.7h1.8v1.8h-1.8zM649.5 326.9h1.8v1.8h-1.8zM649.8 325.3h1.8v1.8h-1.8zM649.6 327.5h1.8v1.8h-1.8zM650.1 328.6h1.8v1.8h-1.8zM649.8 327.2h1.8v1.8h-1.8zM650.1 326.9h1.8v1.8h-1.8zM650.3 328.0h1.8v1.8h-1.8zM650.3 327.1h1.8v1.8h-1.8zM650.3 326.0h1.8v1.8h-1.8zM650.6 325.2h1.8v1.8h-1.8zM650.8 329.0h1.8v1.8h-1.8zM650.7 324.9h1.8v1.8h-1.8zM651.0 328.8h1.8v1.8h-1.8zM650.9 325.3h1.8v1.8h-1.8zM651.1 328.1h1.8v1.8h-1.8zM651.4 327.7h1.8v1.8h-1.8zM651.2 327.8h1.8v1.8h-1.8zM651.3 326.8h1.8v1.8h-1.8zM651.6 326.2h1.8v1.8h-1.8zM651.6 327.8h1.8v1.8h-1.8zM651.6 328.4h1.8v1.8h-1.8zM651.9 328.4h1.8v1.8h-1.8zM651.9 328.0h1.8v1.8h-1.8zM651.9 329.0h1.8v1.8h-1.8zM652.3 326.2h1.8v1.8h-1.8zM652.4 326.3h1.8v1.8h-1.8zM652.3 326.4h1.8v1.8h-1.8zM652.9 325.8h1.8v1.8h-1.8zM652.7 326.2h1.8v1.8h-1.8zM652.9 325.5h1.8v1.8h-1.8zM653.2 327.4h1.8v1.8h-1.8zM653.2 326.2h1.8v1.8h-1.8zM653.0 325.6h1.8v1.8h-1.8zM653.6 326.4h1.8v1.8h-1.8zM653.4 325.2h1.8v1.8h-1.8zM653.4 327.9h1.8v1.8h-1.8zM653.8 326.7h1.8v1.8h-1.8zM653.9 328.7h1.8v1.8h-1.8zM653.8 325.3h1.8v1.8h-1.8zM654.1 324.3h1.8v1.8h-1.8zM654.1 328.5h1.8v1.8h-1.8zM654.2 326.9h1.8v1.8h-1.8zM654.4 328.5h1.8v1.8h-1.8zM654.6 325.5h1.8v1.8h-1.8zM654.5 324.1h1.8v1.8h-1.8zM654.7 326.2h1.8v1.8h-1.8zM654.8 324.7h1.8v1.8h-1.8zM654.7 324.3h1.8v1.8h-1.8zM655.1 326.4h1.8v1.8h-1.8zM655.2 327.8h1.8v1.8h-1.8zM655.1 325.1h1.8v1.8h-1.8zM655.6 324.0h1.8v1.8h-1.8zM655.7 324.3h1.8v1.8h-1.8zM655.6 325.8h1.8v1.8h-1.8zM655.7 324.2h1.8v1.8h-1.8zM655.9 327.1h1.8v1.8h-1.8zM655.8 327.2h1.8v1.8h-1.8zM656.2 324.6h1.8v1.8h-1.8zM656.3 325.0h1.8v1.8h-1.8zM656.2 325.1h1.8v1.8h-1.8zM656.7 324.1h1.8v1.8h-1.8zM656.5 326.0h1.8v1.8h-1.8zM656.6 324.2h1.8v1.8h-1.8zM656.9 327.1h1.8v1.8h-1.8zM657.1 325.6h1.8v1.8h-1.8zM657.1 324.9h1.8v1.8h-1.8zM657.5 328.4h1.8v1.8h-1.8zM657.4 324.8h1.8v1.8h-1.8zM657.2 326.5h1.8v1.8h-1.8zM657.8 326.7h1.8v1.8h-1.8zM657.5 326.3h1.8v1.8h-1.8zM657.9 324.4h1.8v1.8h-1.8zM657.9 326.5h1.8v1.8h-1.8zM658.1 325.8h1.8v1.8h-1.8zM658.2 326.7h1.8v1.8h-1.8zM658.4 325.8h1.8v1.8h-1.8zM658.2 326.8h1.8v1.8h-1.8zM658.7 328.1h1.8v1.8h-1.8zM658.7 325.5h1.8v1.8h-1.8zM658.8 326.8h1.8v1.8h-1.8zM659.1 325.4h1.8v1.8h-1.8zM658.9 325.9h1.8v1.8h-1.8zM659.2 328.0h1.8v1.8h-1.8zM659.4 328.2h1.8v1.8h-1.8zM659.3 327.5h1.8v1.8h-1.8zM659.5 327.0h1.8v1.8h-1.8zM659.9 327.4h1.8v1.8h-1.8zM659.9 324.7h1.8v1.8h-1.8zM659.7 325.7h1.8v1.8h-1.8zM660.2 327.2h1.8v1.8h-1.8zM660.2 327.5h1.8v1.8h-1.8zM660.0 324.2h1.8v1.8h-1.8zM660.4 324.4h1.8v1.8h-1.8zM660.3 323.9h1.8v1.8h-1.8zM660.4 326.8h1.8v1.8h-1.8zM660.9 324.9h1.8v1.8h-1.8zM660.7 324.8h1.8v1.8h-1.8zM660.6 325.2h1.8v1.8h-1.8zM661.0 325.1h1.8v1.8h-1.8zM661.1 327.5h1.8v1.8h-1.8zM661.3 323.3h1.8v1.8h-1.8zM661.3 324.5h1.8v1.8h-1.8zM661.6 323.8h1.8v1.8h-1.8zM661.5 326.1h1.8v1.8h-1.8zM662.0 324.6h1.8v1.8h-1.8zM662.0 325.1h1.8v1.8h-1.8zM661.7 327.5h1.8v1.8h-1.8zM662.3 323.3h1.8v1.8h-1.8zM662.3 327.1h1.8v1.8h-1.8zM662.3 325.9h1.8v1.8h-1.8zM662.5 325.8h1.8v1.8h-1.8zM662.4 325.1h1.8v1.8h-1.8zM662.6 326.6h1.8v1.8h-1.8zM662.9 326.2h1.8v1.8h-1.8zM663.0 327.6h1.8v1.8h-1.8zM662.8 325.9h1.8v1.8h-1.8zM663.1 324.9h1.8v1.8h-1.8zM663.3 324.8h1.8v1.8h-1.8zM663.3 327.6h1.8v1.8h-1.8zM663.7 327.6h1.8v1.8h-1.8zM663.6 325.3h1.8v1.8h-1.8zM663.5 326.8h1.8v1.8h-1.8zM664.1 326.1h1.8v1.8h-1.8zM664.0 324.3h1.8v1.8h-1.8zM663.8 327.4h1.8v1.8h-1.8zM664.2 325.4h1.8v1.8h-1.8zM664.5 327.6h1.8v1.8h-1.8zM664.4 325.2h1.8v1.8h-1.8zM664.8 323.9h1.8v1.8h-1.8zM664.5 323.9h1.8v1.8h-1.8zM664.5 325.2h1.8v1.8h-1.8zM665.2 325.0h1.8v1.8h-1.8zM665.1 325.0h1.8v1.8h-1.8zM665.0 326.8h1.8v1.8h-1.8zM665.3 324.5h1.8v1.8h-1.8zM665.4 324.9h1.8v1.8h-1.8zM665.3 325.4h1.8v1.8h-1.8zM665.6 327.8h1.8v1.8h-1.8zM665.5 324.6h1.8v1.8h-1.8zM665.5 323.4h1.8v1.8h-1.8zM666.1 327.0h1.8v1.8h-1.8zM666.2 327.6h1.8v1.8h-1.8zM666.1 325.8h1.8v1.8h-1.8zM666.3 324.8h1.8v1.8h-1.8zM666.2 325.9h1.8v1.8h-1.8zM666.4 325.5h1.8v1.8h-1.8zM666.6 324.8h1.8v1.8h-1.8zM666.9 326.4h1.8v1.8h-1.8zM666.6 325.8h1.8v1.8h-1.8zM667.3 327.0h1.8v1.8h-1.8zM666.9 326.5h1.8v1.8h-1.8zM667.2 327.1h1.8v1.8h-1.8zM667.6 327.3h1.8v1.8h-1.8zM667.4 327.1h1.8v1.8h-1.8zM667.4 325.6h1.8v1.8h-1.8zM667.8 326.5h1.8v1.8h-1.8zM667.8 324.4h1.8v1.8h-1.8zM667.8 327.3h1.8v1.8h-1.8zM668.3 325.5h1.8v1.8h-1.8zM668.1 322.9h1.8v1.8h-1.8zM668.2 325.4h1.8v1.8h-1.8zM668.5 325.8h1.8v1.8h-1.8zM668.5 325.8h1.8v1.8h-1.8zM668.7 327.3h1.8v1.8h-1.8zM669.0 324.3h1.8v1.8h-1.8zM669.0 323.0h1.8v1.8h-1.8zM669.3 325.8h1.8v1.8h-1.8zM669.2 323.8h1.8v1.8h-1.8zM669.3 323.8h1.8v1.8h-1.8zM669.5 325.6h1.8v1.8h-1.8zM669.7 325.5h1.8v1.8h-1.8zM669.7 326.4h1.8v1.8h-1.8zM669.9 325.1h1.8v1.8h-1.8zM670.0 324.3h1.8v1.8h-1.8zM669.9 323.5h1.8v1.8h-1.8zM670.1 327.1h1.8v1.8h-1.8zM670.2 323.9h1.8v1.8h-1.8zM670.1 327.1h1.8v1.8h-1.8zM670.6 324.5h1.8v1.8h-1.8zM670.4 327.1h1.8v1.8h-1.8zM670.5 324.2h1.8v1.8h-1.8zM671.0 324.0h1.8v1.8h-1.8zM670.8 325.4h1.8v1.8h-1.8zM671.0 326.4h1.8v1.8h-1.8zM671.4 326.5h1.8v1.8h-1.8zM671.5 323.6h1.8v1.8h-1.8zM671.2 326.4h1.8v1.8h-1.8zM671.8 326.7h1.8v1.8h-1.8zM671.7 323.0h1.8v1.8h-1.8zM671.7 326.2h1.8v1.8h-1.8zM671.9 327.2h1.8v1.8h-1.8zM672.1 326.5h1.8v1.8h-1.8zM672.1 324.0h1.8v1.8h-1.8z" fill="#fd9310"/>
<path d="M411.2 408.6h1.7v1.7h-1.7zM411.1 405.6h1.7v1.7h-1.7zM411.6 405.6h1.7v1.7h-1.7zM411.4 409.6h1.7v1.7h-1.7zM411.6 409.2h1.7v1.7h-1.7zM411.8 409.8h1.7v1.7h-1.7zM412.0 406.9h1.7v1.7h-1.7zM412.0 410.6h1.7v1.7h-1.7zM412.2 408.0h1.7v1.7h-1.7zM412.5 409.0h1.7v1.7h-1.7zM412.7 408.3h1.7v1.7h-1.7zM412.7 408.4h1.7v1.7h-1.7zM413.0 410.0h1.7v1.7h-1.7zM412.9 413.5h1.7v1.7h-1.7zM413.2 409.6h1.7v1.7h-1.7zM413.3 410.8h1.7v1.7h-1.7zM413.6 414.6h1.7v1.7h-1.7zM413.4 414.1h1.7v1.7h-1.7zM413.8 412.6h1.7v1.7h-1.7zM413.8 415.1h1.7v1.7h-1.7zM414.3 413.3h1.7v1.7h-1.7zM414.1 415.4h1.7v1.7h-1.7zM414.6 417.8h1.7v1.7h-1.7zM414.5 415.0h1.7v1.7h-1.7zM414.7 414.7h1.7v1.7h-1.7zM414.8 413.8h1.7v1.7h-1.7zM415.0 414.8h1.7v1.7h-1.7zM415.0 419.8h1.7v1.7h-1.7zM415.5 419.6h1.7v1.7h-1.7zM415.2 416.8h1.7v1.7h-1.7zM415.8 419.6h1.7v1.7h-1.7zM415.6 419.1h1.7v1.7h-1.7zM415.9 417.5h1.7v1.7h-1.7zM416.1 418.6h1.7v1.7h-1.7zM416.2 422.0h1.7v1.7h-1.7zM416.1 422.2h1.7v1.7h-1.7zM416.7 420.8h1.7v1.7h-1.7zM416.7 419.4h1.7v1.7h-1.7zM416.9 422.7h1.7v1.7h-1.7zM416.9 419.8h1.7v1.7h-1.7zM416.9 418.8h1.7v1.7h-1.7zM417.1 420.6h1.7v1.7h-1.7zM417.2 423.0h1.7v1.7h-1.7zM417.4 424.7h1.7v1.7h-1.7zM417.4 421.0h1.7v1.7h-1.7zM417.6 422.2h1.7v1.7h-1.7zM417.7 423.2h1.7v1.7h-1.7zM417.6 419.9h1.7v1.7h-1.7zM418.0 423.5h1.7v1.7h-1.7zM418.0 426.0h1.7v1.7h-1.7zM418.3 423.0h1.7v1.7h-1.7zM418.4 426.3h1.7v1.7h-1.7zM418.6 423.7h1.7v1.7h-1.7zM418.6 423.0h1.7v1.7h-1.7zM419.0 427.8h1.7v1.7h-1.7zM418.8 422.9h1.7v1.7h-1.7zM419.3 424.4h1.7v1.7h-1.7zM419.2 427.9h1.7v1.7h-1.7zM419.2 427.2h1.7v1.7h-1.7zM419.4 426.2h1.7v1.7h-1.7zM419.6 423.1h1.7v1.7h-1.7zM420.0 425.8h1.7v1.7h-1.7zM419.8 428.6h1.7v1.7h-1.7zM420.2 427.5h1.7v1.7h-1.7zM420.0 425.3h1.7v1.7h-1.7zM420.0 427.1h1.7v1.7h-1.7zM420.4 428.6h1.7v1.7h-1.7zM420.4 427.4h1.7v1.7h-1.7zM420.8 426.2h1.7v1.7h-1.7zM420.8 428.0h1.7v1.7h-1.7zM420.8 427.3h1.7v1.7h-1.7zM421.0 430.0h1.7v1.7h-1.7zM421.0 429.4h1.7v1.7h-1.7zM421.4 430.7h1.7v1.7h-1.7zM421.2 430.5h1.7v1.7h-1.7zM421.8 428.3h1.7v1.7h-1.7zM421.6 426.9h1.7v1.7h-1.7zM421.7 432.6h1.7v1.7h-1.7zM421.9 429.4h1.7v1.7h-1.7zM421.9 432.1h1.7v1.7h-1.7zM422.3 430.3h1.7v1.7h-1.7zM422.3 431.8h1.7v1.7h-1.7zM422.7 431.1h1.7v1.7h-1.7zM422.7 428.6h1.7v1.7h-1.7zM422.8 432.9h1.7v1.7h-1.7zM422.8 434.4h1.7v1.7h-1.7zM422.9 430.5h1.7v1.7h-1.7zM423.1 434.9h1.7v1.7h-1.7zM423.2 430.0h1.7v1.7h-1.7zM423.3 433.6h1.7v1.7h-1.7zM423.5 432.1h1.7v1.7h-1.7zM423.5 435.6h1.7v1.7h-1.7zM423.8 436.0h1.7v1.7h-1.7zM423.8 432.3h1.7v1.7h-1.7zM423.8 435.0h1.7v1.7h-1.7zM424.0 433.6h1.7v1.7h-1.7zM424.0 432.1h1.7v1.7h-1.7zM424.1 436.6h1.7v1.7h-1.7zM424.2 437.0h1.7v1.7h-1.7zM424.2 437.1h1.7v1.7h-1.7zM424.3 432.5h1.7v1.7h-1.7zM424.8 434.1h1.7v1.7h-1.7zM424.6 438.8h1.7v1.7h-1.7zM424.7 437.5h1.7v1.7h-1.7zM425.1 434.3h1.7v1.7h-1.7zM424.8 439.3h1.7v1.7h-1.7zM424.9 434.8h1.7v1.7h-1.7zM425.4 435.9h1.7v1.7h-1.7zM425.4 433.0h1.7v1.7h-1.7zM425.1 435.0h1.7v1.7h-1.7zM425.5 435.1h1.7v1.7h-1.7zM425.5 433.9h1.7v1.7h-1.7zM425.8 434.7h1.7v1.7h-1.7zM425.8 437.6h1.7v1.7h-1.7zM425.9 435.6h1.7v1.7h-1.7zM426.1 439.0h1.7v1.7h-1.7zM426.2 440.4h1.7v1.7h-1.7zM426.4 437.5h1.7v1.7h-1.7zM426.6 435.0h1.7v1.7h-1.7zM426.3 438.5h1.7v1.7h-1.7zM426.6 440.9h1.7v1.7h-1.7zM426.7 439.5h1.7v1.7h-1.7zM427.0 440.9h1.7v1.7h-1.7zM427.1 438.4h1.7v1.7h-1.7zM427.1 436.1h1.7v1.7h-1.7zM427.3 442.4h1.7v1.7h-1.7zM427.2 440.3h1.7v1.7h-1.7zM427.2 437.0h1.7v1.7h-1.7zM427.6 439.3h1.7v1.7h-1.7zM427.5 441.3h1.7v1.7h-1.7zM427.8 440.0h1.7v1.7h-1.7zM428.0 437.2h1.7v1.7h-1.7zM428.1 439.2h1.7v1.7h-1.7zM427.9 438.1h1.7v1.7h-1.7zM428.4 438.5h1.7v1.7h-1.7zM428.2 442.7h1.7v1.7h-1.7zM428.4 443.5h1.7v1.7h-1.7zM428.6 442.8h1.7v1.7h-1.7zM428.6 442.0h1.7v1.7h-1.7zM428.7 444.0h1.7v1.7h-1.7zM428.9 442.6h1.7v1.7h-1.7zM428.9 439.0h1.7v1.7h-1.7zM429.0 442.7h1.7v1.7h-1.7zM429.1 444.1h1.7v1.7h-1.7zM429.1 443.1h1.7v1.7h-1.7zM429.5 439.5h1.7v1.7h-1.7zM429.4 437.3h1.7v1.7h-1.7zM429.6 437.7h1.7v1.7h-1.7zM429.9 440.8h1.7v1.7h-1.7zM429.9 444.9h1.7v1.7h-1.7zM429.8 438.1h1.7v1.7h-1.7zM429.9 442.6h1.7v1.7h-1.7zM430.0 445.1h1.7v1.7h-1.7zM430.1 442.5h1.7v1.7h-1.7zM430.5 438.3h1.7v1.7h-1.7zM430.2 440.2h1.7v1.7h-1.7zM430.5 439.1h1.7v1.7h-1.7zM430.5 440.1h1.7v1.7h-1.7zM430.7 445.6h1.7v1.7h-1.7zM430.5 443.1h1.7v1.7h-1.7zM430.8 446.4h1.7v1.7h-1.7zM430.8 442.1h1.7v1.7h-1.7zM430.8 446.8h1.7v1.7h-1.7zM431.3 445.9h1.7v1.7h-1.7zM431.3 439.3h1.7v1.7h-1.7zM431.4 443.3h1.7v1.7h-1.7zM431.6 443.5h1.7v1.7h-1.7zM431.7 440.4h1.7v1.7h-1.7zM431.8 441.8h1.7v1.7h-1.7zM431.9 443.4h1.7v1.7h-1.7zM432.0 444.3h1.7v1.7h-1.7zM432.3 444.2h1.7v1.7h-1.7zM432.0 441.7h1.7v1.7h-1.7zM432.1 442.6h1.7v1.7h-1.7zM432.3 443.7h1.7v1.7h-1.7zM432.4 447.9h1.7v1.7h-1.7zM432.5 447.6h1.7v1.7h-1.7zM432.7 446.9h1.7v1.7h-1.7zM432.7 446.7h1.7v1.7h-1.7zM432.8 445.2h1.7v1.7h-1.7zM433.0 442.3h1.7v1.7h-1.7zM433.1 447.8h1.7v1.7h-1.7zM432.9 449.1h1.7v1.7h-1.7zM433.4 442.0h1.7v1.7h-1.7zM433.4 447.5h1.7v1.7h-1.7zM433.4 447.8h1.7v1.7h-1.7zM433.7 449.4h1.7v1.7h-1.7zM433.7 447.1h1.7v1.7h-1.7zM433.7 445.7h1.7v1.7h-1.7zM433.9 442.9h1.7v1.7h-1.7zM433.9 445.4h1.7v1.7h-1.7zM433.9 446.6h1.7v1.7h-1.7zM434.2 445.8h1.7v1.7h-1.7zM434.1 450.5h1.7v1.7h-1.7zM434.3 442.2h1.7v1.7h-1.7zM434.6 446.3h1.7v1.7h-1.7zM434.5 445.6h1.7v1.7h-1.7zM434.7 442.5h1.7v1.7h-1.7zM434.8 445.2h1.7v1.7h-1.7zM434.7 445.5h1.7v1.7h-1.7zM435.0 450.5h1.7v1.7h-1.7zM435.2 445.2h1.7v1.7h-1.7zM435.1 450.0h1.7v1.7h-1.7zM435.1 446.4h1.7v1.7h-1.7zM435.6 451.0h1.7v1.7h-1.7zM435.5 444.3h1.7v1.7h-1.7zM435.5 452.1h1.7v1.7h-1.7zM435.6 444.9h1.7v1.7h-1.7zM435.6 450.2h1.7v1.7h-1.7zM435.8 450.9h1.7v1.7h-1.7zM436.2 452.0h1.7v1.7h-1.7zM435.9 449.5h1.7v1.7h-1.7zM436.0 449.2h1.7v1.7h-1.7zM436.4 452.6h1.7v1.7h-1.7zM436.3 445.3h1.7v1.7h-1.7zM436.4 447.3h1.7v1.7h-1.7zM436.3 447.2h1.7v1.7h-1.7zM436.7 446.2h1.7v1.7h-1.7zM436.8 447.5h1.7v1.7h-1.7zM436.6 453.2h1.7v1.7h-1.7zM436.9 445.9h1.7v1.7h-1.7zM437.0 450.6h1.7v1.7h-1.7zM436.8 448.0h1.7v1.7h-1.7zM437.2 450.3h1.7v1.7h-1.7zM437.3 447.9h1.7v1.7h-1.7zM437.3 453.4h1.7v1.7h-1.7zM437.3 447.4h1.7v1.7h-1.7zM437.4 452.5h1.7v1.7h-1.7zM437.5 447.7h1.7v1.7h-1.7zM437.4 453.6h1.7v1.7h-1.7zM437.4 447.0h1.7v1.7h-1.7zM437.8 448.5h1.7v1.7h-1.7zM437.8 452.4h1.7v1.7h-1.7zM437.8 449.8h1.7v1.7h-1.7zM438.0 452.6h1.7v1.7h-1.7zM438.1 454.1h1.7v1.7h-1.7zM438.2 454.6h1.7v1.7h-1.7zM438.1 451.9h1.7v1.7h-1.7zM438.6 446.9h1.7v1.7h-1.7zM438.5 449.0h1.7v1.7h-1.7zM438.5 450.0h1.7v1.7h-1.7zM438.4 447.6h1.7v1.7h-1.7zM438.8 452.2h1.7v1.7h-1.7zM438.8 445.8h1.7v1.7h-1.7zM438.6 449.9h1.7v1.7h-1.7zM438.7 448.2h1.7v1.7h-1.7zM439.0 451.1h1.7v1.7h-1.7zM439.0 448.3h1.7v1.7h-1.7zM439.0 448.6h1.7v1.7h-1.7zM439.2 453.5h1.7v1.7h-1.7zM439.2 454.4h1.7v1.7h-1.7zM439.0 447.1h1.7v1.7h-1.7zM439.6 448.6h1.7v1.7h-1.7zM439.6 454.0h1.7v1.7h-1.7zM439.4 450.3h1.7v1.7h-1.7zM439.9 453.6h1.7v1.7h-1.7zM440.1 446.8h1.7v1.7h-1.7zM440.1 448.8h1.7v1.7h-1.7zM440.3 452.8h1.7v1.7h-1.7zM440.3 455.1h1.7v1.7h-1.7zM440.2 447.5h1.7v1.7h-1.7zM440.8 456.2h1.7v1.7h-1.7zM440.7 453.3h1.7v1.7h-1.7zM440.6 449.4h1.7v1.7h-1.7zM441.2 447.3h1.7v1.7h-1.7zM441.0 450.3h1.7v1.7h-1.7zM441.3 451.2h1.7v1.7h-1.7zM441.6 448.7h1.7v1.7h-1.7zM441.6 453.6h1.7v1.7h-1.7zM441.7 448.9h1.7v1.7h-1.7zM441.8 449.0h1.7v1.7h-1.7zM441.9 452.4h1.7v1.7h-1.7zM442.0 452.8h1.7v1.7h-1.7zM441.9 456.1h1.7v1.7h-1.7zM442.2 455.7h1.7v1.7h-1.7zM442.2 450.6h1.7v1.7h-1.7zM442.5 453.5h1.7v1.7h-1.7zM442.3 448.7h1.7v1.7h-1.7zM442.6 454.5h1.7v1.7h-1.7zM442.9 454.5h1.7v1.7h-1.7zM442.6 451.7h1.7v1.7h-1.7zM443.0 451.0h1.7v1.7h-1.7zM443.1 449.5h1.7v1.7h-1.7zM443.1 449.1h1.7v1.7h-1.7zM443.5 453.6h1.7v1.7h-1.7zM443.4 456.1h1.7v1.7h-1.7zM443.7 451.4h1.7v1.7h-1.7zM444.1 457.6h1.7v1.7h-1.7zM444.1 453.7h1.7v1.7h-1.7zM443.8 454.0h1.7v1.7h-1.7zM444.5 449.4h1.7v1.7h-1.7zM444.3 451.7h1.7v1.7h-1.7zM444.2 453.9h1.7v1.7h-1.7zM444.5 455.6h1.7v1.7h-1.7zM444.7 457.6h1.7v1.7h-1.7zM444.9 450.1h1.7v1.7h-1.7zM444.7 455.7h1.7v1.7h-1.7zM445.3 450.4h1.7v1.7h-1.7zM445.3 453.5h1.7v1.7h-1.7zM445.1 452.3h1.7v1.7h-1.7zM445.7 456.7h1.7v1.7h-1.7zM445.6 452.6h1.7v1.7h-1.7zM445.7 453.1h1.7v1.7h-1.7zM445.9 454.9h1.7v1.7h-1.7zM446.1 452.0h1.7v1.7h-1.7zM445.9 457.5h1.7v1.7h-1.7zM446.5 451.4h1.7v1.7h-1.7zM446.5 449.7h1.7v1.7h-1.7zM446.4 454.9h1.7v1.7h-1.7zM446.3 455.0h1.7v1.7h-1.7zM446.9 450.5h1.7v1.7h-1.7zM446.6 450.6h1.7v1.7h-1.7zM446.8 456.6h1.7v1.7h-1.7zM447.3 457.1h1.7v1.7h-1.7zM447.0 450.2h1.7v1.7h-1.7zM447.3 452.2h1.7v1.7h-1.7zM447.7 455.6h1.7v1.7h-1.7zM447.6 451.5h1.7v1.7h-1.7zM447.6 459.5h1.7v1.7h-1.7zM447.5 454.1h1.7v1.7h-1.7zM448.1 460.4h1.7v1.7h-1.7zM447.9 457.4h1.7v1.7h-1.7zM447.9 457.9h1.7v1.7h-1.7zM447.9 458.6h1.7v1.7h-1.7zM448.3 457.6h1.7v1.7h-1.7zM448.5 456.3h1.7v1.7h-1.7zM448.5 456.0h1.7v1.7h-1.7zM448.8 460.2h1.7v1.7h-1.7zM448.9 455.7h1.7v1.7h-1.7zM448.7 452.1h1.7v1.7h-1.7zM448.9 458.2h1.7v1.7h-1.7zM449.2 461.5h1.7v1.7h-1.7zM449.0 451.1h1.7v1.7h-1.7zM449.2 451.5h1.7v1.7h-1.7zM449.1 454.1h1.7v1.7h-1.7zM449.7 451.7h1.7v1.7h-1.7zM449.6 460.0h1.7v1.7h-1.7zM449.5 455.7h1.7v1.7h-1.7zM449.5 457.4h1.7v1.7h-1.7zM450.0 461.5h1.7v1.7h-1.7zM449.8 460.1h1.7v1.7h-1.7zM449.9 452.4h1.7v1.7h-1.7zM450.5 455.9h1.7v1.7h-1.7zM450.5 460.4h1.7v1.7h-1.7zM450.2 453.6h1.7v1.7h-1.7zM450.3 451.4h1.7v1.7h-1.7zM450.7 457.2h1.7v1.7h-1.7zM450.8 458.9h1.7v1.7h-1.7zM450.7 458.0h1.7v1.7h-1.7zM450.8 459.6h1.7v1.7h-1.7zM451.1 456.8h1.7v1.7h-1.7zM451.0 454.8h1.7v1.7h-1.7zM451.2 456.8h1.7v1.7h-1.7zM451.7 461.4h1.7v1.7h-1.7zM451.7 461.3h1.7v1.7h-1.7zM451.4 457.2h1.7v1.7h-1.7zM451.6 454.8h1.7v1.7h-1.7zM451.8 453.1h1.7v1.7h-1.7zM451.9 455.9h1.7v1.7h-1.7zM451.8 458.6h1.7v1.7h-1.7zM452.5 455.9h1.7v1.7h-1.7zM452.3 455.8h1.7v1.7h-1.7zM452.5 454.0h1.7v1.7h-1.7zM452.6 461.6h1.7v1.7h-1.7zM452.8 458.4h1.7v1.7h-1.7zM452.9 463.4h1.7v1.7h-1.7zM452.7 453.4h1.7v1.7h-1.7zM453.3 458.5h1.7v1.7h-1.7zM453.0 455.3h1.7v1.7h-1.7zM453.1 463.1h1.7v1.7h-1.7zM453.6 456.7h1.7v1.7h-1.7zM453.7 463.2h1.7v1.7h-1.7zM453.5 462.5h1.7v1.7h-1.7zM453.4 461.9h1.7v1.7h-1.7zM453.9 463.5h1.7v1.7h-1.7zM454.0 456.9h1.7v1.7h-1.7zM454.0 455.4h1.7v1.7h-1.7zM453.8 460.2h1.7v1.7h-1.7zM454.4 453.7h1.7v1.7h-1.7zM454.2 456.9h1.7v1.7h-1.7zM454.5 453.8h1.7v1.7h-1.7zM454.9 458.3h1.7v1.7h-1.7zM454.9 464.2h1.7v1.7h-1.7zM454.7 459.2h1.7v1.7h-1.7zM455.2 464.5h1.7v1.7h-1.7zM455.3 460.9h1.7v1.7h-1.7zM455.2 457.9h1.7v1.7h-1.7zM455.0 463.0h1.7v1.7h-1.7zM455.6 453.7h1.7v1.7h-1.7zM455.4 460.0h1.7v1.7h-1.7zM455.5 464.0h1.7v1.7h-1.7zM456.0 458.3h1.7v1.7h-1.7zM455.8 458.5h1.7v1.7h-1.7zM456.0 454.6h1.7v1.7h-1.7zM455.9 455.1h1.7v1.7h-1.7zM456.5 463.7h1.7v1.7h-1.7zM456.2 455.7h1.7v1.7h-1.7zM456.4 462.5h1.7v1.7h-1.7zM456.7 454.1h1.7v1.7h-1.7zM456.8 456.6h1.7v1.7h-1.7zM456.6 465.3h1.7v1.7h-1.7zM456.8 454.7h1.7v1.7h-1.7zM457.1 456.6h1.7v1.7h-1.7zM457.1 465.6h1.7v1.7h-1.7zM457.1 457.7h1.7v1.7h-1.7zM457.1 455.9h1.7v1.7h-1.7zM457.7 458.0h1.7v1.7h-1.7zM457.4 456.4h1.7v1.7h-1.7zM457.5 461.6h1.7v1.7h-1.7zM457.4 465.0h1.7v1.7h-1.7zM457.9 462.2h1.7v1.7h-1.7zM458.0 455.9h1.7v1.7h-1.7zM457.9 463.3h1.7v1.7h-1.7zM458.0 459.9h1.7v1.7h-1.7zM458.2 459.5h1.7v1.7h-1.7zM458.4 460.0h1.7v1.7h-1.7zM458.5 465.1h1.7v1.7h-1.7zM458.3 461.1h1.7v1.7h-1.7zM458.8 462.1h1.7v1.7h-1.7zM458.8 457.6h1.7v1.7h-1.7zM458.7 466.5h1.7v1.7h-1.7zM458.7 465.8h1.7v1.7h-1.7zM459.0 465.1h1.7v1.7h-1.7zM459.3 459.0h1.7v1.7h-1.7zM459.1 455.6h1.7v1.7h-1.7zM459.2 460.5h1.7v1.7h-1.7zM459.2 465.9h1.7v1.7h-1.7zM459.0 454.9h1.7v1.7h-1.7zM459.1 455.3h1.7v1.7h-1.7zM459.6 461.3h1.7v1.7h-1.7zM459.7 457.4h1.7v1.7h-1.7zM459.7 459.9h1.7v1.7h-1.7zM460.0 462.6h1.7v1.7h-1.7zM460.1 458.3h1.7v1.7h-1.7zM459.8 455.2h1.7v1.7h-1.7zM460.4 465.9h1.7v1.7h-1.7zM460.3 455.8h1.7v1.7h-1.7zM460.5 462.6h1.7v1.7h-1.7zM460.7 464.9h1.7v1.7h-1.7zM460.7 461.8h1.7v1.7h-1.7zM460.9 460.8h1.7v1.7h-1.7zM461.2 466.7h1.7v1.7h-1.7zM461.0 464.1h1.7v1.7h-1.7zM461.3 456.1h1.7v1.7h-1.7zM461.5 463.5h1.7v1.7h-1.7zM461.7 459.1h1.7v1.7h-1.7zM461.4 462.3h1.7v1.7h-1.7zM461.8 460.2h1.7v1.7h-1.7zM462.1 467.8h1.7v1.7h-1.7zM461.8 465.9h1.7v1.7h-1.7zM462.4 457.5h1.7v1.7h-1.7zM462.5 466.0h1.7v1.7h-1.7zM462.2 465.8h1.7v1.7h-1.7zM462.9 457.5h1.7v1.7h-1.7zM462.8 466.4h1.7v1.7h-1.7zM462.9 459.2h1.7v1.7h-1.7zM462.7 457.8h1.7v1.7h-1.7zM463.1 468.5h1.7v1.7h-1.7zM463.3 465.9h1.7v1.7h-1.7zM463.3 463.6h1.7v1.7h-1.7zM463.3 465.9h1.7v1.7h-1.7zM463.7 457.7h1.7v1.7h-1.7zM463.5 459.4h1.7v1.7h-1.7zM463.7 460.9h1.7v1.7h-1.7zM463.8 462.2h1.7v1.7h-1.7zM463.9 469.1h1.7v1.7h-1.7zM464.0 465.4h1.7v1.7h-1.7zM463.9 466.2h1.7v1.7h-1.7zM464.4 466.2h1.7v1.7h-1.7zM464.3 467.9h1.7v1.7h-1.7zM464.4 467.4h1.7v1.7h-1.7zM464.8 462.2h1.7v1.7h-1.7zM464.6 458.1h1.7v1.7h-1.7zM464.6 461.0h1.7v1.7h-1.7zM465.2 466.2h1.7v1.7h-1.7zM465.0 464.9h1.7v1.7h-1.7zM465.3 466.3h1.7v1.7h-1.7zM465.0 465.0h1.7v1.7h-1.7zM465.5 462.4h1.7v1.7h-1.7zM465.7 459.3h1.7v1.7h-1.7zM465.7 465.3h1.7v1.7h-1.7zM466.0 461.0h1.7v1.7h-1.7zM465.9 458.4h1.7v1.7h-1.7zM465.9 464.4h1.7v1.7h-1.7zM466.4 465.0h1.7v1.7h-1.7zM466.5 465.1h1.7v1.7h-1.7zM466.2 462.4h1.7v1.7h-1.7zM466.6 467.9h1.7v1.7h-1.7zM466.6 459.4h1.7v1.7h-1.7zM466.6 466.2h1.7v1.7h-1.7zM467.0 464.3h1.7v1.7h-1.7zM467.1 461.4h1.7v1.7h-1.7zM467.0 460.7h1.7v1.7h-1.7zM467.0 461.4h1.7v1.7h-1.7zM467.5 463.5h1.7v1.7h-1.7zM467.4 462.4h1.7v1.7h-1.7zM467.6 468.8h1.7v1.7h-1.7zM467.8 458.5h1.7v1.7h-1.7zM467.9 469.8h1.7v1.7h-1.7zM468.1 461.1h1.7v1.7h-1.7zM468.4 460.2h1.7v1.7h-1.7zM468.2 465.7h1.7v1.7h-1.7zM468.4 462.7h1.7v1.7h-1.7zM468.8 466.8h1.7v1.7h-1.7zM468.6 463.6h1.7v1.7h-1.7zM468.9 459.0h1.7v1.7h-1.7zM469.0 470.5h1.7v1.7h-1.7zM469.0 468.7h1.7v1.7h-1.7zM469.0 463.4h1.7v1.7h-1.7zM469.7 469.6h1.7v1.7h-1.7zM469.7 464.0h1.7v1.7h-1.7zM469.6 462.5h1.7v1.7h-1.7zM469.9 462.3h1.7v1.7h-1.7zM470.1 460.6h1.7v1.7h-1.7zM469.8 461.7h1.7v1.7h-1.7zM470.4 467.7h1.7v1.7h-1.7zM470.5 466.2h1.7v1.7h-1.7zM470.2 469.1h1.7v1.7h-1.7zM470.6 461.8h1.7v1.7h-1.7zM470.6 461.5h1.7v1.7h-1.7zM470.9 464.1h1.7v1.7h-1.7zM471.0 460.9h1.7v1.7h-1.7zM471.2 467.4h1.7v1.7h-1.7zM471.0 460.2h1.7v1.7h-1.7zM471.4 467.7h1.7v1.7h-1.7zM471.4 469.9h1.7v1.7h-1.7zM471.6 467.6h1.7v1.7h-1.7zM471.9 472.4h1.7v1.7h-1.7zM472.0 465.6h1.7v1.7h-1.7zM472.1 471.0h1.7v1.7h-1.7zM472.4 467.3h1.7v1.7h-1.7zM472.5 468.6h1.7v1.7h-1.7zM472.5 472.9h1.7v1.7h-1.7zM472.7 467.9h1.7v1.7h-1.7zM472.9 463.5h1.7v1.7h-1.7zM472.8 463.4h1.7v1.7h-1.7zM472.7 466.8h1.7v1.7h-1.7zM473.3 470.1h1.7v1.7h-1.7zM473.3 473.6h1.7v1.7h-1.7zM473.2 464.1h1.7v1.7h-1.7zM473.5 473.1h1.7v1.7h-1.7zM473.4 465.5h1.7v1.7h-1.7zM473.6 466.9h1.7v1.7h-1.7zM473.9 462.4h1.7v1.7h-1.7zM473.8 461.9h1.7v1.7h-1.7zM473.9 466.8h1.7v1.7h-1.7zM474.3 468.1h1.7v1.7h-1.7zM474.2 462.9h1.7v1.7h-1.7zM474.5 468.5h1.7v1.7h-1.7zM474.7 465.9h1.7v1.7h-1.7zM474.7 471.0h1.7v1.7h-1.7zM474.6 471.7h1.7v1.7h-1.7zM475.1 464.2h1.7v1.7h-1.7zM475.1 466.7h1.7v1.7h-1.7zM475.1 474.1h1.7v1.7h-1.7zM475.3 469.0h1.7v1.7h-1.7zM475.7 469.4h1.7v1.7h-1.7zM475.4 466.1h1.7v1.7h-1.7zM475.6 474.2h1.7v1.7h-1.7zM476.0 462.7h1.7v1.7h-1.7zM476.0 466.7h1.7v1.7h-1.7zM476.1 465.6h1.7v1.7h-1.7zM476.5 465.6h1.7v1.7h-1.7zM476.3 465.0h1.7v1.7h-1.7zM476.5 468.4h1.7v1.7h-1.7zM476.9 465.0h1.7v1.7h-1.7zM476.7 463.2h1.7v1.7h-1.7zM476.8 472.4h1.7v1.7h-1.7zM476.6 472.6h1.7v1.7h-1.7zM477.3 467.1h1.7v1.7h-1.7zM477.3 468.6h1.7v1.7h-1.7zM477.1 468.6h1.7v1.7h-1.7zM477.4 469.1h1.7v1.7h-1.7zM477.7 464.7h1.7v1.7h-1.7zM477.7 470.1h1.7v1.7h-1.7zM477.5 464.5h1.7v1.7h-1.7zM477.9 464.2h1.7v1.7h-1.7zM478.0 474.8h1.7v1.7h-1.7zM478.0 469.4h1.7v1.7h-1.7zM478.4 475.4h1.7v1.7h-1.7zM478.5 463.6h1.7v1.7h-1.7zM478.2 465.1h1.7v1.7h-1.7zM478.8 469.8h1.7v1.7h-1.7zM478.7 469.1h1.7v1.7h-1.7zM478.8 464.9h1.7v1.7h-1.7zM478.7 470.1h1.7v1.7h-1.7zM479.3 475.5h1.7v1.7h-1.7zM479.0 476.1h1.7v1.7h-1.7zM479.1 468.4h1.7v1.7h-1.7zM479.7 473.2h1.7v1.7h-1.7zM479.6 465.3h1.7v1.7h-1.7zM479.7 476.1h1.7v1.7h-1.7zM479.4 469.3h1.7v1.7h-1.7zM480.1 470.4h1.7v1.7h-1.7zM479.9 466.1h1.7v1.7h-1.7zM479.8 476.5h1.7v1.7h-1.7zM480.5 465.0h1.7v1.7h-1.7zM480.5 469.3h1.7v1.7h-1.7zM480.5 466.7h1.7v1.7h-1.7zM480.6 464.6h1.7v1.7h-1.7zM480.7 465.0h1.7v1.7h-1.7zM480.7 476.7h1.7v1.7h-1.7zM480.6 473.4h1.7v1.7h-1.7zM481.0 471.2h1.7v1.7h-1.7zM481.1 471.7h1.7v1.7h-1.7zM481.3 468.4h1.7v1.7h-1.7zM481.4 465.9h1.7v1.7h-1.7zM481.5 465.0h1.7v1.7h-1.7zM481.7 472.7h1.7v1.7h-1.7zM481.8 475.8h1.7v1.7h-1.7zM482.1 474.9h1.7v1.7h-1.7zM482.1 470.7h1.7v1.7h-1.7zM482.2 466.2h1.7v1.7h-1.7zM482.4 466.4h1.7v1.7h-1.7zM482.5 472.9h1.7v1.7h-1.7zM482.9 465.0h1.7v1.7h-1.7zM482.7 468.3h1.7v1.7h-1.7zM482.6 476.2h1.7v1.7h-1.7zM482.9 475.2h1.7v1.7h-1.7zM483.0 473.0h1.7v1.7h-1.7zM483.2 473.0h1.7v1.7h-1.7zM483.2 475.1h1.7v1.7h-1.7zM483.6 468.1h1.7v1.7h-1.7zM483.4 466.2h1.7v1.7h-1.7zM483.7 468.5h1.7v1.7h-1.7zM483.5 472.4h1.7v1.7h-1.7zM483.8 473.0h1.7v1.7h-1.7zM484.1 472.8h1.7v1.7h-1.7zM483.9 470.2h1.7v1.7h-1.7zM484.4 478.5h1.7v1.7h-1.7zM484.4 467.9h1.7v1.7h-1.7zM484.3 469.8h1.7v1.7h-1.7zM484.8 466.0h1.7v1.7h-1.7zM484.8 469.8h1.7v1.7h-1.7zM484.7 476.5h1.7v1.7h-1.7zM485.1 469.7h1.7v1.7h-1.7zM485.2 472.6h1.7v1.7h-1.7zM485.3 468.8h1.7v1.7h-1.7zM485.5 470.7h1.7v1.7h-1.7zM485.7 477.1h1.7v1.7h-1.7zM485.4 478.4h1.7v1.7h-1.7zM485.8 474.5h1.7v1.7h-1.7zM486.0 477.5h1.7v1.7h-1.7zM485.9 470.7h1.7v1.7h-1.7zM485.8 475.2h1.7v1.7h-1.7zM486.4 476.8h1.7v1.7h-1.7zM486.2 474.1h1.7v1.7h-1.7zM486.3 469.3h1.7v1.7h-1.7zM486.8 475.0h1.7v1.7h-1.7zM486.8 478.8h1.7v1.7h-1.7zM486.7 478.7h1.7v1.7h-1.7zM486.7 473.4h1.7v1.7h-1.7zM487.1 479.1h1.7v1.7h-1.7zM487.1 466.8h1.7v1.7h-1.7zM487.2 469.4h1.7v1.7h-1.7zM487.7 473.2h1.7v1.7h-1.7zM487.4 477.0h1.7v1.7h-1.7zM487.6 467.3h1.7v1.7h-1.7zM488.0 475.7h1.7v1.7h-1.7zM487.9 467.6h1.7v1.7h-1.7zM488.0 478.1h1.7v1.7h-1.7zM488.5 468.9h1.7v1.7h-1.7zM488.2 474.5h1.7v1.7h-1.7zM488.5 476.6h1.7v1.7h-1.7zM488.4 478.7h1.7v1.7h-1.7zM488.7 468.6h1.7v1.7h-1.7zM488.7 478.1h1.7v1.7h-1.7zM488.9 469.4h1.7v1.7h-1.7zM489.0 467.7h1.7v1.7h-1.7zM489.3 475.0h1.7v1.7h-1.7zM489.3 475.8h1.7v1.7h-1.7zM489.4 475.4h1.7v1.7h-1.7zM489.4 472.2h1.7v1.7h-1.7zM489.4 473.9h1.7v1.7h-1.7zM489.6 476.5h1.7v1.7h-1.7zM489.8 478.1h1.7v1.7h-1.7zM490.0 479.5h1.7v1.7h-1.7zM489.9 480.3h1.7v1.7h-1.7zM490.2 477.5h1.7v1.7h-1.7zM490.4 481.2h1.7v1.7h-1.7zM490.3 480.1h1.7v1.7h-1.7zM490.4 472.5h1.7v1.7h-1.7zM490.7 474.4h1.7v1.7h-1.7zM490.8 473.9h1.7v1.7h-1.7zM490.6 471.4h1.7v1.7h-1.7zM491.0 477.2h1.7v1.7h-1.7zM491.3 472.1h1.7v1.7h-1.7zM491.3 472.0h1.7v1.7h-1.7zM491.5 469.8h1.7v1.7h-1.7zM491.7 480.2h1.7v1.7h-1.7zM491.6 469.3h1.7v1.7h-1.7zM492.0 475.2h1.7v1.7h-1.7zM491.8 475.8h1.7v1.7h-1.7zM491.8 478.1h1.7v1.7h-1.7zM492.4 480.3h1.7v1.7h-1.7zM492.4 475.8h1.7v1.7h-1.7zM492.3 475.6h1.7v1.7h-1.7zM492.7 469.5h1.7v1.7h-1.7zM492.9 469.7h1.7v1.7h-1.7zM492.8 481.2h1.7v1.7h-1.7zM493.1 480.7h1.7v1.7h-1.7zM493.2 480.0h1.7v1.7h-1.7zM493.2 477.4h1.7v1.7h-1.7zM493.3 472.9h1.7v1.7h-1.7zM493.7 479.6h1.7v1.7h-1.7zM493.5 472.9h1.7v1.7h-1.7zM493.4 474.4h1.7v1.7h-1.7zM493.9 478.8h1.7v1.7h-1.7zM494.1 477.0h1.7v1.7h-1.7zM493.9 470.7h1.7v1.7h-1.7zM494.3 477.0h1.7v1.7h-1.7zM494.2 473.3h1.7v1.7h-1.7zM494.3 478.8h1.7v1.7h-1.7zM494.9 482.0h1.7v1.7h-1.7zM494.8 473.8h1.7v1.7h-1.7zM494.7 471.5h1.7v1.7h-1.7zM495.3 476.9h1.7v1.7h-1.7zM495.1 480.4h1.7v1.7h-1.7zM495.3 473.9h1.7v1.7h-1.7zM495.3 471.0h1.7v1.7h-1.7zM495.7 471.4h1.7v1.7h-1.7zM495.5 479.0h1.7v1.7h-1.7zM495.6 476.1h1.7v1.7h-1.7zM496.1 482.1h1.7v1.7h-1.7zM495.8 474.9h1.7v1.7h-1.7zM496.0 480.9h1.7v1.7h-1.7zM496.2 471.8h1.7v1.7h-1.7zM496.3 482.7h1.7v1.7h-1.7zM496.5 477.1h1.7v1.7h-1.7zM496.6 479.4h1.7v1.7h-1.7zM496.8 478.4h1.7v1.7h-1.7zM496.9 473.1h1.7v1.7h-1.7zM496.9 483.8h1.7v1.7h-1.7zM497.2 483.7h1.7v1.7h-1.7zM497.3 478.4h1.7v1.7h-1.7zM497.2 481.8h1.7v1.7h-1.7zM497.5 473.7h1.7v1.7h-1.7zM497.7 475.6h1.7v1.7h-1.7zM497.5 481.7h1.7v1.7h-1.7zM497.8 472.3h1.7v1.7h-1.7zM497.8 475.8h1.7v1.7h-1.7zM497.9 484.1h1.7v1.7h-1.7zM498.4 483.0h1.7v1.7h-1.7zM498.3 480.0h1.7v1.7h-1.7zM498.5 477.8h1.7v1.7h-1.7zM498.7 478.8h1.7v1.7h-1.7zM498.6 473.7h1.7v1.7h-1.7zM498.9 478.6h1.7v1.7h-1.7zM498.6 477.6h1.7v1.7h-1.7zM499.3 473.8h1.7v1.7h-1.7zM499.2 472.6h1.7v1.7h-1.7zM499.1 474.0h1.7v1.7h-1.7zM499.5 482.2h1.7v1.7h-1.7zM499.5 477.8h1.7v1.7h-1.7zM499.5 479.1h1.7v1.7h-1.7zM499.8 474.9h1.7v1.7h-1.7zM499.9 479.7h1.7v1.7h-1.7zM499.8 482.0h1.7v1.7h-1.7zM500.5 477.4h1.7v1.7h-1.7zM500.3 476.5h1.7v1.7h-1.7zM500.4 476.8h1.7v1.7h-1.7zM500.7 481.6h1.7v1.7h-1.7zM500.7 482.1h1.7v1.7h-1.7zM500.8 478.8h1.7v1.7h-1.7zM500.8 482.3h1.7v1.7h-1.7zM501.0 474.0h1.7v1.7h-1.7zM501.0 474.8h1.7v1.7h-1.7zM501.2 475.3h1.7v1.7h-1.7zM501.4 485.2h1.7v1.7h-1.7zM501.4 476.3h1.7v1.7h-1.7zM501.6 475.0h1.7v1.7h-1.7zM502.1 476.6h1.7v1.7h-1.7zM501.9 482.2h1.7v1.7h-1.7zM502.0 481.3h1.7v1.7h-1.7zM502.3 474.6h1.7v1.7h-1.7zM502.3 486.0h1.7v1.7h-1.7zM502.2 481.9h1.7v1.7h-1.7zM502.7 485.1h1.7v1.7h-1.7zM502.8 478.6h1.7v1.7h-1.7zM502.6 477.0h1.7v1.7h-1.7zM503.2 482.9h1.7v1.7h-1.7zM503.3 486.5h1.7v1.7h-1.7zM503.3 485.4h1.7v1.7h-1.7zM503.0 484.9h1.7v1.7h-1.7zM503.7 487.0h1.7v1.7h-1.7zM503.6 482.2h1.7v1.7h-1.7zM503.5 479.8h1.7v1.7h-1.7zM503.6 475.9h1.7v1.7h-1.7zM504.1 475.7h1.7v1.7h-1.7zM504.1 481.8h1.7v1.7h-1.7zM504.0 478.0h1.7v1.7h-1.7zM504.1 477.8h1.7v1.7h-1.7zM504.4 482.9h1.7v1.7h-1.7zM504.2 478.6h1.7v1.7h-1.7zM504.4 480.8h1.7v1.7h-1.7zM504.2 485.2h1.7v1.7h-1.7zM504.9 478.5h1.7v1.7h-1.7zM504.8 477.6h1.7v1.7h-1.7zM504.6 474.9h1.7v1.7h-1.7zM504.7 483.9h1.7v1.7h-1.7zM505.3 481.0h1.7v1.7h-1.7zM505.2 479.9h1.7v1.7h-1.7zM505.2 480.3h1.7v1.7h-1.7zM505.3 475.2h1.7v1.7h-1.7zM505.5 479.5h1.7v1.7h-1.7zM505.7 477.3h1.7v1.7h-1.7zM505.5 486.1h1.7v1.7h-1.7zM505.8 482.4h1.7v1.7h-1.7zM506.0 475.4h1.7v1.7h-1.7zM506.0 477.2h1.7v1.7h-1.7zM506.2 475.5h1.7v1.7h-1.7zM506.4 483.9h1.7v1.7h-1.7zM506.4 488.4h1.7v1.7h-1.7zM506.2 482.1h1.7v1.7h-1.7zM506.9 481.9h1.7v1.7h-1.7zM506.9 475.9h1.7v1.7h-1.7zM506.6 481.7h1.7v1.7h-1.7zM507.2 476.5h1.7v1.7h-1.7zM507.2 478.4h1.7v1.7h-1.7zM507.2 477.8h1.7v1.7h-1.7zM507.7 485.2h1.7v1.7h-1.7zM507.6 479.6h1.7v1.7h-1.7zM507.7 481.0h1.7v1.7h-1.7zM508.0 486.1h1.7v1.7h-1.7zM508.1 479.4h1.7v1.7h-1.7zM508.1 488.8h1.7v1.7h-1.7zM508.4 487.0h1.7v1.7h-1.7zM508.5 487.3h1.7v1.7h-1.7zM508.3 482.1h1.7v1.7h-1.7zM508.4 486.7h1.7v1.7h-1.7zM508.6 487.8h1.7v1.7h-1.7zM508.7 476.3h1.7v1.7h-1.7zM508.9 477.4h1.7v1.7h-1.7zM509.0 488.1h1.7v1.7h-1.7zM509.3 478.0h1.7v1.7h-1.7zM509.1 485.3h1.7v1.7h-1.7zM509.2 484.2h1.7v1.7h-1.7zM509.6 483.2h1.7v1.7h-1.7zM509.5 482.6h1.7v1.7h-1.7zM509.4 485.6h1.7v1.7h-1.7zM510.1 488.9h1.7v1.7h-1.7zM509.9 483.8h1.7v1.7h-1.7zM509.8 477.8h1.7v1.7h-1.7zM510.5 488.4h1.7v1.7h-1.7zM510.4 479.1h1.7v1.7h-1.7zM510.3 487.4h1.7v1.7h-1.7zM510.7 479.2h1.7v1.7h-1.7zM510.8 483.6h1.7v1.7h-1.7zM510.7 482.7h1.7v1.7h-1.7zM511.1 482.1h1.7v1.7h-1.7zM511.1 479.8h1.7v1.7h-1.7zM511.1 486.3h1.7v1.7h-1.7zM511.4 483.6h1.7v1.7h-1.7zM511.5 489.9h1.7v1.7h-1.7zM511.7 484.3h1.7v1.7h-1.7zM511.8 477.9h1.7v1.7h-1.7zM512.1 479.1h1.7v1.7h-1.7zM511.8 484.0h1.7v1.7h-1.7zM512.0 480.7h1.7v1.7h-1.7zM512.5 481.3h1.7v1.7h-1.7zM512.2 483.2h1.7v1.7h-1.7zM512.2 485.2h1.7v1.7h-1.7zM512.4 484.2h1.7v1.7h-1.7zM512.7 484.7h1.7v1.7h-1.7zM512.8 487.3h1.7v1.7h-1.7zM512.8 489.5h1.7v1.7h-1.7zM512.6 479.8h1.7v1.7h-1.7zM513.0 488.3h1.7v1.7h-1.7zM513.1 483.0h1.7v1.7h-1.7zM513.3 483.7h1.7v1.7h-1.7zM513.7 487.6h1.7v1.7h-1.7zM513.6 481.3h1.7v1.7h-1.7zM513.5 482.6h1.7v1.7h-1.7zM513.8 486.6h1.7v1.7h-1.7zM513.8 488.9h1.7v1.7h-1.7zM514.1 481.9h1.7v1.7h-1.7zM514.5 482.7h1.7v1.7h-1.7zM514.5 478.3h1.7v1.7h-1.7zM514.2 480.5h1.7v1.7h-1.7zM514.9 480.1h1.7v1.7h-1.7zM514.6 478.0h1.7v1.7h-1.7zM514.6 482.7h1.7v1.7h-1.7zM515.2 482.7h1.7v1.7h-1.7zM515.3 484.7h1.7v1.7h-1.7zM515.0 489.4h1.7v1.7h-1.7zM515.6 490.2h1.7v1.7h-1.7zM515.4 485.2h1.7v1.7h-1.7zM515.4 482.5h1.7v1.7h-1.7zM515.9 486.5h1.7v1.7h-1.7zM516.0 488.6h1.7v1.7h-1.7zM515.8 489.4h1.7v1.7h-1.7zM516.0 489.7h1.7v1.7h-1.7zM516.4 481.6h1.7v1.7h-1.7zM516.4 483.8h1.7v1.7h-1.7zM516.2 486.2h1.7v1.7h-1.7zM516.6 488.6h1.7v1.7h-1.7zM516.8 487.0h1.7v1.7h-1.7zM516.7 488.1h1.7v1.7h-1.7zM516.7 484.9h1.7v1.7h-1.7zM517.2 479.6h1.7v1.7h-1.7zM517.2 482.1h1.7v1.7h-1.7zM517.0 482.1h1.7v1.7h-1.7zM517.5 490.8h1.7v1.7h-1.7zM517.6 490.6h1.7v1.7h-1.7zM517.6 482.4h1.7v1.7h-1.7zM517.7 478.9h1.7v1.7h-1.7zM518.0 480.4h1.7v1.7h-1.7zM518.0 485.5h1.7v1.7h-1.7zM518.1 482.8h1.7v1.7h-1.7zM518.5 480.0h1.7v1.7h-1.7zM518.3 490.9h1.7v1.7h-1.7zM518.5 488.6h1.7v1.7h-1.7zM518.9 480.0h1.7v1.7h-1.7zM518.9 482.4h1.7v1.7h-1.7zM518.7 488.3h1.7v1.7h-1.7zM519.3 490.0h1.7v1.7h-1.7zM519.2 492.1h1.7v1.7h-1.7zM519.2 489.1h1.7v1.7h-1.7zM519.6 486.1h1.7v1.7h-1.7zM519.5 482.2h1.7v1.7h-1.7zM519.7 490.7h1.7v1.7h-1.7zM520.0 488.7h1.7v1.7h-1.7zM520.0 487.2h1.7v1.7h-1.7zM519.9 479.6h1.7v1.7h-1.7zM520.3 482.3h1.7v1.7h-1.7zM520.3 480.6h1.7v1.7h-1.7zM520.2 490.7h1.7v1.7h-1.7zM520.9 490.4h1.7v1.7h-1.7zM520.9 483.2h1.7v1.7h-1.7zM520.7 484.7h1.7v1.7h-1.7zM521.2 487.2h1.7v1.7h-1.7zM521.0 481.3h1.7v1.7h-1.7zM521.0 483.4h1.7v1.7h-1.7zM521.7 483.3h1.7v1.7h-1.7zM521.4 489.1h1.7v1.7h-1.7zM521.5 489.5h1.7v1.7h-1.7zM522.1 481.1h1.7v1.7h-1.7zM522.0 490.7h1.7v1.7h-1.7zM521.9 489.4h1.7v1.7h-1.7zM522.4 484.6h1.7v1.7h-1.7zM522.2 487.8h1.7v1.7h-1.7zM522.3 483.4h1.7v1.7h-1.7zM522.2 480.4h1.7v1.7h-1.7zM522.9 482.1h1.7v1.7h-1.7zM522.8 482.0h1.7v1.7h-1.7zM522.7 491.0h1.7v1.7h-1.7zM523.2 493.8h1.7v1.7h-1.7zM523.3 485.6h1.7v1.7h-1.7zM523.3 483.9h1.7v1.7h-1.7zM523.5 486.2h1.7v1.7h-1.7zM523.7 489.3h1.7v1.7h-1.7zM523.4 489.8h1.7v1.7h-1.7zM523.6 493.9h1.7v1.7h-1.7zM523.8 492.1h1.7v1.7h-1.7zM524.1 488.7h1.7v1.7h-1.7zM524.0 491.1h1.7v1.7h-1.7zM524.3 487.2h1.7v1.7h-1.7zM524.3 489.0h1.7v1.7h-1.7zM524.4 486.9h1.7v1.7h-1.7zM524.5 488.7h1.7v1.7h-1.7zM524.6 484.6h1.7v1.7h-1.7zM524.9 482.4h1.7v1.7h-1.7zM524.6 493.3h1.7v1.7h-1.7zM524.9 485.7h1.7v1.7h-1.7zM525.3 494.2h1.7v1.7h-1.7zM525.0 485.1h1.7v1.7h-1.7zM525.2 484.4h1.7v1.7h-1.7zM525.5 484.5h1.7v1.7h-1.7zM525.4 490.3h1.7v1.7h-1.7zM525.5 482.8h1.7v1.7h-1.7zM525.4 482.3h1.7v1.7h-1.7zM526.1 492.0h1.7v1.7h-1.7zM526.1 481.8h1.7v1.7h-1.7zM526.0 492.6h1.7v1.7h-1.7zM526.1 485.3h1.7v1.7h-1.7zM526.5 482.0h1.7v1.7h-1.7zM526.5 484.3h1.7v1.7h-1.7zM526.2 491.5h1.7v1.7h-1.7zM526.4 482.6h1.7v1.7h-1.7zM526.8 490.5h1.7v1.7h-1.7zM526.7 484.6h1.7v1.7h-1.7zM526.9 484.3h1.7v1.7h-1.7zM526.8 490.0h1.7v1.7h-1.7zM527.3 482.4h1.7v1.7h-1.7zM527.2 492.1h1.7v1.7h-1.7zM527.1 489.6h1.7v1.7h-1.7zM527.5 488.9h1.7v1.7h-1.7zM527.4 488.7h1.7v1.7h-1.7zM527.6 481.8h1.7v1.7h-1.7zM527.8 491.6h1.7v1.7h-1.7zM528.0 488.7h1.7v1.7h-1.7zM527.9 489.7h1.7v1.7h-1.7zM528.5 491.3h1.7v1.7h-1.7zM528.5 488.9h1.7v1.7h-1.7zM528.2 491.1h1.7v1.7h-1.7zM528.7 486.3h1.7v1.7h-1.7zM528.7 488.7h1.7v1.7h-1.7zM528.8 495.6h1.7v1.7h-1.7zM528.8 487.1h1.7v1.7h-1.7zM529.2 484.3h1.7v1.7h-1.7zM529.1 495.2h1.7v1.7h-1.7zM529.3 494.1h1.7v1.7h-1.7zM529.7 484.3h1.7v1.7h-1.7zM529.5 487.9h1.7v1.7h-1.7zM529.6 488.6h1.7v1.7h-1.7zM529.7 494.4h1.7v1.7h-1.7zM529.9 484.8h1.7v1.7h-1.7zM529.8 482.5h1.7v1.7h-1.7zM529.8 487.0h1.7v1.7h-1.7zM530.4 484.3h1.7v1.7h-1.7zM530.2 488.1h1.7v1.7h-1.7zM530.3 491.8h1.7v1.7h-1.7zM530.9 494.0h1.7v1.7h-1.7zM530.7 494.5h1.7v1.7h-1.7zM530.8 486.2h1.7v1.7h-1.7zM530.9 484.6h1.7v1.7h-1.7zM531.0 490.2h1.7v1.7h-1.7zM531.1 486.6h1.7v1.7h-1.7zM531.0 496.1h1.7v1.7h-1.7zM531.7 484.0h1.7v1.7h-1.7zM531.7 493.0h1.7v1.7h-1.7zM531.4 493.0h1.7v1.7h-1.7zM532.0 483.6h1.7v1.7h-1.7zM531.8 484.1h1.7v1.7h-1.7zM532.1 485.4h1.7v1.7h-1.7zM531.9 493.7h1.7v1.7h-1.7zM532.2 485.3h1.7v1.7h-1.7zM532.5 488.3h1.7v1.7h-1.7zM532.5 484.5h1.7v1.7h-1.7zM532.7 494.1h1.7v1.7h-1.7zM532.6 483.8h1.7v1.7h-1.7zM532.8 493.1h1.7v1.7h-1.7zM533.1 486.1h1.7v1.7h-1.7zM533.3 486.2h1.7v1.7h-1.7zM533.0 492.9h1.7v1.7h-1.7zM533.5 484.0h1.7v1.7h-1.7zM533.7 487.0h1.7v1.7h-1.7zM533.6 493.2h1.7v1.7h-1.7zM534.0 484.2h1.7v1.7h-1.7zM533.8 493.0h1.7v1.7h-1.7zM534.1 495.0h1.7v1.7h-1.7zM534.0 488.5h1.7v1.7h-1.7zM534.4 496.3h1.7v1.7h-1.7zM534.5 490.7h1.7v1.7h-1.7zM534.2 490.4h1.7v1.7h-1.7zM534.7 489.5h1.7v1.7h-1.7zM534.6 489.2h1.7v1.7h-1.7zM534.8 488.1h1.7v1.7h-1.7zM535.3 490.2h1.7v1.7h-1.7zM535.2 485.7h1.7v1.7h-1.7zM535.3 494.1h1.7v1.7h-1.7zM535.7 486.4h1.7v1.7h-1.7zM535.6 492.4h1.7v1.7h-1.7zM535.4 488.8h1.7v1.7h-1.7zM535.5 491.8h1.7v1.7h-1.7zM536.1 493.2h1.7v1.7h-1.7zM536.1 491.9h1.7v1.7h-1.7zM536.1 486.0h1.7v1.7h-1.7zM536.2 492.4h1.7v1.7h-1.7zM536.4 485.6h1.7v1.7h-1.7zM536.4 494.2h1.7v1.7h-1.7zM536.9 491.1h1.7v1.7h-1.7zM536.9 493.1h1.7v1.7h-1.7zM536.9 485.7h1.7v1.7h-1.7zM536.8 484.6h1.7v1.7h-1.7zM537.1 485.6h1.7v1.7h-1.7zM537.3 493.6h1.7v1.7h-1.7zM537.2 485.6h1.7v1.7h-1.7zM537.7 486.3h1.7v1.7h-1.7zM537.5 497.4h1.7v1.7h-1.7zM537.4 487.5h1.7v1.7h-1.7zM538.0 490.5h1.7v1.7h-1.7zM538.0 497.5h1.7v1.7h-1.7zM537.9 497.7h1.7v1.7h-1.7zM537.8 493.7h1.7v1.7h-1.7zM538.2 485.2h1.7v1.7h-1.7zM538.2 495.9h1.7v1.7h-1.7zM538.4 489.0h1.7v1.7h-1.7zM538.6 485.5h1.7v1.7h-1.7zM538.7 494.2h1.7v1.7h-1.7zM538.7 486.3h1.7v1.7h-1.7zM539.0 498.7h1.7v1.7h-1.7zM539.0 487.6h1.7v1.7h-1.7zM539.3 492.6h1.7v1.7h-1.7zM539.0 495.7h1.7v1.7h-1.7zM539.7 490.1h1.7v1.7h-1.7zM539.6 494.9h1.7v1.7h-1.7zM539.5 488.8h1.7v1.7h-1.7zM540.0 490.5h1.7v1.7h-1.7zM539.9 486.6h1.7v1.7h-1.7zM539.9 498.8h1.7v1.7h-1.7zM540.5 495.8h1.7v1.7h-1.7zM540.3 495.5h1.7v1.7h-1.7zM540.2 495.2h1.7v1.7h-1.7zM540.6 485.9h1.7v1.7h-1.7zM540.7 488.0h1.7v1.7h-1.7zM540.6 495.7h1.7v1.7h-1.7zM541.3 487.0h1.7v1.7h-1.7zM541.2 498.7h1.7v1.7h-1.7zM541.3 497.2h1.7v1.7h-1.7zM541.4 497.5h1.7v1.7h-1.7zM541.6 496.5h1.7v1.7h-1.7zM541.4 496.4h1.7v1.7h-1.7zM542.0 493.1h1.7v1.7h-1.7zM541.8 495.3h1.7v1.7h-1.7zM542.1 493.7h1.7v1.7h-1.7zM542.1 489.4h1.7v1.7h-1.7zM542.3 495.2h1.7v1.7h-1.7zM542.3 491.8h1.7v1.7h-1.7zM542.2 487.8h1.7v1.7h-1.7zM542.9 488.5h1.7v1.7h-1.7zM542.9 491.1h1.7v1.7h-1.7zM542.9 493.8h1.7v1.7h-1.7zM542.8 498.4h1.7v1.7h-1.7zM543.2 489.5h1.7v1.7h-1.7zM543.3 490.5h1.7v1.7h-1.7zM543.2 486.8h1.7v1.7h-1.7zM543.6 492.0h1.7v1.7h-1.7zM543.7 499.7h1.7v1.7h-1.7zM543.7 491.2h1.7v1.7h-1.7zM543.6 499.3h1.7v1.7h-1.7zM544.1 489.0h1.7v1.7h-1.7zM544.1 493.0h1.7v1.7h-1.7zM544.0 498.9h1.7v1.7h-1.7zM544.2 493.9h1.7v1.7h-1.7zM544.2 492.7h1.7v1.7h-1.7zM544.5 488.9h1.7v1.7h-1.7zM544.7 488.3h1.7v1.7h-1.7zM544.8 487.3h1.7v1.7h-1.7zM544.6 489.6h1.7v1.7h-1.7zM544.9 495.2h1.7v1.7h-1.7zM545.2 496.3h1.7v1.7h-1.7zM545.1 493.2h1.7v1.7h-1.7zM545.1 486.7h1.7v1.7h-1.7zM545.1 493.7h1.7v1.7h-1.7zM545.7 491.3h1.7v1.7h-1.7zM545.7 497.7h1.7v1.7h-1.7zM545.5 493.3h1.7v1.7h-1.7zM545.8 488.3h1.7v1.7h-1.7zM545.9 486.9h1.7v1.7h-1.7zM546.1 492.9h1.7v1.7h-1.7zM546.3 492.3h1.7v1.7h-1.7zM546.5 488.2h1.7v1.7h-1.7zM546.2 493.9h1.7v1.7h-1.7zM546.6 487.4h1.7v1.7h-1.7zM546.9 493.4h1.7v1.7h-1.7zM546.7 488.7h1.7v1.7h-1.7zM547.3 491.5h1.7v1.7h-1.7zM547.0 487.1h1.7v1.7h-1.7zM547.3 491.1h1.7v1.7h-1.7zM547.7 496.2h1.7v1.7h-1.7zM547.7 500.3h1.7v1.7h-1.7zM547.5 487.6h1.7v1.7h-1.7zM547.4 490.0h1.7v1.7h-1.7zM548.0 497.1h1.7v1.7h-1.7zM547.9 488.8h1.7v1.7h-1.7zM548.1 487.9h1.7v1.7h-1.7zM547.9 497.4h1.7v1.7h-1.7zM548.2 500.5h1.7v1.7h-1.7zM548.2 490.6h1.7v1.7h-1.7zM548.4 495.7h1.7v1.7h-1.7zM548.8 497.8h1.7v1.7h-1.7zM548.8 491.5h1.7v1.7h-1.7zM548.6 500.2h1.7v1.7h-1.7zM549.2 489.1h1.7v1.7h-1.7zM549.3 493.2h1.7v1.7h-1.7zM549.3 496.4h1.7v1.7h-1.7zM549.7 495.5h1.7v1.7h-1.7zM549.5 498.4h1.7v1.7h-1.7zM549.7 488.7h1.7v1.7h-1.7zM550.1 500.1h1.7v1.7h-1.7zM550.1 496.5h1.7v1.7h-1.7zM550.0 495.7h1.7v1.7h-1.7zM549.8 495.6h1.7v1.7h-1.7zM550.3 497.7h1.7v1.7h-1.7zM550.4 489.1h1.7v1.7h-1.7zM550.3 491.1h1.7v1.7h-1.7zM550.4 499.5h1.7v1.7h-1.7zM550.7 498.8h1.7v1.7h-1.7zM550.7 493.7h1.7v1.7h-1.7zM550.9 492.4h1.7v1.7h-1.7zM551.2 491.7h1.7v1.7h-1.7zM551.0 490.5h1.7v1.7h-1.7zM551.3 497.0h1.7v1.7h-1.7zM551.6 501.4h1.7v1.7h-1.7zM551.7 492.1h1.7v1.7h-1.7zM551.4 499.3h1.7v1.7h-1.7zM551.5 500.2h1.7v1.7h-1.7zM552.0 492.9h1.7v1.7h-1.7zM551.9 495.0h1.7v1.7h-1.7zM552.0 488.5h1.7v1.7h-1.7zM552.0 497.6h1.7v1.7h-1.7zM552.2 499.6h1.7v1.7h-1.7zM552.2 489.5h1.7v1.7h-1.7zM552.4 495.4h1.7v1.7h-1.7zM552.4 490.9h1.7v1.7h-1.7zM552.9 488.3h1.7v1.7h-1.7zM552.6 500.1h1.7v1.7h-1.7zM552.8 496.9h1.7v1.7h-1.7zM552.9 495.3h1.7v1.7h-1.7zM553.2 500.9h1.7v1.7h-1.7zM553.0 500.6h1.7v1.7h-1.7zM553.1 499.3h1.7v1.7h-1.7zM553.7 498.9h1.7v1.7h-1.7zM553.5 498.4h1.7v1.7h-1.7zM553.7 495.2h1.7v1.7h-1.7zM554.0 495.5h1.7v1.7h-1.7zM553.9 498.0h1.7v1.7h-1.7zM554.0 496.4h1.7v1.7h-1.7zM554.0 493.3h1.7v1.7h-1.7zM554.4 493.2h1.7v1.7h-1.7zM554.5 494.8h1.7v1.7h-1.7zM554.3 491.8h1.7v1.7h-1.7zM554.6 497.2h1.7v1.7h-1.7zM554.8 501.8h1.7v1.7h-1.7zM554.7 498.3h1.7v1.7h-1.7zM554.7 488.5h1.7v1.7h-1.7zM555.3 489.5h1.7v1.7h-1.7zM555.1 496.4h1.7v1.7h-1.7zM555.0 488.6h1.7v1.7h-1.7zM555.4 497.3h1.7v1.7h-1.7zM555.5 495.0h1.7v1.7h-1.7zM555.6 496.2h1.7v1.7h-1.7zM555.7 495.5h1.7v1.7h-1.7zM556.0 489.5h1.7v1.7h-1.7zM556.1 495.1h1.7v1.7h-1.7zM555.9 501.4h1.7v1.7h-1.7zM556.4 491.6h1.7v1.7h-1.7zM556.5 488.5h1.7v1.7h-1.7zM556.3 494.6h1.7v1.7h-1.7zM556.6 493.7h1.7v1.7h-1.7zM556.8 498.1h1.7v1.7h-1.7zM556.7 489.3h1.7v1.7h-1.7zM557.1 492.5h1.7v1.7h-1.7zM557.1 496.6h1.7v1.7h-1.7zM557.3 501.8h1.7v1.7h-1.7zM557.4 491.8h1.7v1.7h-1.7zM557.5 494.8h1.7v1.7h-1.7zM557.7 498.0h1.7v1.7h-1.7zM557.4 489.6h1.7v1.7h-1.7zM557.8 493.0h1.7v1.7h-1.7zM557.9 494.7h1.7v1.7h-1.7zM558.1 498.9h1.7v1.7h-1.7zM557.9 502.4h1.7v1.7h-1.7zM558.4 490.6h1.7v1.7h-1.7zM558.5 501.1h1.7v1.7h-1.7zM558.2 490.7h1.7v1.7h-1.7zM558.9 498.6h1.7v1.7h-1.7zM558.8 489.8h1.7v1.7h-1.7zM558.8 489.2h1.7v1.7h-1.7zM559.0 493.4h1.7v1.7h-1.7zM559.3 499.2h1.7v1.7h-1.7zM559.1 497.6h1.7v1.7h-1.7zM559.7 500.3h1.7v1.7h-1.7zM559.4 494.1h1.7v1.7h-1.7zM559.5 502.9h1.7v1.7h-1.7zM559.5 495.2h1.7v1.7h-1.7zM559.9 502.8h1.7v1.7h-1.7zM559.9 501.0h1.7v1.7h-1.7zM560.1 495.0h1.7v1.7h-1.7zM560.4 499.7h1.7v1.7h-1.7zM560.5 500.7h1.7v1.7h-1.7zM560.4 502.5h1.7v1.7h-1.7zM560.8 489.3h1.7v1.7h-1.7zM560.6 494.2h1.7v1.7h-1.7zM560.7 503.1h1.7v1.7h-1.7zM560.6 502.3h1.7v1.7h-1.7zM561.2 500.2h1.7v1.7h-1.7zM561.1 498.7h1.7v1.7h-1.7zM561.3 490.5h1.7v1.7h-1.7zM561.1 499.9h1.7v1.7h-1.7zM561.5 500.6h1.7v1.7h-1.7zM561.5 496.0h1.7v1.7h-1.7zM561.6 499.6h1.7v1.7h-1.7zM561.9 500.3h1.7v1.7h-1.7zM561.9 498.8h1.7v1.7h-1.7zM562.1 502.0h1.7v1.7h-1.7zM561.9 500.3h1.7v1.7h-1.7zM562.4 495.5h1.7v1.7h-1.7zM562.4 489.9h1.7v1.7h-1.7zM562.2 502.5h1.7v1.7h-1.7zM562.4 502.0h1.7v1.7h-1.7zM562.8 499.7h1.7v1.7h-1.7zM562.7 500.1h1.7v1.7h-1.7zM562.9 491.2h1.7v1.7h-1.7zM563.0 499.7h1.7v1.7h-1.7zM563.2 496.6h1.7v1.7h-1.7zM563.1 494.7h1.7v1.7h-1.7zM563.6 503.5h1.7v1.7h-1.7zM563.7 503.4h1.7v1.7h-1.7zM563.7 492.1h1.7v1.7h-1.7zM563.6 495.0h1.7v1.7h-1.7zM563.9 500.1h1.7v1.7h-1.7zM563.9 499.3h1.7v1.7h-1.7zM563.9 500.7h1.7v1.7h-1.7zM564.3 503.8h1.7v1.7h-1.7zM564.5 489.8h1.7v1.7h-1.7zM564.4 497.2h1.7v1.7h-1.7zM564.7 502.4h1.7v1.7h-1.7zM564.7 503.8h1.7v1.7h-1.7zM564.9 500.1h1.7v1.7h-1.7zM565.1 495.8h1.7v1.7h-1.7zM565.1 494.7h1.7v1.7h-1.7zM565.0 501.9h1.7v1.7h-1.7zM565.3 503.9h1.7v1.7h-1.7zM565.5 499.1h1.7v1.7h-1.7zM565.7 500.8h1.7v1.7h-1.7zM565.5 495.4h1.7v1.7h-1.7zM566.1 493.6h1.7v1.7h-1.7zM565.9 499.1h1.7v1.7h-1.7zM565.8 499.1h1.7v1.7h-1.7zM565.9 490.1h1.7v1.7h-1.7zM566.4 492.7h1.7v1.7h-1.7zM566.3 494.7h1.7v1.7h-1.7zM566.3 500.6h1.7v1.7h-1.7zM566.7 500.8h1.7v1.7h-1.7zM566.9 490.6h1.7v1.7h-1.7zM566.8 498.0h1.7v1.7h-1.7zM567.3 498.0h1.7v1.7h-1.7zM567.3 490.4h1.7v1.7h-1.7zM567.1 499.0h1.7v1.7h-1.7zM567.6 503.0h1.7v1.7h-1.7zM567.6 490.4h1.7v1.7h-1.7zM567.6 496.2h1.7v1.7h-1.7zM568.1 492.2h1.7v1.7h-1.7zM567.9 494.8h1.7v1.7h-1.7zM567.8 490.9h1.7v1.7h-1.7zM568.5 498.0h1.7v1.7h-1.7zM568.3 492.9h1.7v1.7h-1.7zM568.4 495.7h1.7v1.7h-1.7zM568.4 495.5h1.7v1.7h-1.7zM568.8 491.1h1.7v1.7h-1.7zM568.6 500.8h1.7v1.7h-1.7zM568.8 491.2h1.7v1.7h-1.7zM568.9 491.4h1.7v1.7h-1.7zM569.1 492.9h1.7v1.7h-1.7zM569.0 491.4h1.7v1.7h-1.7zM569.3 495.6h1.7v1.7h-1.7zM569.6 501.4h1.7v1.7h-1.7zM569.6 499.0h1.7v1.7h-1.7zM569.5 500.0h1.7v1.7h-1.7zM569.9 502.6h1.7v1.7h-1.7zM570.0 496.5h1.7v1.7h-1.7zM569.9 504.5h1.7v1.7h-1.7zM569.9 496.9h1.7v1.7h-1.7zM570.5 495.8h1.7v1.7h-1.7zM570.3 493.5h1.7v1.7h-1.7zM570.4 494.8h1.7v1.7h-1.7zM570.2 501.8h1.7v1.7h-1.7zM570.8 493.5h1.7v1.7h-1.7zM570.6 500.5h1.7v1.7h-1.7zM570.7 494.1h1.7v1.7h-1.7zM570.9 495.5h1.7v1.7h-1.7zM571.1 502.2h1.7v1.7h-1.7zM571.0 497.4h1.7v1.7h-1.7zM571.3 497.5h1.7v1.7h-1.7zM571.4 496.6h1.7v1.7h-1.7zM571.5 503.1h1.7v1.7h-1.7zM571.4 497.9h1.7v1.7h-1.7zM571.6 500.8h1.7v1.7h-1.7zM572.0 501.4h1.7v1.7h-1.7zM571.9 494.8h1.7v1.7h-1.7zM571.8 499.6h1.7v1.7h-1.7zM572.3 501.4h1.7v1.7h-1.7zM572.2 496.3h1.7v1.7h-1.7zM572.5 499.0h1.7v1.7h-1.7zM572.8 492.6h1.7v1.7h-1.7zM572.9 497.9h1.7v1.7h-1.7zM572.9 497.1h1.7v1.7h-1.7zM572.7 503.7h1.7v1.7h-1.7zM573.1 499.7h1.7v1.7h-1.7zM573.2 503.0h1.7v1.7h-1.7zM573.1 503.0h1.7v1.7h-1.7zM573.2 498.5h1.7v1.7h-1.7zM573.7 491.5h1.7v1.7h-1.7zM573.4 497.7h1.7v1.7h-1.7zM573.6 503.6h1.7v1.7h-1.7zM573.6 501.9h1.7v1.7h-1.7zM573.8 504.5h1.7v1.7h-1.7zM573.8 496.2h1.7v1.7h-1.7zM573.8 500.5h1.7v1.7h-1.7zM574.2 493.4h1.7v1.7h-1.7zM574.3 499.2h1.7v1.7h-1.7zM574.2 498.1h1.7v1.7h-1.7zM574.3 499.0h1.7v1.7h-1.7zM574.6 492.3h1.7v1.7h-1.7zM574.6 497.3h1.7v1.7h-1.7zM574.6 498.2h1.7v1.7h-1.7zM574.9 502.1h1.7v1.7h-1.7zM575.3 492.6h1.7v1.7h-1.7zM575.2 492.8h1.7v1.7h-1.7zM575.1 502.5h1.7v1.7h-1.7zM575.0 504.4h1.7v1.7h-1.7zM575.7 504.7h1.7v1.7h-1.7zM575.5 503.9h1.7v1.7h-1.7zM575.7 499.0h1.7v1.7h-1.7zM575.8 495.4h1.7v1.7h-1.7zM575.8 494.7h1.7v1.7h-1.7zM575.9 505.1h1.7v1.7h-1.7zM576.1 496.8h1.7v1.7h-1.7zM576.2 498.0h1.7v1.7h-1.7zM576.3 497.0h1.7v1.7h-1.7zM576.3 505.4h1.7v1.7h-1.7zM576.6 495.7h1.7v1.7h-1.7zM576.6 504.8h1.7v1.7h-1.7zM576.8 503.2h1.7v1.7h-1.7zM577.1 503.9h1.7v1.7h-1.7zM577.2 506.1h1.7v1.7h-1.7zM577.3 505.5h1.7v1.7h-1.7zM577.2 497.3h1.7v1.7h-1.7zM577.4 501.4h1.7v1.7h-1.7zM577.7 501.9h1.7v1.7h-1.7zM577.4 494.7h1.7v1.7h-1.7zM577.8 499.9h1.7v1.7h-1.7zM577.9 504.2h1.7v1.7h-1.7zM578.0 506.4h1.7v1.7h-1.7zM577.8 498.2h1.7v1.7h-1.7zM578.5 500.8h1.7v1.7h-1.7zM578.3 504.9h1.7v1.7h-1.7zM578.4 492.4h1.7v1.7h-1.7zM578.4 502.0h1.7v1.7h-1.7zM578.8 503.8h1.7v1.7h-1.7zM578.6 504.0h1.7v1.7h-1.7zM578.8 505.8h1.7v1.7h-1.7zM579.2 494.6h1.7v1.7h-1.7zM579.3 496.6h1.7v1.7h-1.7zM579.1 496.2h1.7v1.7h-1.7zM579.3 499.5h1.7v1.7h-1.7zM579.6 505.1h1.7v1.7h-1.7zM579.7 500.5h1.7v1.7h-1.7zM579.6 505.0h1.7v1.7h-1.7zM579.4 500.1h1.7v1.7h-1.7zM579.8 501.7h1.7v1.7h-1.7zM579.9 501.6h1.7v1.7h-1.7zM580.1 497.9h1.7v1.7h-1.7zM580.0 504.4h1.7v1.7h-1.7zM580.5 500.1h1.7v1.7h-1.7zM580.4 505.7h1.7v1.7h-1.7zM580.5 493.5h1.7v1.7h-1.7zM580.2 493.0h1.7v1.7h-1.7zM580.9 495.3h1.7v1.7h-1.7zM580.6 502.3h1.7v1.7h-1.7zM580.9 505.5h1.7v1.7h-1.7zM581.3 506.7h1.7v1.7h-1.7zM581.3 499.3h1.7v1.7h-1.7zM581.2 506.0h1.7v1.7h-1.7zM581.6 497.9h1.7v1.7h-1.7zM581.4 497.8h1.7v1.7h-1.7zM581.4 499.1h1.7v1.7h-1.7zM581.4 499.4h1.7v1.7h-1.7zM582.1 495.7h1.7v1.7h-1.7zM582.0 494.1h1.7v1.7h-1.7zM581.8 501.9h1.7v1.7h-1.7zM582.4 500.6h1.7v1.7h-1.7zM582.3 495.3h1.7v1.7h-1.7zM582.4 504.7h1.7v1.7h-1.7zM582.9 497.5h1.7v1.7h-1.7zM582.7 493.5h1.7v1.7h-1.7zM582.7 500.1h1.7v1.7h-1.7zM582.6 492.8h1.7v1.7h-1.7zM583.1 499.4h1.7v1.7h-1.7zM583.0 499.3h1.7v1.7h-1.7zM583.3 494.0h1.7v1.7h-1.7zM583.5 495.7h1.7v1.7h-1.7zM583.5 493.9h1.7v1.7h-1.7zM583.7 500.4h1.7v1.7h-1.7zM584.1 505.1h1.7v1.7h-1.7zM583.8 501.1h1.7v1.7h-1.7zM584.0 494.8h1.7v1.7h-1.7zM584.1 494.8h1.7v1.7h-1.7zM584.5 493.8h1.7v1.7h-1.7zM584.4 498.8h1.7v1.7h-1.7zM584.2 501.6h1.7v1.7h-1.7zM584.3 497.8h1.7v1.7h-1.7zM584.8 504.3h1.7v1.7h-1.7zM584.7 495.6h1.7v1.7h-1.7zM584.6 506.2h1.7v1.7h-1.7zM585.3 502.0h1.7v1.7h-1.7zM585.2 493.4h1.7v1.7h-1.7zM585.2 499.7h1.7v1.7h-1.7zM585.0 505.2h1.7v1.7h-1.7zM585.7 497.7h1.7v1.7h-1.7zM585.5 503.5h1.7v1.7h-1.7zM585.7 495.3h1.7v1.7h-1.7zM585.6 503.3h1.7v1.7h-1.7zM585.8 506.9h1.7v1.7h-1.7zM586.1 503.2h1.7v1.7h-1.7zM586.1 497.0h1.7v1.7h-1.7zM586.4 507.1h1.7v1.7h-1.7zM586.5 507.3h1.7v1.7h-1.7zM586.3 504.6h1.7v1.7h-1.7zM586.4 499.9h1.7v1.7h-1.7zM586.9 499.3h1.7v1.7h-1.7zM586.8 496.4h1.7v1.7h-1.7zM586.6 495.4h1.7v1.7h-1.7zM587.2 494.1h1.7v1.7h-1.7zM587.1 502.3h1.7v1.7h-1.7zM587.2 504.9h1.7v1.7h-1.7zM587.0 503.3h1.7v1.7h-1.7zM587.4 493.7h1.7v1.7h-1.7zM587.4 505.7h1.7v1.7h-1.7zM587.5 502.0h1.7v1.7h-1.7zM587.7 503.2h1.7v1.7h-1.7zM588.1 507.4h1.7v1.7h-1.7zM588.1 499.3h1.7v1.7h-1.7zM587.9 504.5h1.7v1.7h-1.7zM588.5 501.1h1.7v1.7h-1.7zM588.5 495.0h1.7v1.7h-1.7zM588.4 503.2h1.7v1.7h-1.7zM588.3 499.4h1.7v1.7h-1.7zM588.7 504.0h1.7v1.7h-1.7zM588.9 503.9h1.7v1.7h-1.7zM588.6 494.9h1.7v1.7h-1.7zM588.6 507.2h1.7v1.7h-1.7zM589.0 499.5h1.7v1.7h-1.7zM589.1 493.8h1.7v1.7h-1.7zM589.0 502.3h1.7v1.7h-1.7zM589.7 497.9h1.7v1.7h-1.7zM589.5 504.6h1.7v1.7h-1.7zM589.5 499.6h1.7v1.7h-1.7zM589.5 504.0h1.7v1.7h-1.7zM589.8 501.1h1.7v1.7h-1.7zM590.0 500.0h1.7v1.7h-1.7zM589.8 501.1h1.7v1.7h-1.7zM590.0 498.8h1.7v1.7h-1.7zM590.4 499.5h1.7v1.7h-1.7zM590.2 499.1h1.7v1.7h-1.7zM590.2 506.5h1.7v1.7h-1.7zM590.2 507.0h1.7v1.7h-1.7zM590.7 501.8h1.7v1.7h-1.7zM590.9 503.0h1.7v1.7h-1.7zM590.6 498.5h1.7v1.7h-1.7zM590.9 496.8h1.7v1.7h-1.7zM591.1 504.9h1.7v1.7h-1.7zM591.2 498.6h1.7v1.7h-1.7zM591.3 502.2h1.7v1.7h-1.7zM591.1 496.3h1.7v1.7h-1.7zM591.5 507.2h1.7v1.7h-1.7zM591.4 505.4h1.7v1.7h-1.7zM591.5 503.3h1.7v1.7h-1.7zM591.8 498.4h1.7v1.7h-1.7zM592.0 498.0h1.7v1.7h-1.7zM592.1 504.4h1.7v1.7h-1.7zM592.5 495.1h1.7v1.7h-1.7zM592.4 497.8h1.7v1.7h-1.7zM592.3 501.2h1.7v1.7h-1.7zM592.2 494.6h1.7v1.7h-1.7zM592.9 500.9h1.7v1.7h-1.7zM592.8 505.9h1.7v1.7h-1.7zM592.6 508.4h1.7v1.7h-1.7zM593.0 502.0h1.7v1.7h-1.7zM593.0 506.9h1.7v1.7h-1.7zM593.1 502.7h1.7v1.7h-1.7zM593.1 499.8h1.7v1.7h-1.7zM593.6 496.8h1.7v1.7h-1.7zM593.4 503.4h1.7v1.7h-1.7zM593.4 508.4h1.7v1.7h-1.7zM593.5 497.5h1.7v1.7h-1.7zM594.1 501.5h1.7v1.7h-1.7zM594.0 495.8h1.7v1.7h-1.7zM593.9 503.4h1.7v1.7h-1.7zM593.9 499.5h1.7v1.7h-1.7zM594.3 505.7h1.7v1.7h-1.7zM594.3 495.4h1.7v1.7h-1.7zM594.3 506.3h1.7v1.7h-1.7zM594.6 503.8h1.7v1.7h-1.7zM594.8 503.9h1.7v1.7h-1.7zM594.7 496.1h1.7v1.7h-1.7zM594.7 506.9h1.7v1.7h-1.7zM595.2 499.6h1.7v1.7h-1.7zM595.1 500.2h1.7v1.7h-1.7zM595.2 508.0h1.7v1.7h-1.7zM595.1 509.0h1.7v1.7h-1.7zM595.7 499.9h1.7v1.7h-1.7zM595.6 499.9h1.7v1.7h-1.7zM595.6 497.2h1.7v1.7h-1.7zM595.7 498.5h1.7v1.7h-1.7zM596.0 508.5h1.7v1.7h-1.7zM596.0 499.6h1.7v1.7h-1.7zM596.0 508.2h1.7v1.7h-1.7zM596.0 506.6h1.7v1.7h-1.7zM596.5 496.8h1.7v1.7h-1.7zM596.4 504.0h1.7v1.7h-1.7zM596.5 499.1h1.7v1.7h-1.7zM596.3 502.4h1.7v1.7h-1.7zM596.8 506.0h1.7v1.7h-1.7zM596.8 507.0h1.7v1.7h-1.7zM596.9 500.4h1.7v1.7h-1.7zM597.1 504.6h1.7v1.7h-1.7zM597.0 502.1h1.7v1.7h-1.7zM597.3 507.8h1.7v1.7h-1.7zM597.7 501.7h1.7v1.7h-1.7zM597.5 495.2h1.7v1.7h-1.7zM597.6 498.5h1.7v1.7h-1.7zM597.6 500.0h1.7v1.7h-1.7zM597.8 500.9h1.7v1.7h-1.7zM598.1 495.1h1.7v1.7h-1.7zM597.9 501.8h1.7v1.7h-1.7zM598.2 496.5h1.7v1.7h-1.7zM598.2 508.0h1.7v1.7h-1.7zM598.3 499.7h1.7v1.7h-1.7zM598.2 503.3h1.7v1.7h-1.7zM598.9 504.4h1.7v1.7h-1.7zM598.7 496.4h1.7v1.7h-1.7zM598.7 496.6h1.7v1.7h-1.7zM599.3 495.6h1.7v1.7h-1.7zM599.2 499.1h1.7v1.7h-1.7zM599.3 507.0h1.7v1.7h-1.7zM599.2 495.5h1.7v1.7h-1.7zM599.6 504.4h1.7v1.7h-1.7zM599.7 501.4h1.7v1.7h-1.7zM599.5 502.9h1.7v1.7h-1.7zM599.8 502.1h1.7v1.7h-1.7zM600.1 505.0h1.7v1.7h-1.7zM599.8 504.8h1.7v1.7h-1.7zM600.1 501.1h1.7v1.7h-1.7zM600.4 502.7h1.7v1.7h-1.7zM600.3 503.1h1.7v1.7h-1.7zM600.4 495.6h1.7v1.7h-1.7zM600.4 497.7h1.7v1.7h-1.7zM600.6 505.9h1.7v1.7h-1.7zM600.8 509.5h1.7v1.7h-1.7zM600.6 508.1h1.7v1.7h-1.7zM600.7 505.8h1.7v1.7h-1.7zM601.1 505.6h1.7v1.7h-1.7zM601.1 509.2h1.7v1.7h-1.7zM601.2 502.2h1.7v1.7h-1.7zM601.5 508.5h1.7v1.7h-1.7zM601.4 508.4h1.7v1.7h-1.7zM601.6 497.3h1.7v1.7h-1.7zM601.5 499.0h1.7v1.7h-1.7zM602.0 506.1h1.7v1.7h-1.7zM601.8 505.5h1.7v1.7h-1.7zM602.0 496.2h1.7v1.7h-1.7zM602.0 496.7h1.7v1.7h-1.7zM602.5 509.2h1.7v1.7h-1.7zM602.5 505.1h1.7v1.7h-1.7zM602.3 503.0h1.7v1.7h-1.7zM602.4 496.5h1.7v1.7h-1.7zM602.8 504.9h1.7v1.7h-1.7zM602.9 502.3h1.7v1.7h-1.7zM602.6 501.1h1.7v1.7h-1.7zM603.3 506.8h1.7v1.7h-1.7zM603.1 510.1h1.7v1.7h-1.7zM603.1 498.0h1.7v1.7h-1.7zM603.7 501.4h1.7v1.7h-1.7zM603.7 499.4h1.7v1.7h-1.7zM603.5 498.9h1.7v1.7h-1.7zM603.4 507.9h1.7v1.7h-1.7zM603.9 499.8h1.7v1.7h-1.7zM603.8 502.7h1.7v1.7h-1.7zM604.1 507.8h1.7v1.7h-1.7zM604.2 498.2h1.7v1.7h-1.7zM604.4 502.3h1.7v1.7h-1.7zM604.5 503.9h1.7v1.7h-1.7zM604.7 505.9h1.7v1.7h-1.7zM604.6 501.8h1.7v1.7h-1.7zM604.9 501.7h1.7v1.7h-1.7zM605.2 498.7h1.7v1.7h-1.7zM605.2 509.1h1.7v1.7h-1.7zM605.1 497.6h1.7v1.7h-1.7zM605.3 499.4h1.7v1.7h-1.7zM605.7 502.5h1.7v1.7h-1.7zM605.5 500.4h1.7v1.7h-1.7zM605.5 510.4h1.7v1.7h-1.7zM605.6 503.9h1.7v1.7h-1.7zM605.9 505.3h1.7v1.7h-1.7zM606.0 508.2h1.7v1.7h-1.7zM606.0 506.7h1.7v1.7h-1.7zM605.9 506.3h1.7v1.7h-1.7zM606.3 501.5h1.7v1.7h-1.7zM606.5 496.4h1.7v1.7h-1.7zM606.3 503.8h1.7v1.7h-1.7zM606.2 506.5h1.7v1.7h-1.7zM606.6 506.7h1.7v1.7h-1.7zM606.8 508.9h1.7v1.7h-1.7zM606.9 510.3h1.7v1.7h-1.7zM606.7 502.2h1.7v1.7h-1.7zM607.1 507.5h1.7v1.7h-1.7zM607.3 506.8h1.7v1.7h-1.7zM607.2 507.2h1.7v1.7h-1.7zM607.1 507.1h1.7v1.7h-1.7zM607.7 502.5h1.7v1.7h-1.7zM607.6 510.8h1.7v1.7h-1.7zM607.4 504.5h1.7v1.7h-1.7zM607.7 504.6h1.7v1.7h-1.7zM607.9 507.7h1.7v1.7h-1.7zM607.9 506.8h1.7v1.7h-1.7zM608.1 505.1h1.7v1.7h-1.7zM608.1 496.9h1.7v1.7h-1.7zM608.3 500.0h1.7v1.7h-1.7zM608.4 504.6h1.7v1.7h-1.7zM608.2 499.1h1.7v1.7h-1.7zM608.4 499.9h1.7v1.7h-1.7zM608.8 507.7h1.7v1.7h-1.7zM608.8 501.9h1.7v1.7h-1.7zM608.8 498.7h1.7v1.7h-1.7zM608.6 506.0h1.7v1.7h-1.7zM609.3 498.6h1.7v1.7h-1.7zM609.3 504.6h1.7v1.7h-1.7zM609.0 506.4h1.7v1.7h-1.7zM609.5 505.6h1.7v1.7h-1.7zM609.7 506.8h1.7v1.7h-1.7zM609.4 506.6h1.7v1.7h-1.7zM609.9 510.0h1.7v1.7h-1.7zM610.1 510.3h1.7v1.7h-1.7zM609.8 501.8h1.7v1.7h-1.7zM610.2 503.9h1.7v1.7h-1.7zM610.4 500.2h1.7v1.7h-1.7zM610.4 497.0h1.7v1.7h-1.7zM610.4 502.7h1.7v1.7h-1.7zM610.6 503.8h1.7v1.7h-1.7zM610.9 497.1h1.7v1.7h-1.7zM610.7 502.2h1.7v1.7h-1.7zM610.7 510.5h1.7v1.7h-1.7zM611.1 498.9h1.7v1.7h-1.7zM611.3 509.6h1.7v1.7h-1.7zM611.3 508.8h1.7v1.7h-1.7zM611.0 500.2h1.7v1.7h-1.7zM611.6 506.4h1.7v1.7h-1.7zM611.6 502.3h1.7v1.7h-1.7zM611.6 500.1h1.7v1.7h-1.7zM611.4 503.0h1.7v1.7h-1.7zM612.1 499.7h1.7v1.7h-1.7zM611.9 508.1h1.7v1.7h-1.7zM611.8 503.6h1.7v1.7h-1.7zM612.3 507.2h1.7v1.7h-1.7zM612.3 505.2h1.7v1.7h-1.7zM612.2 500.9h1.7v1.7h-1.7zM612.3 508.1h1.7v1.7h-1.7zM612.6 509.8h1.7v1.7h-1.7zM612.6 500.4h1.7v1.7h-1.7zM612.9 505.2h1.7v1.7h-1.7zM612.9 497.5h1.7v1.7h-1.7zM613.1 509.2h1.7v1.7h-1.7zM613.0 503.5h1.7v1.7h-1.7zM613.3 501.0h1.7v1.7h-1.7zM613.7 510.3h1.7v1.7h-1.7zM613.4 510.6h1.7v1.7h-1.7zM613.7 503.3h1.7v1.7h-1.7zM613.4 501.7h1.7v1.7h-1.7zM614.0 505.0h1.7v1.7h-1.7zM613.9 500.3h1.7v1.7h-1.7zM613.8 506.4h1.7v1.7h-1.7zM614.1 508.7h1.7v1.7h-1.7zM614.4 499.2h1.7v1.7h-1.7zM614.2 501.6h1.7v1.7h-1.7zM614.4 507.6h1.7v1.7h-1.7zM614.2 501.2h1.7v1.7h-1.7zM614.7 510.7h1.7v1.7h-1.7zM614.6 505.9h1.7v1.7h-1.7zM614.8 504.1h1.7v1.7h-1.7zM615.2 506.2h1.7v1.7h-1.7zM615.0 498.0h1.7v1.7h-1.7zM615.0 503.4h1.7v1.7h-1.7zM615.2 505.3h1.7v1.7h-1.7zM615.6 510.3h1.7v1.7h-1.7zM615.4 508.7h1.7v1.7h-1.7zM615.7 510.1h1.7v1.7h-1.7zM615.7 506.0h1.7v1.7h-1.7zM615.8 503.8h1.7v1.7h-1.7zM616.0 504.5h1.7v1.7h-1.7zM616.1 509.0h1.7v1.7h-1.7zM616.1 505.0h1.7v1.7h-1.7zM616.3 497.8h1.7v1.7h-1.7zM616.5 505.4h1.7v1.7h-1.7zM616.2 500.9h1.7v1.7h-1.7zM616.2 508.0h1.7v1.7h-1.7zM616.6 505.8h1.7v1.7h-1.7zM616.9 505.2h1.7v1.7h-1.7zM616.9 500.9h1.7v1.7h-1.7zM617.2 499.8h1.7v1.7h-1.7zM617.2 507.5h1.7v1.7h-1.7zM617.0 511.0h1.7v1.7h-1.7zM617.2 498.3h1.7v1.7h-1.7zM617.5 503.5h1.7v1.7h-1.7zM617.5 510.5h1.7v1.7h-1.7zM617.6 507.7h1.7v1.7h-1.7zM617.7 501.8h1.7v1.7h-1.7zM617.8 502.1h1.7v1.7h-1.7zM618.0 507.9h1.7v1.7h-1.7zM617.8 503.1h1.7v1.7h-1.7zM617.9 506.4h1.7v1.7h-1.7zM618.2 507.3h1.7v1.7h-1.7zM618.5 498.5h1.7v1.7h-1.7zM618.2 510.4h1.7v1.7h-1.7zM618.3 501.1h1.7v1.7h-1.7zM618.9 502.3h1.7v1.7h-1.7zM618.9 499.2h1.7v1.7h-1.7zM618.8 498.7h1.7v1.7h-1.7zM619.3 508.4h1.7v1.7h-1.7zM619.3 503.0h1.7v1.7h-1.7zM619.1 511.0h1.7v1.7h-1.7zM619.4 511.2h1.7v1.7h-1.7zM619.7 503.6h1.7v1.7h-1.7zM619.7 506.3h1.7v1.7h-1.7zM619.8 504.5h1.7v1.7h-1.7zM620.1 502.0h1.7v1.7h-1.7zM620.1 501.8h1.7v1.7h-1.7zM620.0 509.6h1.7v1.7h-1.7zM620.2 498.1h1.7v1.7h-1.7zM620.5 510.0h1.7v1.7h-1.7zM620.3 512.0h1.7v1.7h-1.7zM620.3 511.6h1.7v1.7h-1.7zM620.9 511.2h1.7v1.7h-1.7zM620.7 507.9h1.7v1.7h-1.7zM620.6 499.7h1.7v1.7h-1.7zM620.6 501.9h1.7v1.7h-1.7zM621.0 502.7h1.7v1.7h-1.7zM621.1 510.8h1.7v1.7h-1.7zM621.0 498.2h1.7v1.7h-1.7zM621.0 506.1h1.7v1.7h-1.7zM621.5 498.6h1.7v1.7h-1.7zM621.6 507.2h1.7v1.7h-1.7zM621.7 501.4h1.7v1.7h-1.7zM621.7 512.3h1.7v1.7h-1.7zM621.9 512.3h1.7v1.7h-1.7zM621.9 506.1h1.7v1.7h-1.7zM621.8 509.6h1.7v1.7h-1.7zM622.4 504.8h1.7v1.7h-1.7zM622.3 512.6h1.7v1.7h-1.7zM622.3 498.4h1.7v1.7h-1.7zM622.2 511.0h1.7v1.7h-1.7zM622.9 507.0h1.7v1.7h-1.7zM622.8 503.1h1.7v1.7h-1.7zM622.9 512.1h1.7v1.7h-1.7zM622.7 506.5h1.7v1.7h-1.7zM623.2 509.0h1.7v1.7h-1.7zM623.1 508.2h1.7v1.7h-1.7zM623.1 508.8h1.7v1.7h-1.7zM623.6 499.9h1.7v1.7h-1.7zM623.5 501.0h1.7v1.7h-1.7zM623.5 502.8h1.7v1.7h-1.7zM623.7 504.5h1.7v1.7h-1.7zM623.9 506.5h1.7v1.7h-1.7zM624.1 506.4h1.7v1.7h-1.7zM624.0 506.1h1.7v1.7h-1.7zM623.8 503.6h1.7v1.7h-1.7zM624.3 499.9h1.7v1.7h-1.7zM624.3 499.2h1.7v1.7h-1.7zM624.2 506.8h1.7v1.7h-1.7zM624.3 509.5h1.7v1.7h-1.7zM624.9 504.8h1.7v1.7h-1.7zM624.6 508.4h1.7v1.7h-1.7zM624.7 506.5h1.7v1.7h-1.7zM625.0 504.0h1.7v1.7h-1.7zM625.3 499.2h1.7v1.7h-1.7zM625.1 500.4h1.7v1.7h-1.7zM625.5 499.5h1.7v1.7h-1.7zM625.6 505.0h1.7v1.7h-1.7zM625.7 510.0h1.7v1.7h-1.7zM625.8 500.0h1.7v1.7h-1.7zM625.9 498.9h1.7v1.7h-1.7zM626.1 507.7h1.7v1.7h-1.7zM625.9 500.2h1.7v1.7h-1.7zM626.3 507.3h1.7v1.7h-1.7zM626.2 499.9h1.7v1.7h-1.7zM626.4 502.0h1.7v1.7h-1.7zM626.9 506.1h1.7v1.7h-1.7zM626.7 499.0h1.7v1.7h-1.7zM626.8 504.9h1.7v1.7h-1.7zM626.8 509.5h1.7v1.7h-1.7zM627.2 503.8h1.7v1.7h-1.7zM627.3 505.6h1.7v1.7h-1.7zM627.2 506.6h1.7v1.7h-1.7zM627.1 508.5h1.7v1.7h-1.7zM627.6 508.5h1.7v1.7h-1.7zM627.5 513.3h1.7v1.7h-1.7zM627.7 506.1h1.7v1.7h-1.7zM627.6 510.7h1.7v1.7h-1.7zM627.9 501.6h1.7v1.7h-1.7zM627.9 505.2h1.7v1.7h-1.7zM627.9 502.7h1.7v1.7h-1.7zM627.8 507.3h1.7v1.7h-1.7zM628.2 509.3h1.7v1.7h-1.7zM628.2 502.7h1.7v1.7h-1.7zM628.4 505.9h1.7v1.7h-1.7zM628.8 507.6h1.7v1.7h-1.7zM628.6 499.8h1.7v1.7h-1.7zM628.9 506.4h1.7v1.7h-1.7zM628.7 509.3h1.7v1.7h-1.7zM629.2 501.1h1.7v1.7h-1.7zM629.1 510.2h1.7v1.7h-1.7zM629.1 500.5h1.7v1.7h-1.7zM629.3 509.3h1.7v1.7h-1.7zM629.5 512.0h1.7v1.7h-1.7zM629.4 499.6h1.7v1.7h-1.7zM629.6 512.0h1.7v1.7h-1.7zM629.5 500.5h1.7v1.7h-1.7zM629.8 506.2h1.7v1.7h-1.7zM630.0 512.5h1.7v1.7h-1.7zM629.8 503.1h1.7v1.7h-1.7zM630.1 507.5h1.7v1.7h-1.7zM630.5 511.6h1.7v1.7h-1.7zM630.2 508.9h1.7v1.7h-1.7zM630.4 503.8h1.7v1.7h-1.7zM630.6 502.6h1.7v1.7h-1.7zM630.8 511.8h1.7v1.7h-1.7zM630.7 503.7h1.7v1.7h-1.7zM630.6 511.9h1.7v1.7h-1.7zM631.3 502.8h1.7v1.7h-1.7zM631.3 510.9h1.7v1.7h-1.7zM631.2 505.0h1.7v1.7h-1.7zM631.7 504.6h1.7v1.7h-1.7zM631.7 513.4h1.7v1.7h-1.7zM631.5 512.5h1.7v1.7h-1.7zM631.7 509.0h1.7v1.7h-1.7zM632.1 512.7h1.7v1.7h-1.7zM631.9 503.7h1.7v1.7h-1.7zM631.8 509.4h1.7v1.7h-1.7zM631.8 503.3h1.7v1.7h-1.7zM632.5 512.6h1.7v1.7h-1.7zM632.4 511.3h1.7v1.7h-1.7zM632.4 510.3h1.7v1.7h-1.7zM632.4 505.9h1.7v1.7h-1.7zM632.7 503.2h1.7v1.7h-1.7zM632.8 504.8h1.7v1.7h-1.7zM632.6 503.2h1.7v1.7h-1.7zM632.9 512.2h1.7v1.7h-1.7zM633.0 510.8h1.7v1.7h-1.7zM633.3 506.7h1.7v1.7h-1.7zM633.0 511.2h1.7v1.7h-1.7zM633.4 508.2h1.7v1.7h-1.7zM633.6 503.3h1.7v1.7h-1.7zM633.5 509.3h1.7v1.7h-1.7zM633.6 507.9h1.7v1.7h-1.7zM634.0 501.1h1.7v1.7h-1.7zM633.9 510.8h1.7v1.7h-1.7zM634.1 510.8h1.7v1.7h-1.7zM634.1 509.7h1.7v1.7h-1.7zM634.5 500.5h1.7v1.7h-1.7zM634.5 506.3h1.7v1.7h-1.7zM634.2 510.4h1.7v1.7h-1.7zM634.8 501.2h1.7v1.7h-1.7zM634.7 504.8h1.7v1.7h-1.7zM634.9 503.9h1.7v1.7h-1.7zM635.2 504.3h1.7v1.7h-1.7zM635.3 502.7h1.7v1.7h-1.7zM635.3 508.6h1.7v1.7h-1.7zM635.6 514.0h1.7v1.7h-1.7zM635.6 506.7h1.7v1.7h-1.7zM635.5 508.1h1.7v1.7h-1.7zM636.1 511.5h1.7v1.7h-1.7zM636.0 513.8h1.7v1.7h-1.7zM635.9 507.3h1.7v1.7h-1.7zM636.0 510.1h1.7v1.7h-1.7zM636.3 510.8h1.7v1.7h-1.7zM636.2 504.1h1.7v1.7h-1.7zM636.3 511.2h1.7v1.7h-1.7zM636.7 501.0h1.7v1.7h-1.7zM636.7 513.0h1.7v1.7h-1.7zM636.9 510.8h1.7v1.7h-1.7zM636.8 509.6h1.7v1.7h-1.7zM637.2 509.8h1.7v1.7h-1.7zM637.2 514.0h1.7v1.7h-1.7zM637.3 505.3h1.7v1.7h-1.7zM637.1 509.1h1.7v1.7h-1.7zM637.4 502.5h1.7v1.7h-1.7zM637.5 512.8h1.7v1.7h-1.7zM637.4 511.7h1.7v1.7h-1.7zM638.1 503.8h1.7v1.7h-1.7zM637.9 508.8h1.7v1.7h-1.7zM637.8 505.8h1.7v1.7h-1.7zM638.0 503.4h1.7v1.7h-1.7zM638.3 501.9h1.7v1.7h-1.7zM638.5 506.8h1.7v1.7h-1.7zM638.3 505.9h1.7v1.7h-1.7zM638.4 514.2h1.7v1.7h-1.7zM638.6 506.1h1.7v1.7h-1.7zM638.7 502.7h1.7v1.7h-1.7zM638.6 509.5h1.7v1.7h-1.7zM638.6 507.2h1.7v1.7h-1.7zM639.2 505.4h1.7v1.7h-1.7zM639.1 511.6h1.7v1.7h-1.7zM639.0 506.0h1.7v1.7h-1.7zM639.7 509.4h1.7v1.7h-1.7zM639.7 502.6h1.7v1.7h-1.7zM639.5 513.5h1.7v1.7h-1.7zM639.6 508.2h1.7v1.7h-1.7zM640.0 505.8h1.7v1.7h-1.7zM639.9 507.5h1.7v1.7h-1.7zM639.8 508.6h1.7v1.7h-1.7zM639.9 507.3h1.7v1.7h-1.7zM640.4 508.1h1.7v1.7h-1.7zM640.3 508.1h1.7v1.7h-1.7zM640.3 510.2h1.7v1.7h-1.7zM640.2 514.5h1.7v1.7h-1.7zM640.8 508.8h1.7v1.7h-1.7zM640.7 506.2h1.7v1.7h-1.7zM640.6 505.6h1.7v1.7h-1.7zM640.9 511.9h1.7v1.7h-1.7zM641.1 508.8h1.7v1.7h-1.7zM641.2 502.7h1.7v1.7h-1.7zM641.3 508.3h1.7v1.7h-1.7zM641.3 513.6h1.7v1.7h-1.7zM641.7 502.4h1.7v1.7h-1.7zM641.6 502.4h1.7v1.7h-1.7zM641.6 503.3h1.7v1.7h-1.7zM641.4 501.6h1.7v1.7h-1.7zM641.9 508.2h1.7v1.7h-1.7zM642.1 514.6h1.7v1.7h-1.7zM642.0 504.1h1.7v1.7h-1.7zM642.3 507.5h1.7v1.7h-1.7zM642.3 504.2h1.7v1.7h-1.7zM642.2 504.8h1.7v1.7h-1.7zM642.3 513.3h1.7v1.7h-1.7zM642.8 512.4h1.7v1.7h-1.7zM642.9 503.2h1.7v1.7h-1.7zM642.9 514.1h1.7v1.7h-1.7zM643.2 512.7h1.7v1.7h-1.7zM643.1 501.5h1.7v1.7h-1.7zM643.2 510.9h1.7v1.7h-1.7zM643.3 514.4h1.7v1.7h-1.7zM643.5 514.9h1.7v1.7h-1.7zM643.4 513.9h1.7v1.7h-1.7zM643.4 512.3h1.7v1.7h-1.7zM643.8 507.4h1.7v1.7h-1.7zM644.1 510.1h1.7v1.7h-1.7zM643.8 504.3h1.7v1.7h-1.7zM644.0 512.0h1.7v1.7h-1.7zM644.5 505.5h1.7v1.7h-1.7zM644.3 505.1h1.7v1.7h-1.7zM644.5 507.6h1.7v1.7h-1.7zM644.3 512.6h1.7v1.7h-1.7zM644.6 501.7h1.7v1.7h-1.7zM644.8 506.5h1.7v1.7h-1.7zM644.6 503.3h1.7v1.7h-1.7zM645.0 504.0h1.7v1.7h-1.7zM645.0 502.5h1.7v1.7h-1.7zM645.2 505.4h1.7v1.7h-1.7zM645.6 505.4h1.7v1.7h-1.7zM645.6 506.0h1.7v1.7h-1.7zM645.6 502.9h1.7v1.7h-1.7zM645.8 514.3h1.7v1.7h-1.7zM645.8 509.1h1.7v1.7h-1.7zM645.9 507.6h1.7v1.7h-1.7zM646.1 510.4h1.7v1.7h-1.7zM646.3 515.0h1.7v1.7h-1.7zM646.3 509.1h1.7v1.7h-1.7zM646.4 505.4h1.7v1.7h-1.7zM646.8 502.2h1.7v1.7h-1.7zM646.8 506.0h1.7v1.7h-1.7zM646.8 505.2h1.7v1.7h-1.7zM647.1 505.8h1.7v1.7h-1.7zM647.0 501.5h1.7v1.7h-1.7zM647.0 514.1h1.7v1.7h-1.7zM647.4 510.8h1.7v1.7h-1.7zM647.4 514.5h1.7v1.7h-1.7zM647.5 514.9h1.7v1.7h-1.7zM647.6 509.7h1.7v1.7h-1.7zM648.0 508.6h1.7v1.7h-1.7zM648.0 512.5h1.7v1.7h-1.7zM647.8 511.0h1.7v1.7h-1.7zM648.0 507.2h1.7v1.7h-1.7zM648.2 512.2h1.7v1.7h-1.7zM648.3 509.4h1.7v1.7h-1.7zM648.5 503.8h1.7v1.7h-1.7zM648.4 510.2h1.7v1.7h-1.7zM648.9 509.4h1.7v1.7h-1.7zM648.7 502.4h1.7v1.7h-1.7zM648.8 504.6h1.7v1.7h-1.7zM649.0 514.4h1.7v1.7h-1.7zM649.3 505.3h1.7v1.7h-1.7zM649.1 511.6h1.7v1.7h-1.7zM649.2 506.8h1.7v1.7h-1.7zM649.4 511.7h1.7v1.7h-1.7zM649.4 512.8h1.7v1.7h-1.7zM649.7 514.3h1.7v1.7h-1.7zM649.4 501.9h1.7v1.7h-1.7zM649.9 513.0h1.7v1.7h-1.7zM650.0 512.8h1.7v1.7h-1.7zM650.0 505.1h1.7v1.7h-1.7zM650.5 503.6h1.7v1.7h-1.7zM650.2 511.6h1.7v1.7h-1.7zM650.4 507.6h1.7v1.7h-1.7zM650.3 506.8h1.7v1.7h-1.7zM650.6 514.9h1.7v1.7h-1.7zM650.7 505.2h1.7v1.7h-1.7zM650.9 515.4h1.7v1.7h-1.7zM651.0 510.6h1.7v1.7h-1.7zM651.0 504.6h1.7v1.7h-1.7zM651.3 508.6h1.7v1.7h-1.7zM651.1 515.1h1.7v1.7h-1.7zM651.4 511.3h1.7v1.7h-1.7zM651.5 514.2h1.7v1.7h-1.7zM651.4 515.3h1.7v1.7h-1.7zM652.0 508.9h1.7v1.7h-1.7zM651.9 504.3h1.7v1.7h-1.7zM652.0 512.3h1.7v1.7h-1.7zM652.5 509.2h1.7v1.7h-1.7zM652.4 503.6h1.7v1.7h-1.7zM652.5 510.1h1.7v1.7h-1.7zM652.9 508.2h1.7v1.7h-1.7zM652.7 505.3h1.7v1.7h-1.7zM652.8 513.5h1.7v1.7h-1.7zM652.6 508.6h1.7v1.7h-1.7zM653.0 507.6h1.7v1.7h-1.7zM653.0 507.2h1.7v1.7h-1.7zM653.3 513.5h1.7v1.7h-1.7zM653.4 511.2h1.7v1.7h-1.7zM653.7 507.7h1.7v1.7h-1.7zM653.5 501.8h1.7v1.7h-1.7zM653.9 504.2h1.7v1.7h-1.7zM653.8 510.4h1.7v1.7h-1.7zM653.9 513.9h1.7v1.7h-1.7zM653.8 504.2h1.7v1.7h-1.7zM654.4 506.7h1.7v1.7h-1.7zM654.3 503.4h1.7v1.7h-1.7zM654.2 508.9h1.7v1.7h-1.7zM654.8 513.5h1.7v1.7h-1.7zM654.8 503.7h1.7v1.7h-1.7zM654.6 503.0h1.7v1.7h-1.7zM655.0 509.3h1.7v1.7h-1.7zM655.0 505.8h1.7v1.7h-1.7zM655.0 514.3h1.7v1.7h-1.7zM655.3 511.3h1.7v1.7h-1.7zM655.5 510.0h1.7v1.7h-1.7zM655.6 513.3h1.7v1.7h-1.7zM655.6 503.0h1.7v1.7h-1.7zM655.5 503.9h1.7v1.7h-1.7zM656.0 508.7h1.7v1.7h-1.7zM655.9 512.1h1.7v1.7h-1.7zM655.9 502.7h1.7v1.7h-1.7zM656.0 514.6h1.7v1.7h-1.7zM656.4 512.6h1.7v1.7h-1.7zM656.5 515.1h1.7v1.7h-1.7zM656.5 512.2h1.7v1.7h-1.7zM656.8 505.7h1.7v1.7h-1.7zM656.9 510.0h1.7v1.7h-1.7zM656.7 512.7h1.7v1.7h-1.7zM656.8 504.4h1.7v1.7h-1.7zM657.1 508.9h1.7v1.7h-1.7zM657.2 507.6h1.7v1.7h-1.7zM657.2 510.8h1.7v1.7h-1.7zM657.3 502.9h1.7v1.7h-1.7zM657.6 514.6h1.7v1.7h-1.7zM657.7 511.0h1.7v1.7h-1.7zM657.6 512.4h1.7v1.7h-1.7zM658.0 502.4h1.7v1.7h-1.7zM657.9 513.8h1.7v1.7h-1.7zM657.9 505.0h1.7v1.7h-1.7zM658.1 513.7h1.7v1.7h-1.7zM658.2 504.9h1.7v1.7h-1.7zM658.3 512.4h1.7v1.7h-1.7zM658.3 514.4h1.7v1.7h-1.7zM658.3 504.8h1.7v1.7h-1.7zM658.6 514.2h1.7v1.7h-1.7zM658.7 507.9h1.7v1.7h-1.7zM658.6 502.6h1.7v1.7h-1.7zM658.9 515.8h1.7v1.7h-1.7zM659.3 514.2h1.7v1.7h-1.7zM659.2 514.0h1.7v1.7h-1.7zM659.2 510.0h1.7v1.7h-1.7zM659.2 512.0h1.7v1.7h-1.7zM659.7 504.6h1.7v1.7h-1.7zM659.5 512.6h1.7v1.7h-1.7zM659.5 513.8h1.7v1.7h-1.7zM660.1 510.1h1.7v1.7h-1.7zM660.1 505.5h1.7v1.7h-1.7zM660.1 511.2h1.7v1.7h-1.7zM660.0 506.3h1.7v1.7h-1.7zM660.4 514.4h1.7v1.7h-1.7zM660.4 513.8h1.7v1.7h-1.7zM660.2 509.8h1.7v1.7h-1.7zM660.9 515.7h1.7v1.7h-1.7zM660.7 502.8h1.7v1.7h-1.7zM660.9 505.5h1.7v1.7h-1.7zM661.0 512.8h1.7v1.7h-1.7zM661.3 506.9h1.7v1.7h-1.7zM661.2 504.0h1.7v1.7h-1.7zM661.3 506.0h1.7v1.7h-1.7zM661.5 511.6h1.7v1.7h-1.7zM661.5 515.4h1.7v1.7h-1.7zM661.4 511.5h1.7v1.7h-1.7zM661.6 515.2h1.7v1.7h-1.7zM661.8 512.5h1.7v1.7h-1.7zM661.9 512.5h1.7v1.7h-1.7zM662.1 505.0h1.7v1.7h-1.7zM662.2 507.1h1.7v1.7h-1.7zM662.2 511.2h1.7v1.7h-1.7zM662.2 505.6h1.7v1.7h-1.7zM662.7 512.6h1.7v1.7h-1.7zM662.7 515.9h1.7v1.7h-1.7zM662.8 513.3h1.7v1.7h-1.7zM662.8 511.2h1.7v1.7h-1.7zM663.3 513.7h1.7v1.7h-1.7zM663.0 509.7h1.7v1.7h-1.7zM663.1 503.5h1.7v1.7h-1.7zM663.1 515.7h1.7v1.7h-1.7zM663.4 509.6h1.7v1.7h-1.7zM663.7 513.2h1.7v1.7h-1.7zM663.4 506.6h1.7v1.7h-1.7zM663.7 514.7h1.7v1.7h-1.7zM664.1 505.3h1.7v1.7h-1.7zM663.8 511.2h1.7v1.7h-1.7zM664.0 515.9h1.7v1.7h-1.7zM664.4 514.6h1.7v1.7h-1.7zM664.2 511.2h1.7v1.7h-1.7zM664.5 505.4h1.7v1.7h-1.7zM664.2 502.6h1.7v1.7h-1.7zM664.6 510.4h1.7v1.7h-1.7zM664.7 513.2h1.7v1.7h-1.7zM664.9 513.2h1.7v1.7h-1.7zM664.6 515.8h1.7v1.7h-1.7zM665.1 513.3h1.7v1.7h-1.7zM665.1 515.3h1.7v1.7h-1.7zM665.1 511.1h1.7v1.7h-1.7zM665.1 512.4h1.7v1.7h-1.7zM665.7 512.4h1.7v1.7h-1.7zM665.4 504.4h1.7v1.7h-1.7zM665.7 505.4h1.7v1.7h-1.7zM665.6 511.7h1.7v1.7h-1.7zM665.9 505.7h1.7v1.7h-1.7zM665.9 502.6h1.7v1.7h-1.7zM665.9 510.7h1.7v1.7h-1.7zM666.3 505.4h1.7v1.7h-1.7zM666.2 511.9h1.7v1.7h-1.7zM666.3 511.6h1.7v1.7h-1.7zM666.8 504.0h1.7v1.7h-1.7zM666.8 513.8h1.7v1.7h-1.7zM666.8 514.4h1.7v1.7h-1.7zM666.9 513.2h1.7v1.7h-1.7zM667.0 509.8h1.7v1.7h-1.7zM667.0 505.8h1.7v1.7h-1.7zM667.1 504.1h1.7v1.7h-1.7zM667.7 510.3h1.7v1.7h-1.7zM667.7 506.3h1.7v1.7h-1.7zM667.4 514.0h1.7v1.7h-1.7zM667.4 510.7h1.7v1.7h-1.7zM667.8 505.6h1.7v1.7h-1.7zM667.8 502.7h1.7v1.7h-1.7zM668.1 513.7h1.7v1.7h-1.7zM667.8 514.4h1.7v1.7h-1.7zM668.3 514.4h1.7v1.7h-1.7zM668.4 507.4h1.7v1.7h-1.7zM668.3 509.9h1.7v1.7h-1.7zM668.2 504.7h1.7v1.7h-1.7zM668.6 515.0h1.7v1.7h-1.7zM668.8 505.7h1.7v1.7h-1.7zM668.7 506.3h1.7v1.7h-1.7zM669.0 506.3h1.7v1.7h-1.7zM669.3 508.4h1.7v1.7h-1.7zM669.2 504.6h1.7v1.7h-1.7zM669.5 510.5h1.7v1.7h-1.7zM669.7 515.4h1.7v1.7h-1.7zM669.5 516.3h1.7v1.7h-1.7zM670.1 508.9h1.7v1.7h-1.7zM670.0 511.2h1.7v1.7h-1.7zM670.1 509.8h1.7v1.7h-1.7zM670.2 504.5h1.7v1.7h-1.7zM670.2 506.1h1.7v1.7h-1.7zM670.4 516.1h1.7v1.7h-1.7zM670.3 513.6h1.7v1.7h-1.7zM670.9 505.9h1.7v1.7h-1.7zM670.7 508.5h1.7v1.7h-1.7zM670.9 512.9h1.7v1.7h-1.7zM671.1 509.4h1.7v1.7h-1.7zM671.1 514.0h1.7v1.7h-1.7zM671.1 505.6h1.7v1.7h-1.7zM671.7 506.3h1.7v1.7h-1.7zM671.6 507.6h1.7v1.7h-1.7zM671.4 506.9h1.7v1.7h-1.7zM671.7 513.5h1.7v1.7h-1.7zM671.8 511.1h1.7v1.7h-1.7zM672.1 509.7h1.7v1.7h-1.7zM672.0 513.5h1.7v1.7h-1.7z" fill="#e8342a"/>
<path d="M400.8 403.0h1.8v1.8h-1.8zM401.0 427.0h1.8v1.8h-1.8zM400.9 445.0h1.8v1.8h-1.8zM401.2 372.0h1.8v1.8h-1.8zM402.5 378.0h1.8v1.8h-1.8zM401.5 384.0h1.8v1.8h-1.8zM403.0 371.5h1.8v1.8h-1.8zM403.5 373.0h1.8v1.8h-1.8zM404.2 372.2h1.8v1.8h-1.8zM404.8 374.5h1.8v1.8h-1.8zM403.8 376.0h1.8v1.8h-1.8zM405.5 375.8h1.8v1.8h-1.8zM402.8 375.0h1.8v1.8h-1.8zM406.4 381.0h1.8v1.8h-1.8zM406.9 383.5h1.8v1.8h-1.8zM407.4 382.2h1.8v1.8h-1.8zM406.6 385.5h1.8v1.8h-1.8zM408.0 393.0h1.8v1.8h-1.8zM408.6 395.0h1.8v1.8h-1.8zM409.1 397.5h1.8v1.8h-1.8zM408.3 398.5h1.8v1.8h-1.8zM409.8 392.8h1.8v1.8h-1.8zM409.6 396.0h1.8v1.8h-1.8zM410.5 402.5h1.8v1.8h-1.8zM411.0 404.8h1.8v1.8h-1.8zM411.6 403.6h1.8v1.8h-1.8zM410.8 407.0h1.8v1.8h-1.8zM412.3 405.7h1.8v1.8h-1.8zM401.6 374.0h1.8v1.8h-1.8zM402.0 381.0h1.8v1.8h-1.8z" fill="#e8342a"/>
</g>
<rect x="400.4" y="298.7" width="272.4" height="218.8" fill="none" stroke="#1e1e1e" stroke-width="1.3"/>
<path d="M400.4 517.50 h7 M400.4 462.80 h7 M400.4 408.10 h7 M400.4 353.40 h7 M400.4 298.70 h7 M400.4 501.03 h4 M400.4 491.40 h4 M400.4 484.57 h4 M400.4 479.27 h4 M400.4 474.94 h4 M400.4 471.27 h4 M400.4 468.10 h4 M400.4 465.30 h4 M400.4 446.33 h4 M400.4 436.70 h4 M400.4 429.87 h4 M400.4 424.57 h4 M400.4 420.24 h4 M400.4 416.57 h4 M400.4 413.40 h4 M400.4 410.60 h4 M400.4 391.63 h4 M400.4 382.00 h4 M400.4 375.17 h4 M400.4 369.87 h4 M400.4 365.54 h4 M400.4 361.87 h4 M400.4 358.70 h4 M400.4 355.90 h4 M400.4 336.93 h4 M400.4 327.30 h4 M400.4 320.47 h4 M400.4 315.17 h4 M400.4 310.84 h4 M400.4 307.17 h4 M400.4 304.00 h4 M400.4 301.20 h4 M400.40 517.5 v-7 M427.64 517.5 v-3.6 M454.88 517.5 v-3.6 M482.12 517.5 v-3.6 M509.36 517.5 v-3.6 M536.60 517.5 v-7 M563.84 517.5 v-3.6 M591.08 517.5 v-3.6 M618.32 517.5 v-3.6 M645.56 517.5 v-3.6 M672.80 517.5 v-7 " stroke="#1e1e1e" stroke-width="1.3"/>
<text x="389.00" y="303.50" font-size="13" text-anchor="end" font-weight="normal" >10</text>
<text x="389.40" y="297.20" font-size="10.5" text-anchor="start" font-weight="normal" >2</text>
<text x="389.00" y="358.20" font-size="13" text-anchor="end" font-weight="normal" >10</text>
<text x="389.40" y="351.90" font-size="10.5" text-anchor="start" font-weight="normal" >1</text>
<text x="384.40" y="468.10" font-size="13" text-anchor="end" font-weight="normal" >10</text>
<text x="384.40" y="461.50" font-size="10.5" text-anchor="start" font-weight="normal" >−1</text>
<text x="384.40" y="522.80" font-size="13" text-anchor="end" font-weight="normal" >10</text>
<text x="384.40" y="516.20" font-size="10.5" text-anchor="start" font-weight="normal" >−2</text>
<text x="395.20" y="412.70" font-size="13" text-anchor="end" font-weight="normal" >1</text>
<text x="400.40" y="532.60" font-size="13" text-anchor="middle" font-weight="normal" >0</text>
<text x="536.60" y="532.60" font-size="13" text-anchor="middle" font-weight="normal" >0.05</text>
<text x="672.80" y="532.60" font-size="13" text-anchor="middle" font-weight="normal" >0.10</text>
<text x="536.60" y="549.60" font-size="13" text-anchor="middle" font-weight="normal" >Electron energy / eV</text>
<text transform="translate(369 407.5) rotate(-90)" font-size="13" text-anchor="middle">Scattering rate / THz</text>
<text x="344.60" y="303.00" font-size="20" text-anchor="start" font-weight="bold" >d</text>
<circle cx="490.8" cy="389.9" r="4.8" fill="#3f8fc6"/>
<text x="503.80" y="394.50" font-size="13" text-anchor="start" font-weight="normal" >Electron-Phonon</text>
<circle cx="490.8" cy="405.7" r="4.8" fill="#e8342a"/>
<text x="503.80" y="410.30" font-size="13" text-anchor="start" font-weight="normal" >Electron-Ionized impurity</text>
<circle cx="490.8" cy="421.1" r="4.8" fill="#fd9310"/>
<text x="503.80" y="425.70" font-size="13" text-anchor="start" font-weight="normal" >Total</text></svg>
</body></html>
